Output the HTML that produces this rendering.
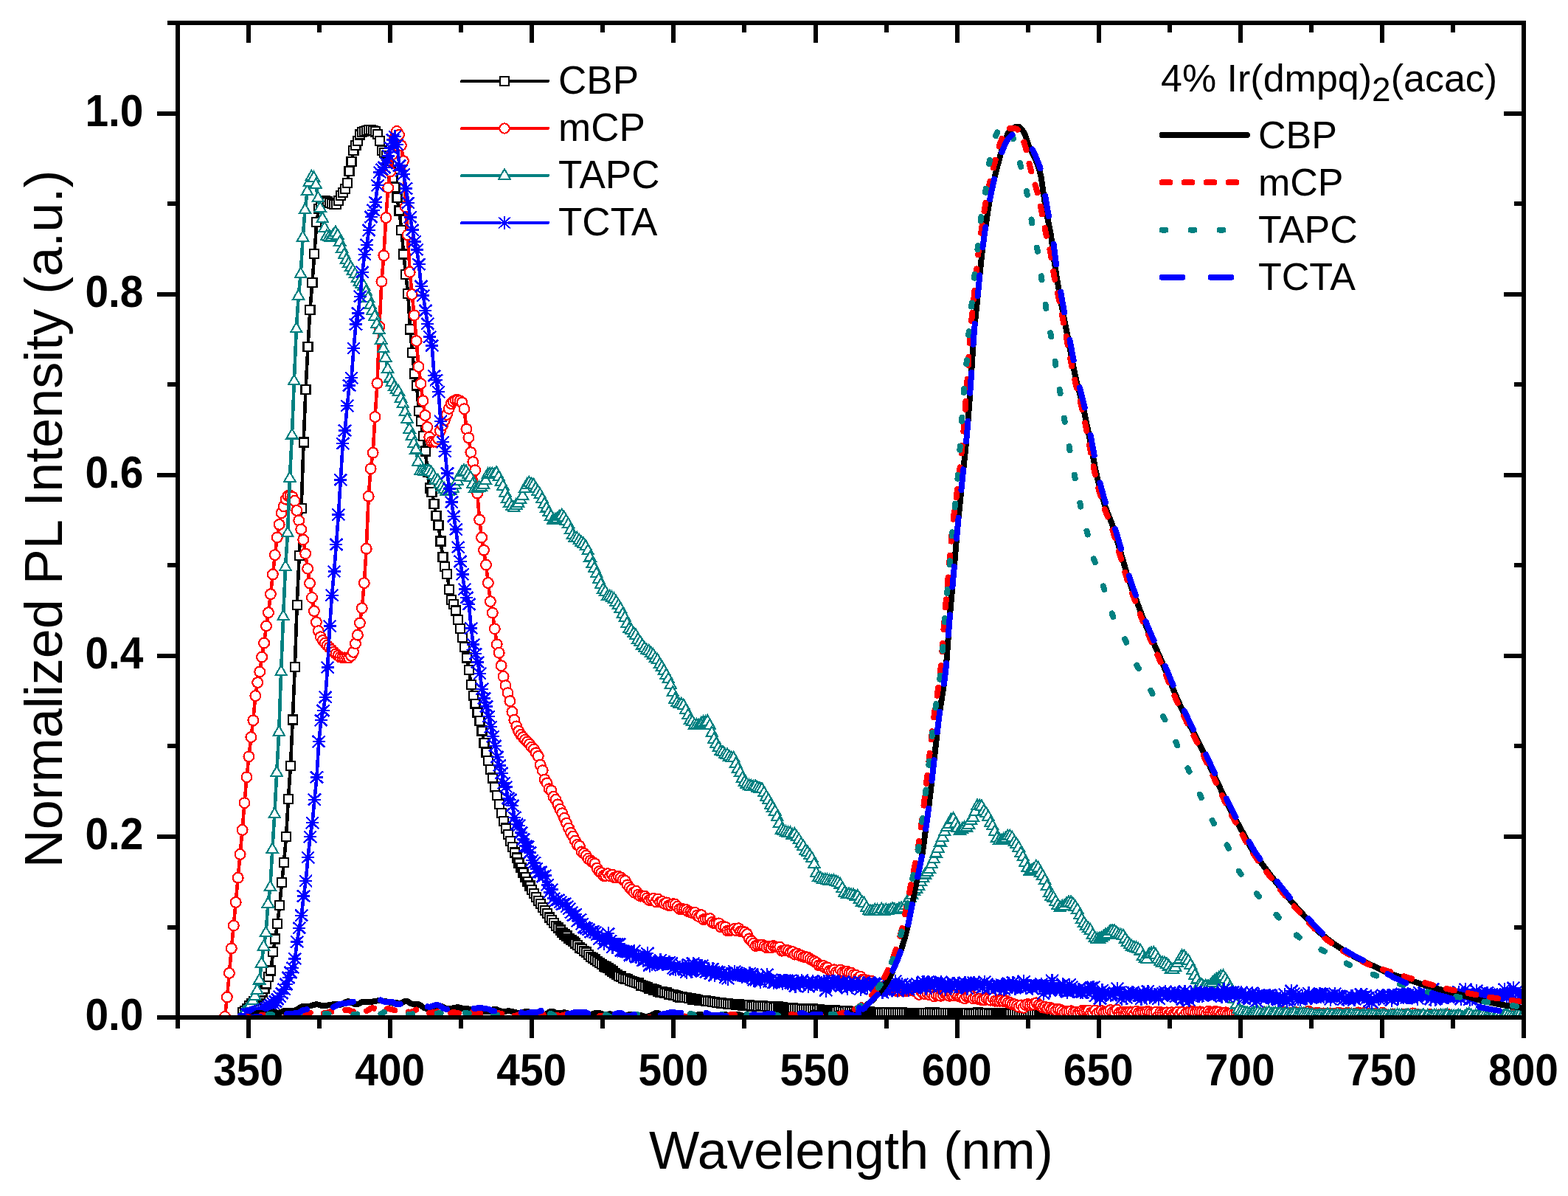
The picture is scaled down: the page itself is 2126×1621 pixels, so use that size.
<!DOCTYPE html><html><head><meta charset="utf-8"><style>html,body{margin:0;padding:0;background:#fff}svg{display:block}</style></head><body>
<svg width="2126" height="1621" viewBox="0 0 2126 1621" shape-rendering="crispEdges">
<rect width="2126" height="1621" fill="#fff"/>
<defs><clipPath id="c"><rect x="241" y="31" width="1825" height="1348"/></clipPath></defs>
<g clip-path="url(#c)">
<path d="M329 1372L331.9 1369.9L334.9 1366.8L337.8 1363L340.8 1359.8L343.7 1357L346.7 1354.4L349.6 1351.6L352.6 1348.4L355.5 1344.6L358.5 1340L361.4 1333.5L364.4 1323.9L367.3 1315.4L370.3 1289.8L373.2 1272.5L376.2 1251.8L379.1 1227.1L382.1 1196.2L385 1169.1L388 1134.1L390.9 1083.1L393.9 1038.2L396.8 975.6L399.8 904L402.7 820L405.7 753.2L408.6 689L411.6 599.6L414.5 527.8L417.5 469.9L420.4 419.8L423.4 383.1L426.3 344.3L429.3 301.3L432.2 282.9L435.2 274.6L438.1 271.7L441.1 272.3L444 273.5L447 274.7L449.9 275.9L452.9 277.1L455.8 277.4L458.8 271.6L461.7 265L464.7 260.9L467.6 255.9L470.6 248.2L473.5 232L476.5 219.2L479.4 204.3L482.4 197.1L485.3 190.7L488.3 182.5L491.2 179.3L494.2 177.6L497.1 176.7L500.1 176.2L503 176.2L506 176.9L508.9 178.4L511.9 182.2L514.8 190.9L517.8 203.8L520.7 206.6L523.7 211.2L526.6 219.7L529.6 230.1L532.5 241.1L535.5 253.7L538.4 268.2L541.4 285.5L544.3 311.9L547.3 344.5L550.2 372.4L553.2 398.1L556.1 446.4L559.1 478.1L562 506.5L565 522.6L567.9 556.9L570.9 570.9L573.8 591L576.8 611.5L579.7 640L582.7 661.5L585.6 666.8L588.6 683.1L591.5 698.9L594.5 712.3L597.4 733.4L600.4 755.1L603.3 768.2L606.3 778.1L609.2 798.9L612.2 813L615.1 818.9L618.1 827.4L621 839.9L624 851.7L626.9 863.8L629.9 876.7L632.8 891.5L635.8 908.2L638.7 928.3L641.7 943.2L644.6 954.3L647.6 965.6L650.5 976.9L653.5 990.4L656.4 1006.8L659.4 1019.6L662.3 1030.9L665.3 1042.7L668.2 1054.6L671.2 1066.4L674.1 1078.1L677.1 1090L680 1102L683 1112.7L685.9 1122.4L688.9 1131.3L691.8 1139.8L694.8 1147.8L697.7 1155.4L700.7 1162.6L703.6 1169.5L706.6 1176.1L709.5 1182.5L712.5 1188.7L715.4 1194.9L718.4 1200.5L721.3 1206.2L724.3 1211.2L727.2 1215.9L730.2 1220.8L733.1 1225.1L736.1 1229.9L739 1233.8L742 1238.2L744.9 1243.6L747.9 1247.1L750.8 1251L753.8 1254.7L756.7 1257.5L759.7 1260.6L762.6 1263.7L765.6 1266.4L768.5 1268.5L771.5 1271.9L774.4 1273.9L777.4 1276.1L780.3 1278.6L783.3 1281.2L786.2 1284.4L789.2 1285.8L792.1 1288.9L795.1 1290.5L798 1293.9L801 1296.7L803.9 1298.5L806.9 1300.5L809.8 1302.9L812.8 1305.1L815.7 1307L818.7 1309.4L821.6 1310.6L824.6 1312.2L827.5 1314.5L830.5 1316.6L833.4 1318.8L836.4 1320.7L839.3 1322.7L842.3 1323.5L845.2 1325.8L848.2 1326.4L851.1 1327.3L854.1 1329L857 1330.3L860 1331L862.9 1331.9L865.9 1332.6L868.8 1335.4L871.8 1336L874.7 1336.7L877.7 1338.2L880.6 1339.7L883.6 1340L886.5 1341.6L889.5 1342.2L892.4 1343.7L895.4 1344.4L898.3 1343.7L901.3 1345.5L904.2 1345.6L907.2 1347.4L910.1 1347.8L913.1 1348.6L916 1348.7L919 1350.6L921.9 1351.4L924.9 1350.8L927.8 1352L930.8 1352.3L933.7 1353.1L936.7 1353.1L939.6 1354.9L942.6 1354.3L945.5 1355L948.5 1355.8L951.4 1355.7L954.4 1356.3L957.3 1356.6L960.3 1357.2L963.2 1357.1L966.2 1357.8L969.1 1358.3L972.1 1358.7L975 1359.2L978 1359.5L980.9 1360.3L983.9 1360.2L986.8 1360.6L989.8 1360.7L992.7 1361.1L995.7 1361L998.6 1362L1001.6 1361.6L1004.5 1362L1007.5 1362.6L1010.4 1362.9L1013.4 1362.8L1016.3 1362.3L1019.3 1363.5L1022.2 1363.6L1025.2 1363.1L1028.1 1364.1L1031.1 1363.6L1034 1363.6L1037 1364.2L1039.9 1364.2L1042.9 1364.5L1045.8 1364L1048.8 1365.5L1051.7 1364.7L1054.7 1364.6L1057.6 1365.7L1060.6 1365.5L1063.5 1366L1066.5 1366L1069.4 1366.4L1072.4 1366.7L1075.3 1366.6L1078.3 1367.3L1081.2 1367L1084.2 1367L1087.1 1367.6L1090.1 1367.8L1093 1367.7L1096 1367.6L1098.9 1368.3L1101.9 1367.5L1104.8 1367.9L1107.8 1368.5L1110.7 1368.1L1113.7 1368.8L1116.6 1368.9L1119.6 1369.4L1122.5 1368.9L1125.5 1369.1L1128.4 1369.7L1131.4 1368.7L1134.3 1371.1L1137.3 1369.7L1140.2 1369.8L1143.2 1370.6L1146.1 1370.5L1149.1 1369.9L1152 1371.1L1155 1371.3L1157.9 1371L1160.9 1371.2L1163.8 1371.6L1166.8 1371.2L1169.7 1371.9L1172.7 1371.9L1175.6 1371.6L1178.6 1371.4L1181.5 1371.9L1184.5 1371.7L1187.4 1372.5L1190.4 1372.3L1193.3 1372.6L1196.3 1372.4L1199.2 1372.5L1202.2 1372.1L1205.1 1372.7L1208.1 1373.2L1211 1372.4L1214 1372.4L1216.9 1372.6L1219.9 1372.5L1222.8 1372.4L1225.8 1372.8L1228.7 1372.7L1231.7 1373.4L1234.6 1372.8L1237.6 1373L1240.5 1373.3L1243.5 1372.8L1246.4 1373.5L1249.4 1372.7L1252.3 1372.7L1255.3 1372.9L1258.2 1373L1261.2 1372.5L1264.1 1373.1L1267.1 1372.5L1270 1373.7L1273 1373.2L1275.9 1373L1278.9 1372.9L1281.8 1373.1L1284.8 1373.2L1287.7 1372.9L1290.7 1373L1293.6 1373.3L1296.6 1373.2L1299.5 1373.8L1302.5 1373.9L1305.4 1373.4L1308.4 1373.6L1311.3 1372.9L1314.3 1373.7L1317.2 1373.5L1320.2 1373.7L1323.1 1374.2L1326.1 1372.6L1329 1373.7L1332 1373.1L1334.9 1373.8L1337.9 1373.1L1340.8 1373.4L1343.8 1373.7L1346.7 1373.9L1349.7 1373.7L1352.6 1373.4L1355.6 1373.5L1358.5 1374.1L1361.5 1373.8L1364.4 1373.1L1367.4 1374.1L1370.3 1374L1373.3 1374.2L1376.2 1373.7L1379.2 1374.2L1382.1 1373.5L1385.1 1374.1L1388 1373.7L1391 1374.2L1393.9 1374.4L1396.9 1373.7L1399.8 1374L1402.8 1374L1405.7 1374.5L1408.7 1374.3L1411.6 1373.6L1414.6 1374.3L1417.5 1374.4L1420.5 1375L1423.4 1373.5L1426.4 1374L1429.3 1374.7L1432.3 1373.7L1435.2 1373.8L1438.2 1374.5L1441.1 1374.7L1444.1 1374.1L1447 1374.6L1450 1374.4L1452.9 1375L1455.9 1374.4L1458.8 1374.8L1461.8 1374.1L1464.7 1374.4L1467.7 1374.5L1470.6 1375L1473.6 1374.8L1476.5 1374.3L1479.5 1374.9L1482.4 1374.9L1485.4 1374.6L1488.3 1374.5L1491.3 1374.6L1494.2 1374L1497.2 1374.8L1500.1 1374.8L1503.1 1374.4L1506 1375.1L1509 1374.3L1511.9 1374.6L1514.9 1374.7L1517.8 1375.7L1520.8 1374.3L1523.7 1375.1L1526.7 1375.3L1529.6 1375.1L1532.6 1375.5L1535.5 1374.6L1538.5 1374.1L1541.4 1375.4L1544.4 1374.6L1547.3 1375L1550.3 1374.7L1553.2 1375.6L1556.2 1375.5L1559.1 1374.9L1562.1 1375.6L1565 1375.3L1568 1375.2L1570.9 1375.3L1573.9 1375.2L1576.8 1375.6L1579.8 1375.5L1582.7 1375.2L1585.7 1375.8L1588.6 1375.2L1591.6 1375.6L1594.5 1375.6L1597.5 1376.1L1600.4 1375.3L1603.4 1376.2L1606.3 1375.6L1609.3 1375.5L1612.2 1375.3L1615.2 1375.8L1618.1 1375.7L1621.1 1375.2L1624 1375.2L1627 1375.5L1629.9 1375.4L1632.9 1376.2L1635.8 1376.3L1638.8 1376.1L1641.7 1375.9L1644.7 1375.6L1647.6 1375.9L1650.6 1376.2L1653.5 1376.7L1656.5 1376.3L1659.4 1375.8L1662.4 1375.9L1665.3 1375.8L1668.3 1375.7L1671.2 1375.9L1674.2 1376.1L1677.1 1376.8L1680.1 1376.1L1683 1376.6L1686 1376.8L1688.9 1376.1L1691.9 1376.8L1694.8 1376.4L1697.8 1376L1700.7 1376.3L1703.7 1376.2L1706.6 1376.1L1709.6 1376.2L1712.5 1376.3L1715.5 1376.5L1718.4 1376L1721.4 1376.3L1724.3 1375.7L1727.3 1376.5L1730.2 1376.6L1733.2 1376.5L1736.1 1376.6L1739.1 1376.7L1742 1376.2L1745 1376.4L1747.9 1376.7L1750.9 1377L1753.8 1376.7L1756.8 1377.6L1759.7 1376.6L1762.7 1377L1765.6 1377.2L1768.6 1376.6L1771.5 1376.4L1774.5 1376.3L1777.4 1376.8L1780.4 1377.3L1783.3 1376.9L1786.3 1376.9L1789.2 1376.7L1792.2 1377.1L1795.1 1376.1L1798.1 1377.1L1801 1377L1804 1376.5L1806.9 1378L1809.9 1376.6L1812.8 1376.7L1815.8 1376.7L1818.7 1377.7L1821.7 1376.9L1824.6 1377.6L1827.6 1377.6L1830.5 1377.6L1833.5 1377L1836.4 1377.3L1839.4 1378.3L1842.3 1377.2L1845.3 1377.4L1848.2 1377.7L1851.2 1378.2L1854.1 1378L1857.1 1378.2L1860 1377.6L1863 1378.4L1865.9 1378.3L1868.9 1377.5L1871.8 1378.8L1874.8 1379.2L1877.7 1378L1880.7 1378.3L1883.6 1378.9L1886.6 1377.8L1889.5 1377.6L1892.5 1377.9L1895.4 1378.2L1898.4 1378.3L1901.3 1378.7L1904.3 1378.6L1907.2 1378L1910.2 1378.8L1913.1 1379.3L1916.1 1379.1L1919 1379L1922 1378.6L1924.9 1379L1927.9 1378.3L1930.8 1379L1933.8 1378.6L1936.7 1379.1L1939.7 1378.9L1942.6 1378.3L1945.6 1378.8L1948.5 1379.2L1951.5 1378.3L1954.4 1378.5L1957.4 1378.5L1960.3 1378.2L1963.3 1379.2L1966.2 1379.3L1969.2 1379.1L1972.1 1378.9L1975.1 1378.8L1978 1378.9L1981 1378.6L1983.9 1379.2L1986.9 1379.3L1989.8 1379.2L1992.8 1378.7L1995.7 1378.9L1998.7 1378.8L2001.6 1379.6L2004.6 1379L2007.5 1378.2L2010.5 1379.1L2013.4 1379.7L2016.4 1379.2L2019.3 1379.3L2022.3 1379L2025.2 1378.2L2028.2 1378.2L2031.1 1378.5L2034.1 1378.9L2037 1379.1L2040 1379.3L2042.9 1378.8L2045.9 1379.4L2048.8 1378.9L2051.8 1378.7L2054.7 1379.3L2057.7 1378.6L2060.6 1377.9L2063.6 1378.6L2066.5 1379L2069.5 1377.8" fill="none" stroke="#000" stroke-width="4.6" stroke-linejoin="round"/>
<g fill="#fff" stroke="#000" stroke-width="2.2"><rect x="323" y="1366" width="12" height="12"/><rect x="325.9" y="1363.9" width="12" height="12"/><rect x="328.9" y="1360.8" width="12" height="12"/><rect x="331.8" y="1357" width="12" height="12"/><rect x="334.8" y="1353.8" width="12" height="12"/><rect x="337.7" y="1351" width="12" height="12"/><rect x="340.7" y="1348.4" width="12" height="12"/><rect x="343.6" y="1345.6" width="12" height="12"/><rect x="346.6" y="1342.4" width="12" height="12"/><rect x="349.5" y="1338.6" width="12" height="12"/><rect x="352.5" y="1334" width="12" height="12"/><rect x="355.4" y="1327.5" width="12" height="12"/><rect x="358.4" y="1317.9" width="12" height="12"/><rect x="361.3" y="1309.4" width="12" height="12"/><rect x="364.3" y="1283.8" width="12" height="12"/><rect x="367.2" y="1266.5" width="12" height="12"/><rect x="370.2" y="1245.8" width="12" height="12"/><rect x="373.1" y="1221.1" width="12" height="12"/><rect x="376.1" y="1190.2" width="12" height="12"/><rect x="379" y="1163.1" width="12" height="12"/><rect x="382" y="1128.1" width="12" height="12"/><rect x="384.9" y="1077.1" width="12" height="12"/><rect x="387.9" y="1032.2" width="12" height="12"/><rect x="390.8" y="969.6" width="12" height="12"/><rect x="393.8" y="898" width="12" height="12"/><rect x="396.7" y="814" width="12" height="12"/><rect x="399.7" y="747.2" width="12" height="12"/><rect x="402.6" y="683" width="12" height="12"/><rect x="405.6" y="593.6" width="12" height="12"/><rect x="408.5" y="521.8" width="12" height="12"/><rect x="411.5" y="463.9" width="12" height="12"/><rect x="414.4" y="413.8" width="12" height="12"/><rect x="417.4" y="377.1" width="12" height="12"/><rect x="420.3" y="338.3" width="12" height="12"/><rect x="423.3" y="295.3" width="12" height="12"/><rect x="426.2" y="276.9" width="12" height="12"/><rect x="429.2" y="268.6" width="12" height="12"/><rect x="432.1" y="265.7" width="12" height="12"/><rect x="435.1" y="266.3" width="12" height="12"/><rect x="438" y="267.5" width="12" height="12"/><rect x="441" y="268.7" width="12" height="12"/><rect x="443.9" y="269.9" width="12" height="12"/><rect x="446.9" y="271.1" width="12" height="12"/><rect x="449.8" y="271.4" width="12" height="12"/><rect x="452.8" y="265.6" width="12" height="12"/><rect x="455.7" y="259" width="12" height="12"/><rect x="458.7" y="254.9" width="12" height="12"/><rect x="461.6" y="249.9" width="12" height="12"/><rect x="464.6" y="242.2" width="12" height="12"/><rect x="467.5" y="226" width="12" height="12"/><rect x="470.5" y="213.2" width="12" height="12"/><rect x="473.4" y="198.3" width="12" height="12"/><rect x="476.4" y="191.1" width="12" height="12"/><rect x="479.3" y="184.7" width="12" height="12"/><rect x="482.3" y="176.5" width="12" height="12"/><rect x="485.2" y="173.3" width="12" height="12"/><rect x="488.2" y="171.6" width="12" height="12"/><rect x="491.1" y="170.7" width="12" height="12"/><rect x="494.1" y="170.2" width="12" height="12"/><rect x="497" y="170.2" width="12" height="12"/><rect x="500" y="170.9" width="12" height="12"/><rect x="502.9" y="172.4" width="12" height="12"/><rect x="505.9" y="176.2" width="12" height="12"/><rect x="508.8" y="184.9" width="12" height="12"/><rect x="511.8" y="197.8" width="12" height="12"/><rect x="514.7" y="200.6" width="12" height="12"/><rect x="517.7" y="205.2" width="12" height="12"/><rect x="520.6" y="213.7" width="12" height="12"/><rect x="523.6" y="224.1" width="12" height="12"/><rect x="526.5" y="235.1" width="12" height="12"/><rect x="529.5" y="247.7" width="12" height="12"/><rect x="532.4" y="262.2" width="12" height="12"/><rect x="535.4" y="279.5" width="12" height="12"/><rect x="538.3" y="305.9" width="12" height="12"/><rect x="541.3" y="338.5" width="12" height="12"/><rect x="544.2" y="366.4" width="12" height="12"/><rect x="547.2" y="392.1" width="12" height="12"/><rect x="550.1" y="440.4" width="12" height="12"/><rect x="553.1" y="472.1" width="12" height="12"/><rect x="556" y="500.5" width="12" height="12"/><rect x="559" y="516.6" width="12" height="12"/><rect x="561.9" y="550.9" width="12" height="12"/><rect x="564.9" y="564.9" width="12" height="12"/><rect x="567.8" y="585" width="12" height="12"/><rect x="570.8" y="605.5" width="12" height="12"/><rect x="573.7" y="634" width="12" height="12"/><rect x="576.7" y="655.5" width="12" height="12"/><rect x="579.6" y="660.8" width="12" height="12"/><rect x="582.6" y="677.1" width="12" height="12"/><rect x="585.5" y="692.9" width="12" height="12"/><rect x="588.5" y="706.3" width="12" height="12"/><rect x="591.4" y="727.4" width="12" height="12"/><rect x="594.4" y="749.1" width="12" height="12"/><rect x="597.3" y="762.2" width="12" height="12"/><rect x="600.3" y="772.1" width="12" height="12"/><rect x="603.2" y="792.9" width="12" height="12"/><rect x="606.2" y="807" width="12" height="12"/><rect x="609.1" y="812.9" width="12" height="12"/><rect x="612.1" y="821.4" width="12" height="12"/><rect x="615" y="833.9" width="12" height="12"/><rect x="618" y="845.7" width="12" height="12"/><rect x="620.9" y="857.8" width="12" height="12"/><rect x="623.9" y="870.7" width="12" height="12"/><rect x="626.8" y="885.5" width="12" height="12"/><rect x="629.8" y="902.2" width="12" height="12"/><rect x="632.7" y="922.3" width="12" height="12"/><rect x="635.7" y="937.2" width="12" height="12"/><rect x="638.6" y="948.3" width="12" height="12"/><rect x="641.6" y="959.6" width="12" height="12"/><rect x="644.5" y="970.9" width="12" height="12"/><rect x="647.5" y="984.4" width="12" height="12"/><rect x="650.4" y="1000.8" width="12" height="12"/><rect x="653.4" y="1013.6" width="12" height="12"/><rect x="656.3" y="1024.9" width="12" height="12"/><rect x="659.3" y="1036.7" width="12" height="12"/><rect x="662.2" y="1048.6" width="12" height="12"/><rect x="665.2" y="1060.4" width="12" height="12"/><rect x="668.1" y="1072.1" width="12" height="12"/><rect x="671.1" y="1084" width="12" height="12"/><rect x="674" y="1096" width="12" height="12"/><rect x="677" y="1106.7" width="12" height="12"/><rect x="679.9" y="1116.4" width="12" height="12"/><rect x="682.9" y="1125.3" width="12" height="12"/><rect x="685.8" y="1133.8" width="12" height="12"/><rect x="688.8" y="1141.8" width="12" height="12"/><rect x="691.7" y="1149.4" width="12" height="12"/><rect x="694.7" y="1156.6" width="12" height="12"/><rect x="697.6" y="1163.5" width="12" height="12"/><rect x="700.6" y="1170.1" width="12" height="12"/><rect x="703.5" y="1176.5" width="12" height="12"/><rect x="706.5" y="1182.7" width="12" height="12"/><rect x="709.4" y="1188.9" width="12" height="12"/><rect x="712.4" y="1194.5" width="12" height="12"/><rect x="715.3" y="1200.2" width="12" height="12"/><rect x="718.3" y="1205.2" width="12" height="12"/><rect x="721.2" y="1209.9" width="12" height="12"/><rect x="724.2" y="1214.8" width="12" height="12"/><rect x="727.1" y="1219.1" width="12" height="12"/><rect x="730.1" y="1223.9" width="12" height="12"/><rect x="733" y="1227.8" width="12" height="12"/><rect x="736" y="1232.2" width="12" height="12"/><rect x="738.9" y="1237.6" width="12" height="12"/><rect x="741.9" y="1241.1" width="12" height="12"/><rect x="744.8" y="1245" width="12" height="12"/><rect x="747.8" y="1248.7" width="12" height="12"/><rect x="750.7" y="1251.5" width="12" height="12"/><rect x="753.7" y="1254.6" width="12" height="12"/><rect x="756.6" y="1257.7" width="12" height="12"/><rect x="759.6" y="1260.4" width="12" height="12"/><rect x="762.5" y="1262.5" width="12" height="12"/><rect x="765.5" y="1265.9" width="12" height="12"/><rect x="768.4" y="1267.9" width="12" height="12"/><rect x="771.4" y="1270.1" width="12" height="12"/><rect x="774.3" y="1272.6" width="12" height="12"/><rect x="777.3" y="1275.2" width="12" height="12"/><rect x="780.2" y="1278.4" width="12" height="12"/><rect x="783.2" y="1279.8" width="12" height="12"/><rect x="786.1" y="1282.9" width="12" height="12"/><rect x="789.1" y="1284.5" width="12" height="12"/><rect x="792" y="1287.9" width="12" height="12"/><rect x="795" y="1290.7" width="12" height="12"/><rect x="797.9" y="1292.5" width="12" height="12"/><rect x="800.9" y="1294.5" width="12" height="12"/><rect x="803.8" y="1296.9" width="12" height="12"/><rect x="806.8" y="1299.1" width="12" height="12"/><rect x="809.7" y="1301" width="12" height="12"/><rect x="812.7" y="1303.4" width="12" height="12"/><rect x="815.6" y="1304.6" width="12" height="12"/><rect x="818.6" y="1306.2" width="12" height="12"/><rect x="821.5" y="1308.5" width="12" height="12"/><rect x="824.5" y="1310.6" width="12" height="12"/><rect x="827.4" y="1312.8" width="12" height="12"/><rect x="830.4" y="1314.7" width="12" height="12"/><rect x="833.3" y="1316.7" width="12" height="12"/><rect x="836.3" y="1317.5" width="12" height="12"/><rect x="839.2" y="1319.8" width="12" height="12"/><rect x="842.2" y="1320.4" width="12" height="12"/><rect x="845.1" y="1321.3" width="12" height="12"/><rect x="848.1" y="1323" width="12" height="12"/><rect x="851" y="1324.3" width="12" height="12"/><rect x="854" y="1325" width="12" height="12"/><rect x="856.9" y="1325.9" width="12" height="12"/><rect x="859.9" y="1326.6" width="12" height="12"/><rect x="862.8" y="1329.4" width="12" height="12"/><rect x="865.8" y="1330" width="12" height="12"/><rect x="868.7" y="1330.7" width="12" height="12"/><rect x="871.7" y="1332.2" width="12" height="12"/><rect x="874.6" y="1333.7" width="12" height="12"/><rect x="877.6" y="1334" width="12" height="12"/><rect x="880.5" y="1335.6" width="12" height="12"/><rect x="883.5" y="1336.2" width="12" height="12"/><rect x="886.4" y="1337.7" width="12" height="12"/><rect x="889.4" y="1338.4" width="12" height="12"/><rect x="892.3" y="1337.7" width="12" height="12"/><rect x="895.3" y="1339.5" width="12" height="12"/><rect x="898.2" y="1339.6" width="12" height="12"/><rect x="901.2" y="1341.4" width="12" height="12"/><rect x="904.1" y="1341.8" width="12" height="12"/><rect x="907.1" y="1342.6" width="12" height="12"/><rect x="910" y="1342.7" width="12" height="12"/><rect x="913" y="1344.6" width="12" height="12"/><rect x="915.9" y="1345.4" width="12" height="12"/><rect x="918.9" y="1344.8" width="12" height="12"/><rect x="921.8" y="1346" width="12" height="12"/><rect x="924.8" y="1346.3" width="12" height="12"/><rect x="927.7" y="1347.1" width="12" height="12"/><rect x="930.7" y="1347.1" width="12" height="12"/><rect x="933.6" y="1348.9" width="12" height="12"/><rect x="936.6" y="1348.3" width="12" height="12"/><rect x="939.5" y="1349" width="12" height="12"/><rect x="942.5" y="1349.8" width="12" height="12"/><rect x="945.4" y="1349.7" width="12" height="12"/><rect x="948.4" y="1350.3" width="12" height="12"/><rect x="951.3" y="1350.6" width="12" height="12"/><rect x="954.3" y="1351.2" width="12" height="12"/><rect x="957.2" y="1351.1" width="12" height="12"/><rect x="960.2" y="1351.8" width="12" height="12"/><rect x="963.1" y="1352.3" width="12" height="12"/><rect x="966.1" y="1352.7" width="12" height="12"/><rect x="969" y="1353.2" width="12" height="12"/><rect x="972" y="1353.5" width="12" height="12"/><rect x="974.9" y="1354.3" width="12" height="12"/><rect x="977.9" y="1354.2" width="12" height="12"/><rect x="980.8" y="1354.6" width="12" height="12"/><rect x="983.8" y="1354.7" width="12" height="12"/><rect x="986.7" y="1355.1" width="12" height="12"/><rect x="989.7" y="1355" width="12" height="12"/><rect x="992.6" y="1356" width="12" height="12"/><rect x="995.6" y="1355.6" width="12" height="12"/><rect x="998.5" y="1356" width="12" height="12"/><rect x="1001.5" y="1356.6" width="12" height="12"/><rect x="1004.4" y="1356.9" width="12" height="12"/><rect x="1007.4" y="1356.8" width="12" height="12"/><rect x="1010.3" y="1356.3" width="12" height="12"/><rect x="1013.3" y="1357.5" width="12" height="12"/><rect x="1016.2" y="1357.6" width="12" height="12"/><rect x="1019.2" y="1357.1" width="12" height="12"/><rect x="1022.1" y="1358.1" width="12" height="12"/><rect x="1025.1" y="1357.6" width="12" height="12"/><rect x="1028" y="1357.6" width="12" height="12"/><rect x="1031" y="1358.2" width="12" height="12"/><rect x="1033.9" y="1358.2" width="12" height="12"/><rect x="1036.9" y="1358.5" width="12" height="12"/><rect x="1039.8" y="1358" width="12" height="12"/><rect x="1042.8" y="1359.5" width="12" height="12"/><rect x="1045.7" y="1358.7" width="12" height="12"/><rect x="1048.7" y="1358.6" width="12" height="12"/><rect x="1051.6" y="1359.7" width="12" height="12"/><rect x="1054.6" y="1359.5" width="12" height="12"/><rect x="1057.5" y="1360" width="12" height="12"/><rect x="1060.5" y="1360" width="12" height="12"/><rect x="1063.4" y="1360.4" width="12" height="12"/><rect x="1066.4" y="1360.7" width="12" height="12"/><rect x="1069.3" y="1360.6" width="12" height="12"/><rect x="1072.3" y="1361.3" width="12" height="12"/><rect x="1075.2" y="1361" width="12" height="12"/><rect x="1078.2" y="1361" width="12" height="12"/><rect x="1081.1" y="1361.6" width="12" height="12"/><rect x="1084.1" y="1361.8" width="12" height="12"/><rect x="1087" y="1361.7" width="12" height="12"/><rect x="1090" y="1361.6" width="12" height="12"/><rect x="1092.9" y="1362.3" width="12" height="12"/><rect x="1095.9" y="1361.5" width="12" height="12"/><rect x="1098.8" y="1361.9" width="12" height="12"/><rect x="1101.8" y="1362.5" width="12" height="12"/><rect x="1104.7" y="1362.1" width="12" height="12"/><rect x="1107.7" y="1362.8" width="12" height="12"/><rect x="1110.6" y="1362.9" width="12" height="12"/><rect x="1113.6" y="1363.4" width="12" height="12"/><rect x="1116.5" y="1362.9" width="12" height="12"/><rect x="1119.5" y="1363.1" width="12" height="12"/><rect x="1122.4" y="1363.7" width="12" height="12"/><rect x="1125.4" y="1362.7" width="12" height="12"/><rect x="1128.3" y="1365.1" width="12" height="12"/><rect x="1131.3" y="1363.7" width="12" height="12"/><rect x="1134.2" y="1363.8" width="12" height="12"/><rect x="1137.2" y="1364.6" width="12" height="12"/><rect x="1140.1" y="1364.5" width="12" height="12"/><rect x="1143.1" y="1363.9" width="12" height="12"/><rect x="1146" y="1365.1" width="12" height="12"/><rect x="1149" y="1365.3" width="12" height="12"/><rect x="1151.9" y="1365" width="12" height="12"/><rect x="1154.9" y="1365.2" width="12" height="12"/><rect x="1157.8" y="1365.6" width="12" height="12"/><rect x="1160.8" y="1365.2" width="12" height="12"/><rect x="1163.7" y="1365.9" width="12" height="12"/><rect x="1166.7" y="1365.9" width="12" height="12"/><rect x="1169.6" y="1365.6" width="12" height="12"/><rect x="1172.6" y="1365.4" width="12" height="12"/><rect x="1175.5" y="1365.9" width="12" height="12"/><rect x="1178.5" y="1365.7" width="12" height="12"/><rect x="1181.4" y="1366.5" width="12" height="12"/><rect x="1184.4" y="1366.3" width="12" height="12"/><rect x="1187.3" y="1366.6" width="12" height="12"/><rect x="1190.3" y="1366.4" width="12" height="12"/><rect x="1193.2" y="1366.5" width="12" height="12"/><rect x="1196.2" y="1366.1" width="12" height="12"/><rect x="1199.1" y="1366.7" width="12" height="12"/><rect x="1202.1" y="1367.2" width="12" height="12"/><rect x="1205" y="1366.4" width="12" height="12"/><rect x="1208" y="1366.4" width="12" height="12"/><rect x="1210.9" y="1366.6" width="12" height="12"/><rect x="1213.9" y="1366.5" width="12" height="12"/><rect x="1216.8" y="1366.4" width="12" height="12"/><rect x="1219.8" y="1366.8" width="12" height="12"/><rect x="1222.7" y="1366.7" width="12" height="12"/><rect x="1225.7" y="1367.4" width="12" height="12"/><rect x="1228.6" y="1366.8" width="12" height="12"/><rect x="1231.6" y="1367" width="12" height="12"/><rect x="1234.5" y="1367.3" width="12" height="12"/><rect x="1237.5" y="1366.8" width="12" height="12"/><rect x="1240.4" y="1367.5" width="12" height="12"/><rect x="1243.4" y="1366.7" width="12" height="12"/><rect x="1246.3" y="1366.7" width="12" height="12"/><rect x="1249.3" y="1366.9" width="12" height="12"/><rect x="1252.2" y="1367" width="12" height="12"/><rect x="1255.2" y="1366.5" width="12" height="12"/><rect x="1258.1" y="1367.1" width="12" height="12"/><rect x="1261.1" y="1366.5" width="12" height="12"/><rect x="1264" y="1367.7" width="12" height="12"/><rect x="1267" y="1367.2" width="12" height="12"/><rect x="1269.9" y="1367" width="12" height="12"/><rect x="1272.9" y="1366.9" width="12" height="12"/><rect x="1275.8" y="1367.1" width="12" height="12"/><rect x="1278.8" y="1367.2" width="12" height="12"/><rect x="1281.7" y="1366.9" width="12" height="12"/><rect x="1284.7" y="1367" width="12" height="12"/><rect x="1287.6" y="1367.3" width="12" height="12"/><rect x="1290.6" y="1367.2" width="12" height="12"/><rect x="1293.5" y="1367.8" width="12" height="12"/><rect x="1296.5" y="1367.9" width="12" height="12"/><rect x="1299.4" y="1367.4" width="12" height="12"/><rect x="1302.4" y="1367.6" width="12" height="12"/><rect x="1305.3" y="1366.9" width="12" height="12"/><rect x="1308.3" y="1367.7" width="12" height="12"/><rect x="1311.2" y="1367.5" width="12" height="12"/><rect x="1314.2" y="1367.7" width="12" height="12"/><rect x="1317.1" y="1368.2" width="12" height="12"/><rect x="1320.1" y="1366.6" width="12" height="12"/><rect x="1323" y="1367.7" width="12" height="12"/><rect x="1326" y="1367.1" width="12" height="12"/><rect x="1328.9" y="1367.8" width="12" height="12"/><rect x="1331.9" y="1367.1" width="12" height="12"/><rect x="1334.8" y="1367.4" width="12" height="12"/><rect x="1337.8" y="1367.7" width="12" height="12"/><rect x="1340.7" y="1367.9" width="12" height="12"/><rect x="1343.7" y="1367.7" width="12" height="12"/><rect x="1346.6" y="1367.4" width="12" height="12"/><rect x="1349.6" y="1367.5" width="12" height="12"/><rect x="1352.5" y="1368.1" width="12" height="12"/><rect x="1355.5" y="1367.8" width="12" height="12"/><rect x="1358.4" y="1367.1" width="12" height="12"/><rect x="1361.4" y="1368.1" width="12" height="12"/><rect x="1364.3" y="1368" width="12" height="12"/><rect x="1367.3" y="1368.2" width="12" height="12"/><rect x="1370.2" y="1367.7" width="12" height="12"/><rect x="1373.2" y="1368.2" width="12" height="12"/><rect x="1376.1" y="1367.5" width="12" height="12"/><rect x="1379.1" y="1368.1" width="12" height="12"/><rect x="1382" y="1367.7" width="12" height="12"/><rect x="1385" y="1368.2" width="12" height="12"/><rect x="1387.9" y="1368.4" width="12" height="12"/><rect x="1390.9" y="1367.7" width="12" height="12"/><rect x="1393.8" y="1368" width="12" height="12"/><rect x="1396.8" y="1368" width="12" height="12"/><rect x="1399.7" y="1368.5" width="12" height="12"/><rect x="1402.7" y="1368.3" width="12" height="12"/><rect x="1405.6" y="1367.6" width="12" height="12"/><rect x="1408.6" y="1368.3" width="12" height="12"/><rect x="1411.5" y="1368.4" width="12" height="12"/><rect x="1414.5" y="1369" width="12" height="12"/><rect x="1417.4" y="1367.5" width="12" height="12"/><rect x="1420.4" y="1368" width="12" height="12"/><rect x="1423.3" y="1368.7" width="12" height="12"/><rect x="1426.3" y="1367.7" width="12" height="12"/><rect x="1429.2" y="1367.8" width="12" height="12"/><rect x="1432.2" y="1368.5" width="12" height="12"/><rect x="1435.1" y="1368.7" width="12" height="12"/><rect x="1438.1" y="1368.1" width="12" height="12"/><rect x="1441" y="1368.6" width="12" height="12"/><rect x="1444" y="1368.4" width="12" height="12"/><rect x="1446.9" y="1369" width="12" height="12"/><rect x="1449.9" y="1368.4" width="12" height="12"/><rect x="1452.8" y="1368.8" width="12" height="12"/><rect x="1455.8" y="1368.1" width="12" height="12"/><rect x="1458.7" y="1368.4" width="12" height="12"/><rect x="1461.7" y="1368.5" width="12" height="12"/><rect x="1464.6" y="1369" width="12" height="12"/><rect x="1467.6" y="1368.8" width="12" height="12"/><rect x="1470.5" y="1368.3" width="12" height="12"/><rect x="1473.5" y="1368.9" width="12" height="12"/><rect x="1476.4" y="1368.9" width="12" height="12"/><rect x="1479.4" y="1368.6" width="12" height="12"/><rect x="1482.3" y="1368.5" width="12" height="12"/><rect x="1485.3" y="1368.6" width="12" height="12"/><rect x="1488.2" y="1368" width="12" height="12"/><rect x="1491.2" y="1368.8" width="12" height="12"/><rect x="1494.1" y="1368.8" width="12" height="12"/><rect x="1497.1" y="1368.4" width="12" height="12"/><rect x="1500" y="1369.1" width="12" height="12"/><rect x="1503" y="1368.3" width="12" height="12"/><rect x="1505.9" y="1368.6" width="12" height="12"/><rect x="1508.9" y="1368.7" width="12" height="12"/><rect x="1511.8" y="1369.7" width="12" height="12"/><rect x="1514.8" y="1368.3" width="12" height="12"/><rect x="1517.7" y="1369.1" width="12" height="12"/><rect x="1520.7" y="1369.3" width="12" height="12"/><rect x="1523.6" y="1369.1" width="12" height="12"/><rect x="1526.6" y="1369.5" width="12" height="12"/><rect x="1529.5" y="1368.6" width="12" height="12"/><rect x="1532.5" y="1368.1" width="12" height="12"/><rect x="1535.4" y="1369.4" width="12" height="12"/><rect x="1538.4" y="1368.6" width="12" height="12"/><rect x="1541.3" y="1369" width="12" height="12"/><rect x="1544.3" y="1368.7" width="12" height="12"/><rect x="1547.2" y="1369.6" width="12" height="12"/><rect x="1550.2" y="1369.5" width="12" height="12"/><rect x="1553.1" y="1368.9" width="12" height="12"/><rect x="1556.1" y="1369.6" width="12" height="12"/><rect x="1559" y="1369.3" width="12" height="12"/><rect x="1562" y="1369.2" width="12" height="12"/><rect x="1564.9" y="1369.3" width="12" height="12"/><rect x="1567.9" y="1369.2" width="12" height="12"/><rect x="1570.8" y="1369.6" width="12" height="12"/><rect x="1573.8" y="1369.5" width="12" height="12"/><rect x="1576.7" y="1369.2" width="12" height="12"/><rect x="1579.7" y="1369.8" width="12" height="12"/><rect x="1582.6" y="1369.2" width="12" height="12"/><rect x="1585.6" y="1369.6" width="12" height="12"/><rect x="1588.5" y="1369.6" width="12" height="12"/><rect x="1591.5" y="1370.1" width="12" height="12"/><rect x="1594.4" y="1369.3" width="12" height="12"/><rect x="1597.4" y="1370.2" width="12" height="12"/><rect x="1600.3" y="1369.6" width="12" height="12"/><rect x="1603.3" y="1369.5" width="12" height="12"/><rect x="1606.2" y="1369.3" width="12" height="12"/><rect x="1609.2" y="1369.8" width="12" height="12"/><rect x="1612.1" y="1369.7" width="12" height="12"/><rect x="1615.1" y="1369.2" width="12" height="12"/><rect x="1618" y="1369.2" width="12" height="12"/><rect x="1621" y="1369.5" width="12" height="12"/><rect x="1623.9" y="1369.4" width="12" height="12"/><rect x="1626.9" y="1370.2" width="12" height="12"/><rect x="1629.8" y="1370.3" width="12" height="12"/><rect x="1632.8" y="1370.1" width="12" height="12"/><rect x="1635.7" y="1369.9" width="12" height="12"/><rect x="1638.7" y="1369.6" width="12" height="12"/><rect x="1641.6" y="1369.9" width="12" height="12"/><rect x="1644.6" y="1370.2" width="12" height="12"/><rect x="1647.5" y="1370.7" width="12" height="12"/><rect x="1650.5" y="1370.3" width="12" height="12"/><rect x="1653.4" y="1369.8" width="12" height="12"/><rect x="1656.4" y="1369.9" width="12" height="12"/><rect x="1659.3" y="1369.8" width="12" height="12"/><rect x="1662.3" y="1369.7" width="12" height="12"/><rect x="1665.2" y="1369.9" width="12" height="12"/><rect x="1668.2" y="1370.1" width="12" height="12"/><rect x="1671.1" y="1370.8" width="12" height="12"/><rect x="1674.1" y="1370.1" width="12" height="12"/><rect x="1677" y="1370.6" width="12" height="12"/><rect x="1680" y="1370.8" width="12" height="12"/><rect x="1682.9" y="1370.1" width="12" height="12"/><rect x="1685.9" y="1370.8" width="12" height="12"/><rect x="1688.8" y="1370.4" width="12" height="12"/><rect x="1691.8" y="1370" width="12" height="12"/><rect x="1694.7" y="1370.3" width="12" height="12"/><rect x="1697.7" y="1370.2" width="12" height="12"/><rect x="1700.6" y="1370.1" width="12" height="12"/><rect x="1703.6" y="1370.2" width="12" height="12"/><rect x="1706.5" y="1370.3" width="12" height="12"/><rect x="1709.5" y="1370.5" width="12" height="12"/><rect x="1712.4" y="1370" width="12" height="12"/><rect x="1715.4" y="1370.3" width="12" height="12"/><rect x="1718.3" y="1369.7" width="12" height="12"/><rect x="1721.3" y="1370.5" width="12" height="12"/><rect x="1724.2" y="1370.6" width="12" height="12"/><rect x="1727.2" y="1370.5" width="12" height="12"/><rect x="1730.1" y="1370.6" width="12" height="12"/><rect x="1733.1" y="1370.7" width="12" height="12"/><rect x="1736" y="1370.2" width="12" height="12"/><rect x="1739" y="1370.4" width="12" height="12"/><rect x="1741.9" y="1370.7" width="12" height="12"/><rect x="1744.9" y="1371" width="12" height="12"/><rect x="1747.8" y="1370.7" width="12" height="12"/><rect x="1750.8" y="1371.6" width="12" height="12"/><rect x="1753.7" y="1370.6" width="12" height="12"/><rect x="1756.7" y="1371" width="12" height="12"/><rect x="1759.6" y="1371.2" width="12" height="12"/><rect x="1762.6" y="1370.6" width="12" height="12"/><rect x="1765.5" y="1370.4" width="12" height="12"/><rect x="1768.5" y="1370.3" width="12" height="12"/><rect x="1771.4" y="1370.8" width="12" height="12"/><rect x="1774.4" y="1371.3" width="12" height="12"/><rect x="1777.3" y="1370.9" width="12" height="12"/><rect x="1780.3" y="1370.9" width="12" height="12"/><rect x="1783.2" y="1370.7" width="12" height="12"/><rect x="1786.2" y="1371.1" width="12" height="12"/><rect x="1789.1" y="1370.1" width="12" height="12"/><rect x="1792.1" y="1371.1" width="12" height="12"/><rect x="1795" y="1371" width="12" height="12"/><rect x="1798" y="1370.5" width="12" height="12"/><rect x="1800.9" y="1372" width="12" height="12"/><rect x="1803.9" y="1370.6" width="12" height="12"/><rect x="1806.8" y="1370.7" width="12" height="12"/><rect x="1809.8" y="1370.7" width="12" height="12"/><rect x="1812.7" y="1371.7" width="12" height="12"/><rect x="1815.7" y="1370.9" width="12" height="12"/><rect x="1818.6" y="1371.6" width="12" height="12"/><rect x="1821.6" y="1371.6" width="12" height="12"/><rect x="1824.5" y="1371.6" width="12" height="12"/><rect x="1827.5" y="1371" width="12" height="12"/><rect x="1830.4" y="1371.3" width="12" height="12"/><rect x="1833.4" y="1372.3" width="12" height="12"/><rect x="1836.3" y="1371.2" width="12" height="12"/><rect x="1839.3" y="1371.4" width="12" height="12"/><rect x="1842.2" y="1371.7" width="12" height="12"/><rect x="1845.2" y="1372.2" width="12" height="12"/><rect x="1848.1" y="1372" width="12" height="12"/><rect x="1851.1" y="1372.2" width="12" height="12"/><rect x="1854" y="1371.6" width="12" height="12"/><rect x="1857" y="1372.4" width="12" height="12"/><rect x="1859.9" y="1372.3" width="12" height="12"/><rect x="1862.9" y="1371.5" width="12" height="12"/><rect x="1865.8" y="1372.8" width="12" height="12"/><rect x="1868.8" y="1373.2" width="12" height="12"/><rect x="1871.7" y="1372" width="12" height="12"/><rect x="1874.7" y="1372.3" width="12" height="12"/><rect x="1877.6" y="1372.9" width="12" height="12"/><rect x="1880.6" y="1371.8" width="12" height="12"/><rect x="1883.5" y="1371.6" width="12" height="12"/><rect x="1886.5" y="1371.9" width="12" height="12"/><rect x="1889.4" y="1372.2" width="12" height="12"/><rect x="1892.4" y="1372.3" width="12" height="12"/><rect x="1895.3" y="1372.7" width="12" height="12"/><rect x="1898.3" y="1372.6" width="12" height="12"/><rect x="1901.2" y="1372" width="12" height="12"/><rect x="1904.2" y="1372.8" width="12" height="12"/><rect x="1907.1" y="1373.3" width="12" height="12"/><rect x="1910.1" y="1373.1" width="12" height="12"/><rect x="1913" y="1373" width="12" height="12"/><rect x="1916" y="1372.6" width="12" height="12"/><rect x="1918.9" y="1373" width="12" height="12"/><rect x="1921.9" y="1372.3" width="12" height="12"/><rect x="1924.8" y="1373" width="12" height="12"/><rect x="1927.8" y="1372.6" width="12" height="12"/><rect x="1930.7" y="1373.1" width="12" height="12"/><rect x="1933.7" y="1372.9" width="12" height="12"/><rect x="1936.6" y="1372.3" width="12" height="12"/><rect x="1939.6" y="1372.8" width="12" height="12"/><rect x="1942.5" y="1373.2" width="12" height="12"/><rect x="1945.5" y="1372.3" width="12" height="12"/><rect x="1948.4" y="1372.5" width="12" height="12"/><rect x="1951.4" y="1372.5" width="12" height="12"/><rect x="1954.3" y="1372.2" width="12" height="12"/><rect x="1957.3" y="1373.2" width="12" height="12"/><rect x="1960.2" y="1373.3" width="12" height="12"/><rect x="1963.2" y="1373.1" width="12" height="12"/><rect x="1966.1" y="1372.9" width="12" height="12"/><rect x="1969.1" y="1372.8" width="12" height="12"/><rect x="1972" y="1372.9" width="12" height="12"/><rect x="1975" y="1372.6" width="12" height="12"/><rect x="1977.9" y="1373.2" width="12" height="12"/><rect x="1980.9" y="1373.3" width="12" height="12"/><rect x="1983.8" y="1373.2" width="12" height="12"/><rect x="1986.8" y="1372.7" width="12" height="12"/><rect x="1989.7" y="1372.9" width="12" height="12"/><rect x="1992.7" y="1372.8" width="12" height="12"/><rect x="1995.6" y="1373.6" width="12" height="12"/><rect x="1998.6" y="1373" width="12" height="12"/><rect x="2001.5" y="1372.2" width="12" height="12"/><rect x="2004.5" y="1373.1" width="12" height="12"/><rect x="2007.4" y="1373.7" width="12" height="12"/><rect x="2010.4" y="1373.2" width="12" height="12"/><rect x="2013.3" y="1373.3" width="12" height="12"/><rect x="2016.3" y="1373" width="12" height="12"/><rect x="2019.2" y="1372.2" width="12" height="12"/><rect x="2022.2" y="1372.2" width="12" height="12"/><rect x="2025.1" y="1372.5" width="12" height="12"/><rect x="2028.1" y="1372.9" width="12" height="12"/><rect x="2031" y="1373.1" width="12" height="12"/><rect x="2034" y="1373.3" width="12" height="12"/><rect x="2036.9" y="1372.8" width="12" height="12"/><rect x="2039.9" y="1373.4" width="12" height="12"/><rect x="2042.8" y="1372.9" width="12" height="12"/><rect x="2045.8" y="1372.7" width="12" height="12"/><rect x="2048.7" y="1373.3" width="12" height="12"/><rect x="2051.7" y="1372.6" width="12" height="12"/><rect x="2054.6" y="1371.9" width="12" height="12"/><rect x="2057.6" y="1372.6" width="12" height="12"/><rect x="2060.5" y="1373" width="12" height="12"/><rect x="2063.5" y="1371.8" width="12" height="12"/></g>
<path d="M305 1378L307.9 1351.5L310.9 1318.9L313.8 1285.3L316.8 1254.5L319.7 1222.9L322.7 1189.7L325.6 1157.9L328.6 1124.9L331.5 1088.2L334.5 1053.3L337.4 1025.4L340.4 999.1L343.3 976.3L346.3 943.1L349.2 925L352.2 910.4L355.1 890.5L358.1 871.5L361 848.3L364 830.1L366.9 805.2L369.9 778.5L372.8 752.1L375.8 728.3L378.7 710.9L381.7 695.2L384.6 686.3L387.6 676.7L390.5 672L393.5 671.9L396.4 673.3L399.4 678.9L402.3 691.9L405.3 705.5L408.2 717.4L411.2 731.6L414.1 750.3L417.1 770.8L420 790.4L423 810L425.9 828.2L428.9 843.2L431.8 855.1L434.8 863.2L437.7 868L440.7 871.6L443.6 874.7L446.6 877.5L449.5 880.5L452.5 883.6L455.4 886.3L458.4 888.6L461.3 890.6L464.3 891.4L467.2 891.4L470.2 891.4L473.1 891.4L476.1 888.9L479 883.9L482 872.1L484.9 860.7L487.9 844.3L490.8 824.2L493.8 790.1L496.7 743.7L499.7 672.7L502.6 635.3L505.6 613.7L508.5 565L511.5 519.5L514.4 442.8L517.4 381.6L520.3 346.4L523.3 295.1L526.2 254.4L529.2 232.7L532.1 209.3L535.1 187.1L538 178L541 183L543.9 197.1L546.9 218.2L549.8 280.6L552.8 318.3L555.7 368.8L558.7 399L561.6 427.3L564.6 462.1L567.5 497L570.5 520.1L573.4 543.2L576.4 563L579.3 578.9L582.3 592.5L585.2 598.7L588.2 598.7L591.1 598.7L594.1 595L597 584L600 576.7L602.9 569.5L605.9 562L608.8 553.9L611.8 547L614.7 544.1L617.7 542.2L620.6 542L623.6 543.2L626.5 545.4L629.5 554.3L632.4 581.5L635.4 593.4L638.3 613.1L641.3 626.1L644.2 637.3L647.2 668.7L650.1 704.3L653.1 728.5L656 745.8L659 765.6L661.9 790L664.9 815.1L667.8 830.7L670.8 852.2L673.7 873.4L676.7 884.8L679.6 902.2L682.6 916.9L685.5 929.2L688.5 939.2L691.4 950.2L694.4 964.8L697.3 975.7L700.3 984.4L703.2 990.9L706.2 995.9L709.1 999.2L712.1 1002.6L715 1005.3L718 1008.7L720.9 1012.5L723.9 1015.4L726.8 1020.3L729.8 1024.9L732.7 1036.7L735.7 1044.2L738.6 1056.5L741.6 1061.4L744.5 1069.3L747.5 1071.6L750.4 1079.8L753.4 1083.9L756.3 1090.3L759.3 1096.8L762.2 1102.2L765.2 1108.9L768.1 1115.7L771.1 1122.5L774 1128.8L777 1133.6L779.9 1139.5L782.9 1145L785.8 1146.8L788.8 1154.4L791.7 1156.6L794.7 1159.6L797.6 1163.9L800.6 1166.3L803.5 1168.6L806.5 1170.5L809.4 1176.6L812.4 1181.1L815.3 1183L818.3 1186.9L821.2 1186.9L824.2 1184.1L827.1 1187.2L830.1 1185.7L833 1189.3L836 1189.5L838.9 1188L841.9 1189.5L844.8 1192.4L847.8 1193.9L850.7 1199.4L853.7 1203L856.6 1205.8L859.6 1209.3L862.5 1207.8L865.5 1212.5L868.4 1214.6L871.4 1214.4L874.3 1214.7L877.3 1217.3L880.2 1220L883.2 1218.7L886.1 1217.8L889.1 1222.1L892 1218.6L895 1222.6L897.9 1222L900.9 1224.8L903.8 1223.4L906.8 1227.2L909.7 1226.8L912.7 1225.1L915.6 1225.8L918.6 1228.9L921.5 1232L924.5 1231.5L927.4 1232.5L930.4 1233.1L933.3 1235.5L936.3 1236.2L939.2 1237.2L942.2 1236.8L945.1 1240.8L948.1 1242.4L951 1240.2L954 1246.2L956.9 1245.5L959.9 1245.4L962.8 1245.1L965.8 1250L968.7 1251.5L971.7 1251.6L974.6 1251.4L977.6 1256.5L980.5 1255.3L983.5 1256.4L986.4 1261.4L989.4 1261.2L992.3 1260.3L995.3 1259.1L998.2 1261.2L1001.2 1258.2L1004.1 1262.3L1007.1 1262.4L1010 1263.6L1013 1266.1L1015.9 1272.3L1018.9 1275.3L1021.8 1278.6L1024.8 1282L1027.7 1281.1L1030.7 1281L1033.6 1280.5L1036.6 1282.5L1039.5 1284.1L1042.5 1283L1045.4 1284.2L1048.4 1282.1L1051.3 1283.4L1054.3 1283.6L1057.2 1283.7L1060.2 1288.7L1063.1 1288.4L1066.1 1287.5L1069 1288.6L1072 1290.7L1074.9 1290.1L1077.9 1293.6L1080.8 1292.4L1083.8 1294.8L1086.7 1295L1089.7 1296.9L1092.6 1297L1095.6 1297.9L1098.5 1299.9L1101.5 1301.5L1104.4 1303.2L1107.4 1305L1110.3 1308.3L1113.3 1308.8L1116.2 1309L1119.2 1311.7L1122.1 1311.4L1125.1 1315.6L1128 1315.6L1131 1314.3L1133.9 1317.9L1136.9 1318.6L1139.8 1314.6L1142.8 1317.5L1145.7 1318.3L1148.7 1316.8L1151.6 1318.3L1154.6 1318.9L1157.5 1321.3L1160.5 1321.7L1163.4 1325.7L1166.4 1323.5L1169.3 1327.6L1172.3 1328L1175.2 1329.8L1178.2 1329.3L1181.1 1329.6L1184.1 1332.4L1187 1335.6L1190 1337.7L1192.9 1337.4L1195.9 1338.1L1198.8 1337.1L1201.8 1340.9L1204.7 1341.3L1207.7 1339.5L1210.6 1340.6L1213.6 1339.9L1216.5 1343.5L1219.5 1342.6L1222.4 1342.2L1225.4 1343.2L1228.3 1343.5L1231.3 1342.7L1234.2 1341.8L1237.2 1342.1L1240.1 1341.8L1243.1 1345.1L1246 1347.9L1249 1343.4L1251.9 1346.5L1254.9 1347.5L1257.8 1346.4L1260.8 1348.5L1263.7 1347.3L1266.7 1350.5L1269.6 1348.2L1272.6 1349.1L1275.5 1349.8L1278.5 1348.3L1281.4 1346.5L1284.4 1348.1L1287.3 1349.8L1290.3 1348.8L1293.2 1349.4L1296.2 1348L1299.1 1349.9L1302.1 1351L1305 1350.5L1308 1353.3L1310.9 1350.8L1313.9 1350.1L1316.8 1349.6L1319.8 1353.5L1322.7 1352.2L1325.7 1353.9L1328.6 1353.5L1331.6 1355.3L1334.5 1355.1L1337.5 1353.3L1340.4 1354.4L1343.4 1355.7L1346.3 1352.9L1349.3 1356.7L1352.2 1356.7L1355.2 1356.8L1358.1 1355.8L1361.1 1357.3L1364 1356.4L1367 1358.9L1369.9 1359.1L1372.9 1361L1375.8 1361.2L1378.8 1363L1381.7 1364.9L1384.7 1362.4L1387.6 1365.9L1390.6 1362.1L1393.5 1361L1396.5 1362.2L1399.4 1361.2L1402.4 1361.6L1405.3 1359.3L1408.3 1362L1411.2 1363.2L1414.2 1365.6L1417.1 1364.9L1420.1 1366.7L1423 1365.5L1426 1367.2L1428.9 1367.4L1431.9 1369.5L1434.8 1367.9L1437.8 1368.6L1440.7 1370.8L1443.7 1372.7L1446.6 1371.1L1449.6 1371.1L1452.5 1370.3L1455.5 1372.3L1458.4 1371.6L1461.4 1373.2L1464.3 1371.4L1467.3 1369.8L1470.2 1370.3L1473.2 1369.8L1476.1 1369.5L1479.1 1372.8L1482 1372.3L1485 1369.6L1487.9 1373.6L1490.9 1371.6L1493.8 1370.1L1496.8 1371.9L1499.7 1371.4L1502.7 1370.6L1505.6 1369.1L1508.6 1371.8L1511.5 1372.3L1514.5 1368.7L1517.4 1372.9L1520.4 1373.1L1523.3 1371.8L1526.3 1372.6L1529.2 1372.1L1532.2 1371.4L1535.1 1372.1L1538.1 1374.3L1541 1370.7L1544 1372.9L1546.9 1372.9L1549.9 1371.7L1552.8 1372.1L1555.8 1370.9L1558.7 1371.6L1561.7 1372.7L1564.6 1373.1L1567.6 1371.6L1570.5 1376.7L1573.5 1372L1576.4 1372.9L1579.4 1372.5L1582.3 1372.3L1585.3 1374.5L1588.2 1372.2L1591.2 1374.5L1594.1 1374.3L1597.1 1371.5L1600 1374.2L1603 1372L1605.9 1376.4L1608.9 1372.4L1611.8 1371.6L1614.8 1370.4L1617.7 1371.2L1620.7 1372.1L1623.6 1371.6L1626.6 1371.3L1629.5 1372L1632.5 1372.7L1635.4 1374.8L1638.4 1370.7L1641.3 1372.2L1644.3 1371.7L1647.2 1371L1650.2 1371.4L1653.1 1371.8L1656.1 1374L1659 1372.8L1662 1372.4L1664.9 1373.9L1667.9 1373.5L1670.8 1372.8L1673.8 1373.6L1676.7 1372.1L1679.7 1374L1682.6 1373.8L1685.6 1372.7L1688.5 1371.6L1691.5 1375.2L1694.4 1373.4L1697.4 1377.2L1700.3 1372.5L1703.3 1374.4L1706.2 1372.8L1709.2 1373.7L1712.1 1374.5L1715.1 1372.4L1718 1373.3L1721 1373.6L1723.9 1373.6L1726.9 1374.3L1729.8 1374.8L1732.8 1374.6L1735.7 1373.9L1738.7 1373.1L1741.6 1372.1L1744.6 1372.6L1747.5 1372.9L1750.5 1374.5L1753.4 1373.2L1756.4 1372.1L1759.3 1374.5L1762.3 1372.7L1765.2 1372.7L1768.2 1373.5L1771.1 1374.4L1774.1 1370.7L1777 1372.4L1780 1374.1L1782.9 1373.4L1785.9 1372.8L1788.8 1373.2L1791.8 1375.7L1794.7 1373.4L1797.7 1374.9L1800.6 1375L1803.6 1373.4L1806.5 1374.6L1809.5 1373.5L1812.4 1373.3L1815.4 1372.7L1818.3 1375.3L1821.3 1373.7L1824.2 1373.5L1827.2 1372.8L1830.1 1376.7L1833.1 1375.3L1836 1374.2L1839 1373.5L1841.9 1372.4L1844.9 1374.9L1847.8 1374.9L1850.8 1372.7L1853.7 1376.1L1856.7 1375.6L1859.6 1373.4L1862.6 1374L1865.5 1374.2L1868.5 1375L1871.4 1374.7L1874.4 1372.8L1877.3 1376.9L1880.3 1375.4L1883.2 1376.7L1886.2 1376.8L1889.1 1374.9L1892.1 1375.7L1895 1376.3L1898 1376.5L1900.9 1375.3L1903.9 1374.8L1906.8 1375.8L1909.8 1374.8L1912.7 1375.2L1915.7 1373.4L1918.6 1376.3L1921.6 1374.9L1924.5 1375.6L1927.5 1376.4L1930.4 1377L1933.4 1379.1L1936.3 1377L1939.3 1375L1942.2 1377L1945.2 1376.1L1948.1 1377.5L1951.1 1376.1L1954 1376.1L1957 1376.4L1959.9 1376.3L1962.9 1374.8L1965.8 1376.3L1968.8 1377.2L1971.7 1378.8L1974.7 1376.9L1977.6 1376.9L1980.6 1378.1L1983.5 1378.1L1986.5 1379.5L1989.4 1378.3L1992.4 1377.5L1995.3 1379.3L1998.3 1379.6L2001.2 1377L2004.2 1377.9L2007.1 1375.5L2010.1 1377.2L2013 1376.6L2016 1377.5L2018.9 1377.2L2021.9 1377.6L2024.8 1377.7L2027.8 1378.5L2030.7 1378.2L2033.7 1377.2L2036.6 1376.2L2039.6 1379.5L2042.5 1379.8L2045.5 1377.4L2048.4 1378.7L2051.4 1376L2054.3 1375.9L2057.3 1377.6L2060.2 1379.9L2063.2 1376.6L2066.1 1376.9L2069.1 1380.1" fill="none" stroke="#f00" stroke-width="4.6" stroke-linejoin="round"/>
<g fill="#fff" stroke="#f00" stroke-width="2.2"><circle cx="305" cy="1378" r="6.9"/><circle cx="307.9" cy="1351.5" r="6.9"/><circle cx="310.9" cy="1318.9" r="6.9"/><circle cx="313.8" cy="1285.3" r="6.9"/><circle cx="316.8" cy="1254.5" r="6.9"/><circle cx="319.7" cy="1222.9" r="6.9"/><circle cx="322.7" cy="1189.7" r="6.9"/><circle cx="325.6" cy="1157.9" r="6.9"/><circle cx="328.6" cy="1124.9" r="6.9"/><circle cx="331.5" cy="1088.2" r="6.9"/><circle cx="334.5" cy="1053.3" r="6.9"/><circle cx="337.4" cy="1025.4" r="6.9"/><circle cx="340.4" cy="999.1" r="6.9"/><circle cx="343.3" cy="976.3" r="6.9"/><circle cx="346.3" cy="943.1" r="6.9"/><circle cx="349.2" cy="925" r="6.9"/><circle cx="352.2" cy="910.4" r="6.9"/><circle cx="355.1" cy="890.5" r="6.9"/><circle cx="358.1" cy="871.5" r="6.9"/><circle cx="361" cy="848.3" r="6.9"/><circle cx="364" cy="830.1" r="6.9"/><circle cx="366.9" cy="805.2" r="6.9"/><circle cx="369.9" cy="778.5" r="6.9"/><circle cx="372.8" cy="752.1" r="6.9"/><circle cx="375.8" cy="728.3" r="6.9"/><circle cx="378.7" cy="710.9" r="6.9"/><circle cx="381.7" cy="695.2" r="6.9"/><circle cx="384.6" cy="686.3" r="6.9"/><circle cx="387.6" cy="676.7" r="6.9"/><circle cx="390.5" cy="672" r="6.9"/><circle cx="393.5" cy="671.9" r="6.9"/><circle cx="396.4" cy="673.3" r="6.9"/><circle cx="399.4" cy="678.9" r="6.9"/><circle cx="402.3" cy="691.9" r="6.9"/><circle cx="405.3" cy="705.5" r="6.9"/><circle cx="408.2" cy="717.4" r="6.9"/><circle cx="411.2" cy="731.6" r="6.9"/><circle cx="414.1" cy="750.3" r="6.9"/><circle cx="417.1" cy="770.8" r="6.9"/><circle cx="420" cy="790.4" r="6.9"/><circle cx="423" cy="810" r="6.9"/><circle cx="425.9" cy="828.2" r="6.9"/><circle cx="428.9" cy="843.2" r="6.9"/><circle cx="431.8" cy="855.1" r="6.9"/><circle cx="434.8" cy="863.2" r="6.9"/><circle cx="437.7" cy="868" r="6.9"/><circle cx="440.7" cy="871.6" r="6.9"/><circle cx="443.6" cy="874.7" r="6.9"/><circle cx="446.6" cy="877.5" r="6.9"/><circle cx="449.5" cy="880.5" r="6.9"/><circle cx="452.5" cy="883.6" r="6.9"/><circle cx="455.4" cy="886.3" r="6.9"/><circle cx="458.4" cy="888.6" r="6.9"/><circle cx="461.3" cy="890.6" r="6.9"/><circle cx="464.3" cy="891.4" r="6.9"/><circle cx="467.2" cy="891.4" r="6.9"/><circle cx="470.2" cy="891.4" r="6.9"/><circle cx="473.1" cy="891.4" r="6.9"/><circle cx="476.1" cy="888.9" r="6.9"/><circle cx="479" cy="883.9" r="6.9"/><circle cx="482" cy="872.1" r="6.9"/><circle cx="484.9" cy="860.7" r="6.9"/><circle cx="487.9" cy="844.3" r="6.9"/><circle cx="490.8" cy="824.2" r="6.9"/><circle cx="493.8" cy="790.1" r="6.9"/><circle cx="496.7" cy="743.7" r="6.9"/><circle cx="499.7" cy="672.7" r="6.9"/><circle cx="502.6" cy="635.3" r="6.9"/><circle cx="505.6" cy="613.7" r="6.9"/><circle cx="508.5" cy="565" r="6.9"/><circle cx="511.5" cy="519.5" r="6.9"/><circle cx="514.4" cy="442.8" r="6.9"/><circle cx="517.4" cy="381.6" r="6.9"/><circle cx="520.3" cy="346.4" r="6.9"/><circle cx="523.3" cy="295.1" r="6.9"/><circle cx="526.2" cy="254.4" r="6.9"/><circle cx="529.2" cy="232.7" r="6.9"/><circle cx="532.1" cy="209.3" r="6.9"/><circle cx="535.1" cy="187.1" r="6.9"/><circle cx="538" cy="178" r="6.9"/><circle cx="541" cy="183" r="6.9"/><circle cx="543.9" cy="197.1" r="6.9"/><circle cx="546.9" cy="218.2" r="6.9"/><circle cx="549.8" cy="280.6" r="6.9"/><circle cx="552.8" cy="318.3" r="6.9"/><circle cx="555.7" cy="368.8" r="6.9"/><circle cx="558.7" cy="399" r="6.9"/><circle cx="561.6" cy="427.3" r="6.9"/><circle cx="564.6" cy="462.1" r="6.9"/><circle cx="567.5" cy="497" r="6.9"/><circle cx="570.5" cy="520.1" r="6.9"/><circle cx="573.4" cy="543.2" r="6.9"/><circle cx="576.4" cy="563" r="6.9"/><circle cx="579.3" cy="578.9" r="6.9"/><circle cx="582.3" cy="592.5" r="6.9"/><circle cx="585.2" cy="598.7" r="6.9"/><circle cx="588.2" cy="598.7" r="6.9"/><circle cx="591.1" cy="598.7" r="6.9"/><circle cx="594.1" cy="595" r="6.9"/><circle cx="597" cy="584" r="6.9"/><circle cx="600" cy="576.7" r="6.9"/><circle cx="602.9" cy="569.5" r="6.9"/><circle cx="605.9" cy="562" r="6.9"/><circle cx="608.8" cy="553.9" r="6.9"/><circle cx="611.8" cy="547" r="6.9"/><circle cx="614.7" cy="544.1" r="6.9"/><circle cx="617.7" cy="542.2" r="6.9"/><circle cx="620.6" cy="542" r="6.9"/><circle cx="623.6" cy="543.2" r="6.9"/><circle cx="626.5" cy="545.4" r="6.9"/><circle cx="629.5" cy="554.3" r="6.9"/><circle cx="632.4" cy="581.5" r="6.9"/><circle cx="635.4" cy="593.4" r="6.9"/><circle cx="638.3" cy="613.1" r="6.9"/><circle cx="641.3" cy="626.1" r="6.9"/><circle cx="644.2" cy="637.3" r="6.9"/><circle cx="647.2" cy="668.7" r="6.9"/><circle cx="650.1" cy="704.3" r="6.9"/><circle cx="653.1" cy="728.5" r="6.9"/><circle cx="656" cy="745.8" r="6.9"/><circle cx="659" cy="765.6" r="6.9"/><circle cx="661.9" cy="790" r="6.9"/><circle cx="664.9" cy="815.1" r="6.9"/><circle cx="667.8" cy="830.7" r="6.9"/><circle cx="670.8" cy="852.2" r="6.9"/><circle cx="673.7" cy="873.4" r="6.9"/><circle cx="676.7" cy="884.8" r="6.9"/><circle cx="679.6" cy="902.2" r="6.9"/><circle cx="682.6" cy="916.9" r="6.9"/><circle cx="685.5" cy="929.2" r="6.9"/><circle cx="688.5" cy="939.2" r="6.9"/><circle cx="691.4" cy="950.2" r="6.9"/><circle cx="694.4" cy="964.8" r="6.9"/><circle cx="697.3" cy="975.7" r="6.9"/><circle cx="700.3" cy="984.4" r="6.9"/><circle cx="703.2" cy="990.9" r="6.9"/><circle cx="706.2" cy="995.9" r="6.9"/><circle cx="709.1" cy="999.2" r="6.9"/><circle cx="712.1" cy="1002.6" r="6.9"/><circle cx="715" cy="1005.3" r="6.9"/><circle cx="718" cy="1008.7" r="6.9"/><circle cx="720.9" cy="1012.5" r="6.9"/><circle cx="723.9" cy="1015.4" r="6.9"/><circle cx="726.8" cy="1020.3" r="6.9"/><circle cx="729.8" cy="1024.9" r="6.9"/><circle cx="732.7" cy="1036.7" r="6.9"/><circle cx="735.7" cy="1044.2" r="6.9"/><circle cx="738.6" cy="1056.5" r="6.9"/><circle cx="741.6" cy="1061.4" r="6.9"/><circle cx="744.5" cy="1069.3" r="6.9"/><circle cx="747.5" cy="1071.6" r="6.9"/><circle cx="750.4" cy="1079.8" r="6.9"/><circle cx="753.4" cy="1083.9" r="6.9"/><circle cx="756.3" cy="1090.3" r="6.9"/><circle cx="759.3" cy="1096.8" r="6.9"/><circle cx="762.2" cy="1102.2" r="6.9"/><circle cx="765.2" cy="1108.9" r="6.9"/><circle cx="768.1" cy="1115.7" r="6.9"/><circle cx="771.1" cy="1122.5" r="6.9"/><circle cx="774" cy="1128.8" r="6.9"/><circle cx="777" cy="1133.6" r="6.9"/><circle cx="779.9" cy="1139.5" r="6.9"/><circle cx="782.9" cy="1145" r="6.9"/><circle cx="785.8" cy="1146.8" r="6.9"/><circle cx="788.8" cy="1154.4" r="6.9"/><circle cx="791.7" cy="1156.6" r="6.9"/><circle cx="794.7" cy="1159.6" r="6.9"/><circle cx="797.6" cy="1163.9" r="6.9"/><circle cx="800.6" cy="1166.3" r="6.9"/><circle cx="803.5" cy="1168.6" r="6.9"/><circle cx="806.5" cy="1170.5" r="6.9"/><circle cx="809.4" cy="1176.6" r="6.9"/><circle cx="812.4" cy="1181.1" r="6.9"/><circle cx="815.3" cy="1183" r="6.9"/><circle cx="818.3" cy="1186.9" r="6.9"/><circle cx="821.2" cy="1186.9" r="6.9"/><circle cx="824.2" cy="1184.1" r="6.9"/><circle cx="827.1" cy="1187.2" r="6.9"/><circle cx="830.1" cy="1185.7" r="6.9"/><circle cx="833" cy="1189.3" r="6.9"/><circle cx="836" cy="1189.5" r="6.9"/><circle cx="838.9" cy="1188" r="6.9"/><circle cx="841.9" cy="1189.5" r="6.9"/><circle cx="844.8" cy="1192.4" r="6.9"/><circle cx="847.8" cy="1193.9" r="6.9"/><circle cx="850.7" cy="1199.4" r="6.9"/><circle cx="853.7" cy="1203" r="6.9"/><circle cx="856.6" cy="1205.8" r="6.9"/><circle cx="859.6" cy="1209.3" r="6.9"/><circle cx="862.5" cy="1207.8" r="6.9"/><circle cx="865.5" cy="1212.5" r="6.9"/><circle cx="868.4" cy="1214.6" r="6.9"/><circle cx="871.4" cy="1214.4" r="6.9"/><circle cx="874.3" cy="1214.7" r="6.9"/><circle cx="877.3" cy="1217.3" r="6.9"/><circle cx="880.2" cy="1220" r="6.9"/><circle cx="883.2" cy="1218.7" r="6.9"/><circle cx="886.1" cy="1217.8" r="6.9"/><circle cx="889.1" cy="1222.1" r="6.9"/><circle cx="892" cy="1218.6" r="6.9"/><circle cx="895" cy="1222.6" r="6.9"/><circle cx="897.9" cy="1222" r="6.9"/><circle cx="900.9" cy="1224.8" r="6.9"/><circle cx="903.8" cy="1223.4" r="6.9"/><circle cx="906.8" cy="1227.2" r="6.9"/><circle cx="909.7" cy="1226.8" r="6.9"/><circle cx="912.7" cy="1225.1" r="6.9"/><circle cx="915.6" cy="1225.8" r="6.9"/><circle cx="918.6" cy="1228.9" r="6.9"/><circle cx="921.5" cy="1232" r="6.9"/><circle cx="924.5" cy="1231.5" r="6.9"/><circle cx="927.4" cy="1232.5" r="6.9"/><circle cx="930.4" cy="1233.1" r="6.9"/><circle cx="933.3" cy="1235.5" r="6.9"/><circle cx="936.3" cy="1236.2" r="6.9"/><circle cx="939.2" cy="1237.2" r="6.9"/><circle cx="942.2" cy="1236.8" r="6.9"/><circle cx="945.1" cy="1240.8" r="6.9"/><circle cx="948.1" cy="1242.4" r="6.9"/><circle cx="951" cy="1240.2" r="6.9"/><circle cx="954" cy="1246.2" r="6.9"/><circle cx="956.9" cy="1245.5" r="6.9"/><circle cx="959.9" cy="1245.4" r="6.9"/><circle cx="962.8" cy="1245.1" r="6.9"/><circle cx="965.8" cy="1250" r="6.9"/><circle cx="968.7" cy="1251.5" r="6.9"/><circle cx="971.7" cy="1251.6" r="6.9"/><circle cx="974.6" cy="1251.4" r="6.9"/><circle cx="977.6" cy="1256.5" r="6.9"/><circle cx="980.5" cy="1255.3" r="6.9"/><circle cx="983.5" cy="1256.4" r="6.9"/><circle cx="986.4" cy="1261.4" r="6.9"/><circle cx="989.4" cy="1261.2" r="6.9"/><circle cx="992.3" cy="1260.3" r="6.9"/><circle cx="995.3" cy="1259.1" r="6.9"/><circle cx="998.2" cy="1261.2" r="6.9"/><circle cx="1001.2" cy="1258.2" r="6.9"/><circle cx="1004.1" cy="1262.3" r="6.9"/><circle cx="1007.1" cy="1262.4" r="6.9"/><circle cx="1010" cy="1263.6" r="6.9"/><circle cx="1013" cy="1266.1" r="6.9"/><circle cx="1015.9" cy="1272.3" r="6.9"/><circle cx="1018.9" cy="1275.3" r="6.9"/><circle cx="1021.8" cy="1278.6" r="6.9"/><circle cx="1024.8" cy="1282" r="6.9"/><circle cx="1027.7" cy="1281.1" r="6.9"/><circle cx="1030.7" cy="1281" r="6.9"/><circle cx="1033.6" cy="1280.5" r="6.9"/><circle cx="1036.6" cy="1282.5" r="6.9"/><circle cx="1039.5" cy="1284.1" r="6.9"/><circle cx="1042.5" cy="1283" r="6.9"/><circle cx="1045.4" cy="1284.2" r="6.9"/><circle cx="1048.4" cy="1282.1" r="6.9"/><circle cx="1051.3" cy="1283.4" r="6.9"/><circle cx="1054.3" cy="1283.6" r="6.9"/><circle cx="1057.2" cy="1283.7" r="6.9"/><circle cx="1060.2" cy="1288.7" r="6.9"/><circle cx="1063.1" cy="1288.4" r="6.9"/><circle cx="1066.1" cy="1287.5" r="6.9"/><circle cx="1069" cy="1288.6" r="6.9"/><circle cx="1072" cy="1290.7" r="6.9"/><circle cx="1074.9" cy="1290.1" r="6.9"/><circle cx="1077.9" cy="1293.6" r="6.9"/><circle cx="1080.8" cy="1292.4" r="6.9"/><circle cx="1083.8" cy="1294.8" r="6.9"/><circle cx="1086.7" cy="1295" r="6.9"/><circle cx="1089.7" cy="1296.9" r="6.9"/><circle cx="1092.6" cy="1297" r="6.9"/><circle cx="1095.6" cy="1297.9" r="6.9"/><circle cx="1098.5" cy="1299.9" r="6.9"/><circle cx="1101.5" cy="1301.5" r="6.9"/><circle cx="1104.4" cy="1303.2" r="6.9"/><circle cx="1107.4" cy="1305" r="6.9"/><circle cx="1110.3" cy="1308.3" r="6.9"/><circle cx="1113.3" cy="1308.8" r="6.9"/><circle cx="1116.2" cy="1309" r="6.9"/><circle cx="1119.2" cy="1311.7" r="6.9"/><circle cx="1122.1" cy="1311.4" r="6.9"/><circle cx="1125.1" cy="1315.6" r="6.9"/><circle cx="1128" cy="1315.6" r="6.9"/><circle cx="1131" cy="1314.3" r="6.9"/><circle cx="1133.9" cy="1317.9" r="6.9"/><circle cx="1136.9" cy="1318.6" r="6.9"/><circle cx="1139.8" cy="1314.6" r="6.9"/><circle cx="1142.8" cy="1317.5" r="6.9"/><circle cx="1145.7" cy="1318.3" r="6.9"/><circle cx="1148.7" cy="1316.8" r="6.9"/><circle cx="1151.6" cy="1318.3" r="6.9"/><circle cx="1154.6" cy="1318.9" r="6.9"/><circle cx="1157.5" cy="1321.3" r="6.9"/><circle cx="1160.5" cy="1321.7" r="6.9"/><circle cx="1163.4" cy="1325.7" r="6.9"/><circle cx="1166.4" cy="1323.5" r="6.9"/><circle cx="1169.3" cy="1327.6" r="6.9"/><circle cx="1172.3" cy="1328" r="6.9"/><circle cx="1175.2" cy="1329.8" r="6.9"/><circle cx="1178.2" cy="1329.3" r="6.9"/><circle cx="1181.1" cy="1329.6" r="6.9"/><circle cx="1184.1" cy="1332.4" r="6.9"/><circle cx="1187" cy="1335.6" r="6.9"/><circle cx="1190" cy="1337.7" r="6.9"/><circle cx="1192.9" cy="1337.4" r="6.9"/><circle cx="1195.9" cy="1338.1" r="6.9"/><circle cx="1198.8" cy="1337.1" r="6.9"/><circle cx="1201.8" cy="1340.9" r="6.9"/><circle cx="1204.7" cy="1341.3" r="6.9"/><circle cx="1207.7" cy="1339.5" r="6.9"/><circle cx="1210.6" cy="1340.6" r="6.9"/><circle cx="1213.6" cy="1339.9" r="6.9"/><circle cx="1216.5" cy="1343.5" r="6.9"/><circle cx="1219.5" cy="1342.6" r="6.9"/><circle cx="1222.4" cy="1342.2" r="6.9"/><circle cx="1225.4" cy="1343.2" r="6.9"/><circle cx="1228.3" cy="1343.5" r="6.9"/><circle cx="1231.3" cy="1342.7" r="6.9"/><circle cx="1234.2" cy="1341.8" r="6.9"/><circle cx="1237.2" cy="1342.1" r="6.9"/><circle cx="1240.1" cy="1341.8" r="6.9"/><circle cx="1243.1" cy="1345.1" r="6.9"/><circle cx="1246" cy="1347.9" r="6.9"/><circle cx="1249" cy="1343.4" r="6.9"/><circle cx="1251.9" cy="1346.5" r="6.9"/><circle cx="1254.9" cy="1347.5" r="6.9"/><circle cx="1257.8" cy="1346.4" r="6.9"/><circle cx="1260.8" cy="1348.5" r="6.9"/><circle cx="1263.7" cy="1347.3" r="6.9"/><circle cx="1266.7" cy="1350.5" r="6.9"/><circle cx="1269.6" cy="1348.2" r="6.9"/><circle cx="1272.6" cy="1349.1" r="6.9"/><circle cx="1275.5" cy="1349.8" r="6.9"/><circle cx="1278.5" cy="1348.3" r="6.9"/><circle cx="1281.4" cy="1346.5" r="6.9"/><circle cx="1284.4" cy="1348.1" r="6.9"/><circle cx="1287.3" cy="1349.8" r="6.9"/><circle cx="1290.3" cy="1348.8" r="6.9"/><circle cx="1293.2" cy="1349.4" r="6.9"/><circle cx="1296.2" cy="1348" r="6.9"/><circle cx="1299.1" cy="1349.9" r="6.9"/><circle cx="1302.1" cy="1351" r="6.9"/><circle cx="1305" cy="1350.5" r="6.9"/><circle cx="1308" cy="1353.3" r="6.9"/><circle cx="1310.9" cy="1350.8" r="6.9"/><circle cx="1313.9" cy="1350.1" r="6.9"/><circle cx="1316.8" cy="1349.6" r="6.9"/><circle cx="1319.8" cy="1353.5" r="6.9"/><circle cx="1322.7" cy="1352.2" r="6.9"/><circle cx="1325.7" cy="1353.9" r="6.9"/><circle cx="1328.6" cy="1353.5" r="6.9"/><circle cx="1331.6" cy="1355.3" r="6.9"/><circle cx="1334.5" cy="1355.1" r="6.9"/><circle cx="1337.5" cy="1353.3" r="6.9"/><circle cx="1340.4" cy="1354.4" r="6.9"/><circle cx="1343.4" cy="1355.7" r="6.9"/><circle cx="1346.3" cy="1352.9" r="6.9"/><circle cx="1349.3" cy="1356.7" r="6.9"/><circle cx="1352.2" cy="1356.7" r="6.9"/><circle cx="1355.2" cy="1356.8" r="6.9"/><circle cx="1358.1" cy="1355.8" r="6.9"/><circle cx="1361.1" cy="1357.3" r="6.9"/><circle cx="1364" cy="1356.4" r="6.9"/><circle cx="1367" cy="1358.9" r="6.9"/><circle cx="1369.9" cy="1359.1" r="6.9"/><circle cx="1372.9" cy="1361" r="6.9"/><circle cx="1375.8" cy="1361.2" r="6.9"/><circle cx="1378.8" cy="1363" r="6.9"/><circle cx="1381.7" cy="1364.9" r="6.9"/><circle cx="1384.7" cy="1362.4" r="6.9"/><circle cx="1387.6" cy="1365.9" r="6.9"/><circle cx="1390.6" cy="1362.1" r="6.9"/><circle cx="1393.5" cy="1361" r="6.9"/><circle cx="1396.5" cy="1362.2" r="6.9"/><circle cx="1399.4" cy="1361.2" r="6.9"/><circle cx="1402.4" cy="1361.6" r="6.9"/><circle cx="1405.3" cy="1359.3" r="6.9"/><circle cx="1408.3" cy="1362" r="6.9"/><circle cx="1411.2" cy="1363.2" r="6.9"/><circle cx="1414.2" cy="1365.6" r="6.9"/><circle cx="1417.1" cy="1364.9" r="6.9"/><circle cx="1420.1" cy="1366.7" r="6.9"/><circle cx="1423" cy="1365.5" r="6.9"/><circle cx="1426" cy="1367.2" r="6.9"/><circle cx="1428.9" cy="1367.4" r="6.9"/><circle cx="1431.9" cy="1369.5" r="6.9"/><circle cx="1434.8" cy="1367.9" r="6.9"/><circle cx="1437.8" cy="1368.6" r="6.9"/><circle cx="1440.7" cy="1370.8" r="6.9"/><circle cx="1443.7" cy="1372.7" r="6.9"/><circle cx="1446.6" cy="1371.1" r="6.9"/><circle cx="1449.6" cy="1371.1" r="6.9"/><circle cx="1452.5" cy="1370.3" r="6.9"/><circle cx="1455.5" cy="1372.3" r="6.9"/><circle cx="1458.4" cy="1371.6" r="6.9"/><circle cx="1461.4" cy="1373.2" r="6.9"/><circle cx="1464.3" cy="1371.4" r="6.9"/><circle cx="1467.3" cy="1369.8" r="6.9"/><circle cx="1470.2" cy="1370.3" r="6.9"/><circle cx="1473.2" cy="1369.8" r="6.9"/><circle cx="1476.1" cy="1369.5" r="6.9"/><circle cx="1479.1" cy="1372.8" r="6.9"/><circle cx="1482" cy="1372.3" r="6.9"/><circle cx="1485" cy="1369.6" r="6.9"/><circle cx="1487.9" cy="1373.6" r="6.9"/><circle cx="1490.9" cy="1371.6" r="6.9"/><circle cx="1493.8" cy="1370.1" r="6.9"/><circle cx="1496.8" cy="1371.9" r="6.9"/><circle cx="1499.7" cy="1371.4" r="6.9"/><circle cx="1502.7" cy="1370.6" r="6.9"/><circle cx="1505.6" cy="1369.1" r="6.9"/><circle cx="1508.6" cy="1371.8" r="6.9"/><circle cx="1511.5" cy="1372.3" r="6.9"/><circle cx="1514.5" cy="1368.7" r="6.9"/><circle cx="1517.4" cy="1372.9" r="6.9"/><circle cx="1520.4" cy="1373.1" r="6.9"/><circle cx="1523.3" cy="1371.8" r="6.9"/><circle cx="1526.3" cy="1372.6" r="6.9"/><circle cx="1529.2" cy="1372.1" r="6.9"/><circle cx="1532.2" cy="1371.4" r="6.9"/><circle cx="1535.1" cy="1372.1" r="6.9"/><circle cx="1538.1" cy="1374.3" r="6.9"/><circle cx="1541" cy="1370.7" r="6.9"/><circle cx="1544" cy="1372.9" r="6.9"/><circle cx="1546.9" cy="1372.9" r="6.9"/><circle cx="1549.9" cy="1371.7" r="6.9"/><circle cx="1552.8" cy="1372.1" r="6.9"/><circle cx="1555.8" cy="1370.9" r="6.9"/><circle cx="1558.7" cy="1371.6" r="6.9"/><circle cx="1561.7" cy="1372.7" r="6.9"/><circle cx="1564.6" cy="1373.1" r="6.9"/><circle cx="1567.6" cy="1371.6" r="6.9"/><circle cx="1570.5" cy="1376.7" r="6.9"/><circle cx="1573.5" cy="1372" r="6.9"/><circle cx="1576.4" cy="1372.9" r="6.9"/><circle cx="1579.4" cy="1372.5" r="6.9"/><circle cx="1582.3" cy="1372.3" r="6.9"/><circle cx="1585.3" cy="1374.5" r="6.9"/><circle cx="1588.2" cy="1372.2" r="6.9"/><circle cx="1591.2" cy="1374.5" r="6.9"/><circle cx="1594.1" cy="1374.3" r="6.9"/><circle cx="1597.1" cy="1371.5" r="6.9"/><circle cx="1600" cy="1374.2" r="6.9"/><circle cx="1603" cy="1372" r="6.9"/><circle cx="1605.9" cy="1376.4" r="6.9"/><circle cx="1608.9" cy="1372.4" r="6.9"/><circle cx="1611.8" cy="1371.6" r="6.9"/><circle cx="1614.8" cy="1370.4" r="6.9"/><circle cx="1617.7" cy="1371.2" r="6.9"/><circle cx="1620.7" cy="1372.1" r="6.9"/><circle cx="1623.6" cy="1371.6" r="6.9"/><circle cx="1626.6" cy="1371.3" r="6.9"/><circle cx="1629.5" cy="1372" r="6.9"/><circle cx="1632.5" cy="1372.7" r="6.9"/><circle cx="1635.4" cy="1374.8" r="6.9"/><circle cx="1638.4" cy="1370.7" r="6.9"/><circle cx="1641.3" cy="1372.2" r="6.9"/><circle cx="1644.3" cy="1371.7" r="6.9"/><circle cx="1647.2" cy="1371" r="6.9"/><circle cx="1650.2" cy="1371.4" r="6.9"/><circle cx="1653.1" cy="1371.8" r="6.9"/><circle cx="1656.1" cy="1374" r="6.9"/><circle cx="1659" cy="1372.8" r="6.9"/><circle cx="1662" cy="1372.4" r="6.9"/><circle cx="1664.9" cy="1373.9" r="6.9"/><circle cx="1667.9" cy="1373.5" r="6.9"/><circle cx="1670.8" cy="1372.8" r="6.9"/><circle cx="1673.8" cy="1373.6" r="6.9"/><circle cx="1676.7" cy="1372.1" r="6.9"/><circle cx="1679.7" cy="1374" r="6.9"/><circle cx="1682.6" cy="1373.8" r="6.9"/><circle cx="1685.6" cy="1372.7" r="6.9"/><circle cx="1688.5" cy="1371.6" r="6.9"/><circle cx="1691.5" cy="1375.2" r="6.9"/><circle cx="1694.4" cy="1373.4" r="6.9"/><circle cx="1697.4" cy="1377.2" r="6.9"/><circle cx="1700.3" cy="1372.5" r="6.9"/><circle cx="1703.3" cy="1374.4" r="6.9"/><circle cx="1706.2" cy="1372.8" r="6.9"/><circle cx="1709.2" cy="1373.7" r="6.9"/><circle cx="1712.1" cy="1374.5" r="6.9"/><circle cx="1715.1" cy="1372.4" r="6.9"/><circle cx="1718" cy="1373.3" r="6.9"/><circle cx="1721" cy="1373.6" r="6.9"/><circle cx="1723.9" cy="1373.6" r="6.9"/><circle cx="1726.9" cy="1374.3" r="6.9"/><circle cx="1729.8" cy="1374.8" r="6.9"/><circle cx="1732.8" cy="1374.6" r="6.9"/><circle cx="1735.7" cy="1373.9" r="6.9"/><circle cx="1738.7" cy="1373.1" r="6.9"/><circle cx="1741.6" cy="1372.1" r="6.9"/><circle cx="1744.6" cy="1372.6" r="6.9"/><circle cx="1747.5" cy="1372.9" r="6.9"/><circle cx="1750.5" cy="1374.5" r="6.9"/><circle cx="1753.4" cy="1373.2" r="6.9"/><circle cx="1756.4" cy="1372.1" r="6.9"/><circle cx="1759.3" cy="1374.5" r="6.9"/><circle cx="1762.3" cy="1372.7" r="6.9"/><circle cx="1765.2" cy="1372.7" r="6.9"/><circle cx="1768.2" cy="1373.5" r="6.9"/><circle cx="1771.1" cy="1374.4" r="6.9"/><circle cx="1774.1" cy="1370.7" r="6.9"/><circle cx="1777" cy="1372.4" r="6.9"/><circle cx="1780" cy="1374.1" r="6.9"/><circle cx="1782.9" cy="1373.4" r="6.9"/><circle cx="1785.9" cy="1372.8" r="6.9"/><circle cx="1788.8" cy="1373.2" r="6.9"/><circle cx="1791.8" cy="1375.7" r="6.9"/><circle cx="1794.7" cy="1373.4" r="6.9"/><circle cx="1797.7" cy="1374.9" r="6.9"/><circle cx="1800.6" cy="1375" r="6.9"/><circle cx="1803.6" cy="1373.4" r="6.9"/><circle cx="1806.5" cy="1374.6" r="6.9"/><circle cx="1809.5" cy="1373.5" r="6.9"/><circle cx="1812.4" cy="1373.3" r="6.9"/><circle cx="1815.4" cy="1372.7" r="6.9"/><circle cx="1818.3" cy="1375.3" r="6.9"/><circle cx="1821.3" cy="1373.7" r="6.9"/><circle cx="1824.2" cy="1373.5" r="6.9"/><circle cx="1827.2" cy="1372.8" r="6.9"/><circle cx="1830.1" cy="1376.7" r="6.9"/><circle cx="1833.1" cy="1375.3" r="6.9"/><circle cx="1836" cy="1374.2" r="6.9"/><circle cx="1839" cy="1373.5" r="6.9"/><circle cx="1841.9" cy="1372.4" r="6.9"/><circle cx="1844.9" cy="1374.9" r="6.9"/><circle cx="1847.8" cy="1374.9" r="6.9"/><circle cx="1850.8" cy="1372.7" r="6.9"/><circle cx="1853.7" cy="1376.1" r="6.9"/><circle cx="1856.7" cy="1375.6" r="6.9"/><circle cx="1859.6" cy="1373.4" r="6.9"/><circle cx="1862.6" cy="1374" r="6.9"/><circle cx="1865.5" cy="1374.2" r="6.9"/><circle cx="1868.5" cy="1375" r="6.9"/><circle cx="1871.4" cy="1374.7" r="6.9"/><circle cx="1874.4" cy="1372.8" r="6.9"/><circle cx="1877.3" cy="1376.9" r="6.9"/><circle cx="1880.3" cy="1375.4" r="6.9"/><circle cx="1883.2" cy="1376.7" r="6.9"/><circle cx="1886.2" cy="1376.8" r="6.9"/><circle cx="1889.1" cy="1374.9" r="6.9"/><circle cx="1892.1" cy="1375.7" r="6.9"/><circle cx="1895" cy="1376.3" r="6.9"/><circle cx="1898" cy="1376.5" r="6.9"/><circle cx="1900.9" cy="1375.3" r="6.9"/><circle cx="1903.9" cy="1374.8" r="6.9"/><circle cx="1906.8" cy="1375.8" r="6.9"/><circle cx="1909.8" cy="1374.8" r="6.9"/><circle cx="1912.7" cy="1375.2" r="6.9"/><circle cx="1915.7" cy="1373.4" r="6.9"/><circle cx="1918.6" cy="1376.3" r="6.9"/><circle cx="1921.6" cy="1374.9" r="6.9"/><circle cx="1924.5" cy="1375.6" r="6.9"/><circle cx="1927.5" cy="1376.4" r="6.9"/><circle cx="1930.4" cy="1377" r="6.9"/><circle cx="1933.4" cy="1379.1" r="6.9"/><circle cx="1936.3" cy="1377" r="6.9"/><circle cx="1939.3" cy="1375" r="6.9"/><circle cx="1942.2" cy="1377" r="6.9"/><circle cx="1945.2" cy="1376.1" r="6.9"/><circle cx="1948.1" cy="1377.5" r="6.9"/><circle cx="1951.1" cy="1376.1" r="6.9"/><circle cx="1954" cy="1376.1" r="6.9"/><circle cx="1957" cy="1376.4" r="6.9"/><circle cx="1959.9" cy="1376.3" r="6.9"/><circle cx="1962.9" cy="1374.8" r="6.9"/><circle cx="1965.8" cy="1376.3" r="6.9"/><circle cx="1968.8" cy="1377.2" r="6.9"/><circle cx="1971.7" cy="1378.8" r="6.9"/><circle cx="1974.7" cy="1376.9" r="6.9"/><circle cx="1977.6" cy="1376.9" r="6.9"/><circle cx="1980.6" cy="1378.1" r="6.9"/><circle cx="1983.5" cy="1378.1" r="6.9"/><circle cx="1986.5" cy="1379.5" r="6.9"/><circle cx="1989.4" cy="1378.3" r="6.9"/><circle cx="1992.4" cy="1377.5" r="6.9"/><circle cx="1995.3" cy="1379.3" r="6.9"/><circle cx="1998.3" cy="1379.6" r="6.9"/><circle cx="2001.2" cy="1377" r="6.9"/><circle cx="2004.2" cy="1377.9" r="6.9"/><circle cx="2007.1" cy="1375.5" r="6.9"/><circle cx="2010.1" cy="1377.2" r="6.9"/><circle cx="2013" cy="1376.6" r="6.9"/><circle cx="2016" cy="1377.5" r="6.9"/><circle cx="2018.9" cy="1377.2" r="6.9"/><circle cx="2021.9" cy="1377.6" r="6.9"/><circle cx="2024.8" cy="1377.7" r="6.9"/><circle cx="2027.8" cy="1378.5" r="6.9"/><circle cx="2030.7" cy="1378.2" r="6.9"/><circle cx="2033.7" cy="1377.2" r="6.9"/><circle cx="2036.6" cy="1376.2" r="6.9"/><circle cx="2039.6" cy="1379.5" r="6.9"/><circle cx="2042.5" cy="1379.8" r="6.9"/><circle cx="2045.5" cy="1377.4" r="6.9"/><circle cx="2048.4" cy="1378.7" r="6.9"/><circle cx="2051.4" cy="1376" r="6.9"/><circle cx="2054.3" cy="1375.9" r="6.9"/><circle cx="2057.3" cy="1377.6" r="6.9"/><circle cx="2060.2" cy="1379.9" r="6.9"/><circle cx="2063.2" cy="1376.6" r="6.9"/><circle cx="2066.1" cy="1376.9" r="6.9"/><circle cx="2069.1" cy="1380.1" r="6.9"/></g>
<path d="M331 1372L333.9 1369.3L336.9 1365.9L339.8 1361.8L342.8 1356.7L345.7 1350.4L348.7 1342.7L351.6 1329L354.6 1306.2L357.5 1283.1L360.5 1264.6L363.4 1225.2L366.4 1202.8L369.3 1151.3L372.3 1103.9L375.2 1047.4L378.2 992.5L381.1 910.8L384.1 835.8L387 768.6L390 723L392.9 648.3L395.9 590L398.8 516.8L401.8 446L404.7 401.6L407.7 371.8L410.6 322.2L413.6 284.8L416.5 259.9L419.5 247.3L422.4 239.8L425.4 241.4L428.3 251L431.3 268.9L434.2 282.3L437.2 296.5L440.1 309.6L443.1 320.2L446 321.7L449 322L451.9 319L454.9 315.3L457.8 319.5L460.8 328.3L463.7 337.7L466.7 345.8L469.6 352.5L472.6 357.9L475.5 362.9L478.5 367.2L481.4 372L484.4 377.8L487.3 382.4L490.3 385.2L493.2 388.1L496.2 395.7L499.1 404.1L502.1 413.9L505 421.3L508 429.4L510.9 439.7L513.9 447.5L516.8 461.3L519.8 473L522.7 485.3L525.7 500.6L528.6 513L531.6 518.3L534.5 524.9L537.5 528.7L540.4 531.4L543.4 540.2L546.3 547.9L549.3 558.8L552.2 568.5L555.2 582.3L558.1 591.7L561.1 601.6L564 610.1L567 626.3L569.9 638.8L572.9 638.8L575.8 639.1L578.8 638.5L581.7 638.3L584.7 641L587.6 644.8L590.6 650.1L593.5 651.7L596.5 656.4L599.4 660L602.4 663.4L605.3 666.4L608.3 666.6L611.2 665.6L614.2 662.6L617.1 657.8L620.1 652.3L623 646.2L626 640.5L628.9 638.5L631.9 639.4L634.8 643.8L637.8 647.4L640.7 657L643.7 662.6L646.6 662.8L649.6 661.1L652.5 660.9L655.5 657.2L658.4 651.6L661.4 643.3L664.3 642.8L667.3 642.6L670.2 643.5L673.2 641.3L676.1 646.8L679.1 653.9L682 659.5L685 668.3L687.9 676.1L690.9 682.2L693.8 687L696.8 689L699.7 685.2L702.7 682.4L705.6 677.8L708.6 672.4L711.5 662.7L714.5 657.1L717.4 654.7L720.4 656.4L723.3 657.5L726.3 662.5L729.2 666.4L732.2 670.7L735.1 676.7L738.1 683.6L741 689.1L744 694.8L746.9 700.2L749.9 705.4L752.8 704.6L755.8 703.1L758.7 700.5L761.7 698.9L764.6 701.6L767.6 706.3L770.5 710.9L773.5 718.8L776.4 725.8L779.4 729.2L782.3 729.9L785.3 732.7L788.2 735.5L791.2 737.3L794.1 740.9L797.1 746.8L800 756.1L803 764.9L805.9 770.8L808.9 777.7L811.8 785.6L814.8 792.6L817.7 799.6L820.7 802.4L823.6 808.8L826.6 809L829.5 810.2L832.5 812.3L835.4 816.1L838.4 820.8L841.3 825.3L844.3 832.6L847.2 837.6L850.2 845.5L853.1 852.7L856.1 854.6L859 858.8L862 861.3L864.9 867.1L867.9 870.6L870.8 875.1L873.8 878.9L876.7 881.8L879.7 882.9L882.6 885.9L885.6 888.1L888.5 892.6L891.5 894.9L894.4 900.9L897.4 904.6L900.3 909.5L903.3 915.2L906.2 920.9L909.2 928.7L912.1 938.9L915.1 948.3L918 952.7L921 954.9L923.9 954.8L926.9 956.7L929.8 962.8L932.8 969.9L935.7 976.6L938.7 978.5L941.6 983.2L944.6 983.4L947.5 983.5L950.5 981.2L953.4 979.2L956.4 979L959.3 978.2L962.3 984L965.2 993.5L968.2 1002.1L971.1 1008.3L974.1 1013.8L977 1018.9L980 1019.8L982.9 1022.9L985.9 1023.1L988.8 1026L991.8 1027.7L994.7 1027.9L997.7 1035.3L1000.6 1042.1L1003.6 1047.6L1006.5 1055.2L1009.5 1060.4L1012.4 1063.1L1015.4 1065.4L1018.3 1066.1L1021.3 1066.7L1024.2 1066L1027.2 1068L1030.1 1069L1033.1 1070L1036 1074.8L1039 1080.3L1041.9 1084.6L1044.9 1091.3L1047.8 1095.4L1050.8 1100.1L1053.7 1107.8L1056.7 1116.4L1059.6 1125L1062.6 1126.5L1065.5 1128.1L1068.5 1129.2L1071.4 1129.4L1074.4 1132L1077.3 1131.1L1080.3 1134.9L1083.2 1138.7L1086.2 1144L1089.1 1147.3L1092.1 1153.5L1095 1155.6L1098 1159.7L1100.9 1163.6L1103.9 1171.6L1106.8 1183.5L1109.8 1189.4L1112.7 1191L1115.7 1192.5L1118.6 1193L1121.6 1193.1L1124.5 1194.3L1127.5 1194.5L1130.4 1194.3L1133.4 1195.4L1136.3 1196.6L1139.3 1199L1142.2 1204.3L1145.2 1210.1L1148.1 1212.9L1151.1 1212.2L1154 1213L1157 1213.7L1159.9 1215.7L1162.9 1214.8L1165.8 1219.2L1168.8 1223L1171.7 1224.9L1174.7 1230.9L1177.6 1235L1180.6 1235.5L1183.5 1235.8L1186.5 1233.9L1189.4 1234L1192.4 1235.4L1195.3 1233L1198.3 1235.2L1201.2 1233.6L1204.2 1234.5L1207.1 1233.7L1210.1 1231.9L1213 1233.2L1216 1233.8L1218.9 1232.3L1221.9 1231.5L1224.8 1231.9L1227.8 1228L1230.7 1221.3L1233.7 1217.1L1236.6 1213.9L1239.6 1208.5L1242.5 1205.2L1245.5 1201.3L1248.4 1195.7L1251.4 1190.4L1254.3 1186.1L1257.3 1182.7L1260.2 1178.4L1263.2 1171.7L1266.1 1165L1269.1 1157.1L1272 1150.3L1275 1142L1277.9 1135.1L1280.9 1128L1283.8 1121.8L1286.8 1117.3L1289.7 1111.2L1292.7 1110.2L1295.6 1116.7L1298.6 1122.2L1301.5 1126.4L1304.5 1124.4L1307.4 1122.2L1310.4 1122.1L1313.3 1118.2L1316.3 1112.2L1319.2 1108.4L1322.2 1100.6L1325.1 1092.5L1328.1 1092.7L1331 1093.4L1334 1099.4L1336.9 1102.7L1339.9 1107.5L1342.8 1115.8L1345.8 1119.9L1348.7 1127.8L1351.7 1136.3L1354.6 1139.9L1357.6 1139.6L1360.5 1138.1L1363.5 1136.8L1366.4 1133.7L1369.4 1133.7L1372.3 1135.7L1375.3 1141.6L1378.2 1144.4L1381.2 1149.2L1384.1 1156.7L1387.1 1162L1390 1169.5L1393 1176.8L1395.9 1182L1398.9 1179.9L1401.8 1178.3L1404.8 1174.7L1407.7 1177L1410.7 1183.4L1413.6 1187.5L1416.6 1193.8L1419.5 1201.7L1422.5 1210.9L1425.4 1215.2L1428.4 1217L1431.3 1222.2L1434.3 1227.3L1437.2 1230.7L1440.2 1228.6L1443.1 1228.3L1446.1 1224.9L1449 1223.3L1452 1223.6L1454.9 1225.7L1457.9 1229.1L1460.8 1233.4L1463.8 1240.9L1466.7 1246.5L1469.7 1251.7L1472.6 1255.5L1475.6 1258.8L1478.5 1261.2L1481.5 1267.4L1484.4 1271.8L1487.4 1273.2L1490.3 1273.2L1493.3 1271.3L1496.2 1270L1499.2 1267.4L1502.1 1266.2L1505.1 1262.7L1508 1261.7L1511 1262.2L1513.9 1264.5L1516.9 1267L1519.8 1267.7L1522.8 1268.5L1525.7 1273L1528.7 1277.2L1531.6 1280.8L1534.6 1283.1L1537.5 1284.6L1540.5 1285.1L1543.4 1286.7L1546.4 1289L1549.3 1296.8L1552.3 1299.7L1555.2 1300.2L1558.2 1293.5L1561.1 1292.3L1564.1 1291.8L1567 1294.4L1570 1300.3L1572.9 1303.8L1575.9 1305.3L1578.8 1305.6L1581.8 1307.2L1584.7 1310.1L1587.7 1314L1590.6 1314.4L1593.6 1311.3L1596.5 1305.9L1599.5 1301.1L1602.4 1296.2L1605.4 1296.4L1608.3 1300.2L1611.3 1302.6L1614.2 1308.3L1617.2 1315.5L1620.1 1322.2L1623.1 1328L1626 1335.1L1629 1334.8L1631.9 1337.8L1634.9 1336.8L1637.8 1337.1L1640.8 1336.8L1643.7 1332.8L1646.7 1329.8L1649.6 1327.7L1652.6 1326L1655.5 1323.9L1658.5 1323.5L1661.4 1327.5L1664.4 1332.2L1667.3 1338.8L1670.3 1346.1L1673.2 1354.7L1676.2 1362L1679.1 1368.9L1682.1 1370.9L1685 1371.9L1688 1373.5L1690.9 1373.1L1693.9 1374.4L1696.8 1374.4L1699.8 1372.8L1702.7 1372.7L1705.7 1372.4L1708.6 1374.3L1711.6 1375.6L1714.5 1373.9L1717.5 1374.1L1720.4 1372.4L1723.4 1374.5L1726.3 1374.4L1729.3 1373.6L1732.2 1375.2L1735.2 1373.3L1738.1 1374.5L1741.1 1374.8L1744 1373.7L1747 1375.5L1749.9 1375.7L1752.9 1373.7L1755.8 1373.8L1758.8 1375.5L1761.7 1375L1764.7 1374.1L1767.6 1375L1770.6 1375.2L1773.5 1375.2L1776.5 1376.1L1779.4 1375.8L1782.4 1377L1785.3 1376.8L1788.3 1376.3L1791.2 1376.7L1794.2 1377L1797.1 1376.5L1800.1 1375L1803 1376.7L1806 1376.1L1808.9 1377.4L1811.9 1376.2L1814.8 1376.6L1817.8 1376.5L1820.7 1377.6L1823.7 1376.5L1826.6 1376.1L1829.6 1376.6L1832.5 1376.1L1835.5 1376.6L1838.4 1376.5L1841.4 1376.7L1844.3 1378.1L1847.3 1376.3L1850.2 1376.6L1853.2 1376.5L1856.1 1377.2L1859.1 1375.7L1862 1376.2L1865 1376.7L1867.9 1377.2L1870.9 1376.8L1873.8 1376.4L1876.8 1376.1L1879.7 1377.3L1882.7 1378L1885.6 1377.2L1888.6 1377.1L1891.5 1377.3L1894.5 1376.2L1897.4 1376.7L1900.4 1376.8L1903.3 1377.3L1906.3 1377L1909.2 1376.1L1912.2 1378L1915.1 1378.5L1918.1 1376.9L1921 1377.5L1924 1377.4L1926.9 1377.8L1929.9 1376L1932.8 1378.5L1935.8 1376.9L1938.7 1378.3L1941.7 1377.3L1944.6 1377L1947.6 1377.2L1950.5 1378.1L1953.5 1376.7L1956.4 1377.1L1959.4 1377L1962.3 1376L1965.3 1378.5L1968.2 1377.9L1971.2 1377.4L1974.1 1378.4L1977.1 1376.7L1980 1377.4L1983 1378.9L1985.9 1378.3L1988.9 1375.7L1991.8 1374.8L1994.8 1376.7L1997.7 1378.3L2000.7 1377.1L2003.6 1377.3L2006.6 1378L2009.5 1376.8L2012.5 1377.7L2015.4 1378.1L2018.4 1377.9L2021.3 1377.8L2024.3 1377L2027.2 1377.9L2030.2 1377.2L2033.1 1378.5L2036.1 1379.6L2039 1376.9L2042 1375.8L2044.9 1377.2L2047.9 1377.8L2050.8 1378.3L2053.8 1378.4L2056.7 1376.9L2059.7 1376.9L2062.6 1378.5L2065.6 1376.6L2068.5 1378.4" fill="none" stroke="#008080" stroke-width="4.6" stroke-linejoin="round"/>
<g fill="#fff" stroke="#008080" stroke-width="2.1" stroke-miterlimit="10"><path d="M331 1363l7.75 13.42h-15.5z"/><path d="M333.9 1360.3l7.75 13.42h-15.5z"/><path d="M336.9 1357l7.75 13.42h-15.5z"/><path d="M339.8 1352.9l7.75 13.42h-15.5z"/><path d="M342.8 1347.7l7.75 13.42h-15.5z"/><path d="M345.7 1341.4l7.75 13.42h-15.5z"/><path d="M348.7 1333.7l7.75 13.42h-15.5z"/><path d="M351.6 1320.1l7.75 13.42h-15.5z"/><path d="M354.6 1297.3l7.75 13.42h-15.5z"/><path d="M357.5 1274.2l7.75 13.42h-15.5z"/><path d="M360.5 1255.7l7.75 13.42h-15.5z"/><path d="M363.4 1216.2l7.75 13.42h-15.5z"/><path d="M366.4 1193.8l7.75 13.42h-15.5z"/><path d="M369.3 1142.4l7.75 13.42h-15.5z"/><path d="M372.3 1095l7.75 13.42h-15.5z"/><path d="M375.2 1038.5l7.75 13.42h-15.5z"/><path d="M378.2 983.6l7.75 13.42h-15.5z"/><path d="M381.1 901.8l7.75 13.42h-15.5z"/><path d="M384.1 826.9l7.75 13.42h-15.5z"/><path d="M387 759.7l7.75 13.42h-15.5z"/><path d="M390 714l7.75 13.42h-15.5z"/><path d="M392.9 639.4l7.75 13.42h-15.5z"/><path d="M395.9 581.1l7.75 13.42h-15.5z"/><path d="M398.8 507.9l7.75 13.42h-15.5z"/><path d="M401.8 437l7.75 13.42h-15.5z"/><path d="M404.7 392.6l7.75 13.42h-15.5z"/><path d="M407.7 362.8l7.75 13.42h-15.5z"/><path d="M410.6 313.2l7.75 13.42h-15.5z"/><path d="M413.6 275.9l7.75 13.42h-15.5z"/><path d="M416.5 250.9l7.75 13.42h-15.5z"/><path d="M419.5 238.4l7.75 13.42h-15.5z"/><path d="M422.4 230.8l7.75 13.42h-15.5z"/><path d="M425.4 232.4l7.75 13.42h-15.5z"/><path d="M428.3 242l7.75 13.42h-15.5z"/><path d="M431.3 260l7.75 13.42h-15.5z"/><path d="M434.2 273.4l7.75 13.42h-15.5z"/><path d="M437.2 287.6l7.75 13.42h-15.5z"/><path d="M440.1 300.6l7.75 13.42h-15.5z"/><path d="M443.1 311.2l7.75 13.42h-15.5z"/><path d="M446 312.7l7.75 13.42h-15.5z"/><path d="M449 313.1l7.75 13.42h-15.5z"/><path d="M451.9 310l7.75 13.42h-15.5z"/><path d="M454.9 306.4l7.75 13.42h-15.5z"/><path d="M457.8 310.5l7.75 13.42h-15.5z"/><path d="M460.8 319.4l7.75 13.42h-15.5z"/><path d="M463.7 328.7l7.75 13.42h-15.5z"/><path d="M466.7 336.8l7.75 13.42h-15.5z"/><path d="M469.6 343.6l7.75 13.42h-15.5z"/><path d="M472.6 348.9l7.75 13.42h-15.5z"/><path d="M475.5 353.9l7.75 13.42h-15.5z"/><path d="M478.5 358.2l7.75 13.42h-15.5z"/><path d="M481.4 363l7.75 13.42h-15.5z"/><path d="M484.4 368.9l7.75 13.42h-15.5z"/><path d="M487.3 373.5l7.75 13.42h-15.5z"/><path d="M490.3 376.2l7.75 13.42h-15.5z"/><path d="M493.2 379.1l7.75 13.42h-15.5z"/><path d="M496.2 386.8l7.75 13.42h-15.5z"/><path d="M499.1 395.2l7.75 13.42h-15.5z"/><path d="M502.1 404.9l7.75 13.42h-15.5z"/><path d="M505 412.4l7.75 13.42h-15.5z"/><path d="M508 420.5l7.75 13.42h-15.5z"/><path d="M510.9 430.8l7.75 13.42h-15.5z"/><path d="M513.9 438.5l7.75 13.42h-15.5z"/><path d="M516.8 452.4l7.75 13.42h-15.5z"/><path d="M519.8 464l7.75 13.42h-15.5z"/><path d="M522.7 476.3l7.75 13.42h-15.5z"/><path d="M525.7 491.7l7.75 13.42h-15.5z"/><path d="M528.6 504.1l7.75 13.42h-15.5z"/><path d="M531.6 509.3l7.75 13.42h-15.5z"/><path d="M534.5 515.9l7.75 13.42h-15.5z"/><path d="M537.5 519.7l7.75 13.42h-15.5z"/><path d="M540.4 522.4l7.75 13.42h-15.5z"/><path d="M543.4 531.3l7.75 13.42h-15.5z"/><path d="M546.3 539l7.75 13.42h-15.5z"/><path d="M549.3 549.9l7.75 13.42h-15.5z"/><path d="M552.2 559.5l7.75 13.42h-15.5z"/><path d="M555.2 573.3l7.75 13.42h-15.5z"/><path d="M558.1 582.8l7.75 13.42h-15.5z"/><path d="M561.1 592.6l7.75 13.42h-15.5z"/><path d="M564 601.1l7.75 13.42h-15.5z"/><path d="M567 617.3l7.75 13.42h-15.5z"/><path d="M569.9 629.8l7.75 13.42h-15.5z"/><path d="M572.9 629.9l7.75 13.42h-15.5z"/><path d="M575.8 630.2l7.75 13.42h-15.5z"/><path d="M578.8 629.5l7.75 13.42h-15.5z"/><path d="M581.7 629.3l7.75 13.42h-15.5z"/><path d="M584.7 632l7.75 13.42h-15.5z"/><path d="M587.6 635.9l7.75 13.42h-15.5z"/><path d="M590.6 641.2l7.75 13.42h-15.5z"/><path d="M593.5 642.8l7.75 13.42h-15.5z"/><path d="M596.5 647.5l7.75 13.42h-15.5z"/><path d="M599.4 651.1l7.75 13.42h-15.5z"/><path d="M602.4 654.4l7.75 13.42h-15.5z"/><path d="M605.3 657.4l7.75 13.42h-15.5z"/><path d="M608.3 657.7l7.75 13.42h-15.5z"/><path d="M611.2 656.6l7.75 13.42h-15.5z"/><path d="M614.2 653.7l7.75 13.42h-15.5z"/><path d="M617.1 648.8l7.75 13.42h-15.5z"/><path d="M620.1 643.4l7.75 13.42h-15.5z"/><path d="M623 637.3l7.75 13.42h-15.5z"/><path d="M626 631.6l7.75 13.42h-15.5z"/><path d="M628.9 629.5l7.75 13.42h-15.5z"/><path d="M631.9 630.4l7.75 13.42h-15.5z"/><path d="M634.8 634.8l7.75 13.42h-15.5z"/><path d="M637.8 638.4l7.75 13.42h-15.5z"/><path d="M640.7 648l7.75 13.42h-15.5z"/><path d="M643.7 653.7l7.75 13.42h-15.5z"/><path d="M646.6 653.8l7.75 13.42h-15.5z"/><path d="M649.6 652.1l7.75 13.42h-15.5z"/><path d="M652.5 652l7.75 13.42h-15.5z"/><path d="M655.5 648.3l7.75 13.42h-15.5z"/><path d="M658.4 642.7l7.75 13.42h-15.5z"/><path d="M661.4 634.4l7.75 13.42h-15.5z"/><path d="M664.3 633.9l7.75 13.42h-15.5z"/><path d="M667.3 633.7l7.75 13.42h-15.5z"/><path d="M670.2 634.6l7.75 13.42h-15.5z"/><path d="M673.2 632.3l7.75 13.42h-15.5z"/><path d="M676.1 637.8l7.75 13.42h-15.5z"/><path d="M679.1 645l7.75 13.42h-15.5z"/><path d="M682 650.5l7.75 13.42h-15.5z"/><path d="M685 659.4l7.75 13.42h-15.5z"/><path d="M687.9 667.2l7.75 13.42h-15.5z"/><path d="M690.9 673.3l7.75 13.42h-15.5z"/><path d="M693.8 678l7.75 13.42h-15.5z"/><path d="M696.8 680l7.75 13.42h-15.5z"/><path d="M699.7 676.2l7.75 13.42h-15.5z"/><path d="M702.7 673.5l7.75 13.42h-15.5z"/><path d="M705.6 668.8l7.75 13.42h-15.5z"/><path d="M708.6 663.5l7.75 13.42h-15.5z"/><path d="M711.5 653.8l7.75 13.42h-15.5z"/><path d="M714.5 648.2l7.75 13.42h-15.5z"/><path d="M717.4 645.8l7.75 13.42h-15.5z"/><path d="M720.4 647.5l7.75 13.42h-15.5z"/><path d="M723.3 648.5l7.75 13.42h-15.5z"/><path d="M726.3 653.5l7.75 13.42h-15.5z"/><path d="M729.2 657.5l7.75 13.42h-15.5z"/><path d="M732.2 661.8l7.75 13.42h-15.5z"/><path d="M735.1 667.7l7.75 13.42h-15.5z"/><path d="M738.1 674.6l7.75 13.42h-15.5z"/><path d="M741 680.1l7.75 13.42h-15.5z"/><path d="M744 685.9l7.75 13.42h-15.5z"/><path d="M746.9 691.2l7.75 13.42h-15.5z"/><path d="M749.9 696.4l7.75 13.42h-15.5z"/><path d="M752.8 695.6l7.75 13.42h-15.5z"/><path d="M755.8 694.2l7.75 13.42h-15.5z"/><path d="M758.7 691.5l7.75 13.42h-15.5z"/><path d="M761.7 690l7.75 13.42h-15.5z"/><path d="M764.6 692.7l7.75 13.42h-15.5z"/><path d="M767.6 697.4l7.75 13.42h-15.5z"/><path d="M770.5 702l7.75 13.42h-15.5z"/><path d="M773.5 709.9l7.75 13.42h-15.5z"/><path d="M776.4 716.9l7.75 13.42h-15.5z"/><path d="M779.4 720.2l7.75 13.42h-15.5z"/><path d="M782.3 721l7.75 13.42h-15.5z"/><path d="M785.3 723.7l7.75 13.42h-15.5z"/><path d="M788.2 726.5l7.75 13.42h-15.5z"/><path d="M791.2 728.4l7.75 13.42h-15.5z"/><path d="M794.1 732l7.75 13.42h-15.5z"/><path d="M797.1 737.9l7.75 13.42h-15.5z"/><path d="M800 747.1l7.75 13.42h-15.5z"/><path d="M803 755.9l7.75 13.42h-15.5z"/><path d="M805.9 761.8l7.75 13.42h-15.5z"/><path d="M808.9 768.8l7.75 13.42h-15.5z"/><path d="M811.8 776.7l7.75 13.42h-15.5z"/><path d="M814.8 783.6l7.75 13.42h-15.5z"/><path d="M817.7 790.6l7.75 13.42h-15.5z"/><path d="M820.7 793.5l7.75 13.42h-15.5z"/><path d="M823.6 799.8l7.75 13.42h-15.5z"/><path d="M826.6 800l7.75 13.42h-15.5z"/><path d="M829.5 801.3l7.75 13.42h-15.5z"/><path d="M832.5 803.3l7.75 13.42h-15.5z"/><path d="M835.4 807.2l7.75 13.42h-15.5z"/><path d="M838.4 811.9l7.75 13.42h-15.5z"/><path d="M841.3 816.4l7.75 13.42h-15.5z"/><path d="M844.3 823.6l7.75 13.42h-15.5z"/><path d="M847.2 828.6l7.75 13.42h-15.5z"/><path d="M850.2 836.5l7.75 13.42h-15.5z"/><path d="M853.1 843.7l7.75 13.42h-15.5z"/><path d="M856.1 845.6l7.75 13.42h-15.5z"/><path d="M859 849.9l7.75 13.42h-15.5z"/><path d="M862 852.4l7.75 13.42h-15.5z"/><path d="M864.9 858.2l7.75 13.42h-15.5z"/><path d="M867.9 861.7l7.75 13.42h-15.5z"/><path d="M870.8 866.1l7.75 13.42h-15.5z"/><path d="M873.8 869.9l7.75 13.42h-15.5z"/><path d="M876.7 872.9l7.75 13.42h-15.5z"/><path d="M879.7 874l7.75 13.42h-15.5z"/><path d="M882.6 876.9l7.75 13.42h-15.5z"/><path d="M885.6 879.1l7.75 13.42h-15.5z"/><path d="M888.5 883.6l7.75 13.42h-15.5z"/><path d="M891.5 885.9l7.75 13.42h-15.5z"/><path d="M894.4 892l7.75 13.42h-15.5z"/><path d="M897.4 895.6l7.75 13.42h-15.5z"/><path d="M900.3 900.5l7.75 13.42h-15.5z"/><path d="M903.3 906.3l7.75 13.42h-15.5z"/><path d="M906.2 912l7.75 13.42h-15.5z"/><path d="M909.2 919.8l7.75 13.42h-15.5z"/><path d="M912.1 930l7.75 13.42h-15.5z"/><path d="M915.1 939.3l7.75 13.42h-15.5z"/><path d="M918 943.8l7.75 13.42h-15.5z"/><path d="M921 945.9l7.75 13.42h-15.5z"/><path d="M923.9 945.9l7.75 13.42h-15.5z"/><path d="M926.9 947.7l7.75 13.42h-15.5z"/><path d="M929.8 953.8l7.75 13.42h-15.5z"/><path d="M932.8 961l7.75 13.42h-15.5z"/><path d="M935.7 967.7l7.75 13.42h-15.5z"/><path d="M938.7 969.6l7.75 13.42h-15.5z"/><path d="M941.6 974.2l7.75 13.42h-15.5z"/><path d="M944.6 974.4l7.75 13.42h-15.5z"/><path d="M947.5 974.6l7.75 13.42h-15.5z"/><path d="M950.5 972.3l7.75 13.42h-15.5z"/><path d="M953.4 970.2l7.75 13.42h-15.5z"/><path d="M956.4 970.1l7.75 13.42h-15.5z"/><path d="M959.3 969.2l7.75 13.42h-15.5z"/><path d="M962.3 975l7.75 13.42h-15.5z"/><path d="M965.2 984.6l7.75 13.42h-15.5z"/><path d="M968.2 993.2l7.75 13.42h-15.5z"/><path d="M971.1 999.4l7.75 13.42h-15.5z"/><path d="M974.1 1004.8l7.75 13.42h-15.5z"/><path d="M977 1009.9l7.75 13.42h-15.5z"/><path d="M980 1010.9l7.75 13.42h-15.5z"/><path d="M982.9 1013.9l7.75 13.42h-15.5z"/><path d="M985.9 1014.2l7.75 13.42h-15.5z"/><path d="M988.8 1017.1l7.75 13.42h-15.5z"/><path d="M991.8 1018.8l7.75 13.42h-15.5z"/><path d="M994.7 1019l7.75 13.42h-15.5z"/><path d="M997.7 1026.4l7.75 13.42h-15.5z"/><path d="M1000.6 1033.2l7.75 13.42h-15.5z"/><path d="M1003.6 1038.7l7.75 13.42h-15.5z"/><path d="M1006.5 1046.2l7.75 13.42h-15.5z"/><path d="M1009.5 1051.4l7.75 13.42h-15.5z"/><path d="M1012.4 1054.1l7.75 13.42h-15.5z"/><path d="M1015.4 1056.4l7.75 13.42h-15.5z"/><path d="M1018.3 1057.2l7.75 13.42h-15.5z"/><path d="M1021.3 1057.8l7.75 13.42h-15.5z"/><path d="M1024.2 1057.1l7.75 13.42h-15.5z"/><path d="M1027.2 1059.1l7.75 13.42h-15.5z"/><path d="M1030.1 1060.1l7.75 13.42h-15.5z"/><path d="M1033.1 1061l7.75 13.42h-15.5z"/><path d="M1036 1065.8l7.75 13.42h-15.5z"/><path d="M1039 1071.3l7.75 13.42h-15.5z"/><path d="M1041.9 1075.6l7.75 13.42h-15.5z"/><path d="M1044.9 1082.4l7.75 13.42h-15.5z"/><path d="M1047.8 1086.4l7.75 13.42h-15.5z"/><path d="M1050.8 1091.2l7.75 13.42h-15.5z"/><path d="M1053.7 1098.8l7.75 13.42h-15.5z"/><path d="M1056.7 1107.4l7.75 13.42h-15.5z"/><path d="M1059.6 1116.1l7.75 13.42h-15.5z"/><path d="M1062.6 1117.6l7.75 13.42h-15.5z"/><path d="M1065.5 1119.1l7.75 13.42h-15.5z"/><path d="M1068.5 1120.2l7.75 13.42h-15.5z"/><path d="M1071.4 1120.4l7.75 13.42h-15.5z"/><path d="M1074.4 1123.1l7.75 13.42h-15.5z"/><path d="M1077.3 1122.1l7.75 13.42h-15.5z"/><path d="M1080.3 1125.9l7.75 13.42h-15.5z"/><path d="M1083.2 1129.7l7.75 13.42h-15.5z"/><path d="M1086.2 1135l7.75 13.42h-15.5z"/><path d="M1089.1 1138.3l7.75 13.42h-15.5z"/><path d="M1092.1 1144.6l7.75 13.42h-15.5z"/><path d="M1095 1146.7l7.75 13.42h-15.5z"/><path d="M1098 1150.7l7.75 13.42h-15.5z"/><path d="M1100.9 1154.7l7.75 13.42h-15.5z"/><path d="M1103.9 1162.6l7.75 13.42h-15.5z"/><path d="M1106.8 1174.6l7.75 13.42h-15.5z"/><path d="M1109.8 1180.5l7.75 13.42h-15.5z"/><path d="M1112.7 1182l7.75 13.42h-15.5z"/><path d="M1115.7 1183.6l7.75 13.42h-15.5z"/><path d="M1118.6 1184l7.75 13.42h-15.5z"/><path d="M1121.6 1184.2l7.75 13.42h-15.5z"/><path d="M1124.5 1185.4l7.75 13.42h-15.5z"/><path d="M1127.5 1185.6l7.75 13.42h-15.5z"/><path d="M1130.4 1185.3l7.75 13.42h-15.5z"/><path d="M1133.4 1186.5l7.75 13.42h-15.5z"/><path d="M1136.3 1187.7l7.75 13.42h-15.5z"/><path d="M1139.3 1190.1l7.75 13.42h-15.5z"/><path d="M1142.2 1195.4l7.75 13.42h-15.5z"/><path d="M1145.2 1201.2l7.75 13.42h-15.5z"/><path d="M1148.1 1203.9l7.75 13.42h-15.5z"/><path d="M1151.1 1203.2l7.75 13.42h-15.5z"/><path d="M1154 1204l7.75 13.42h-15.5z"/><path d="M1157 1204.7l7.75 13.42h-15.5z"/><path d="M1159.9 1206.8l7.75 13.42h-15.5z"/><path d="M1162.9 1205.9l7.75 13.42h-15.5z"/><path d="M1165.8 1210.2l7.75 13.42h-15.5z"/><path d="M1168.8 1214.1l7.75 13.42h-15.5z"/><path d="M1171.7 1216l7.75 13.42h-15.5z"/><path d="M1174.7 1221.9l7.75 13.42h-15.5z"/><path d="M1177.6 1226l7.75 13.42h-15.5z"/><path d="M1180.6 1226.6l7.75 13.42h-15.5z"/><path d="M1183.5 1226.9l7.75 13.42h-15.5z"/><path d="M1186.5 1224.9l7.75 13.42h-15.5z"/><path d="M1189.4 1225.1l7.75 13.42h-15.5z"/><path d="M1192.4 1226.5l7.75 13.42h-15.5z"/><path d="M1195.3 1224l7.75 13.42h-15.5z"/><path d="M1198.3 1226.2l7.75 13.42h-15.5z"/><path d="M1201.2 1224.7l7.75 13.42h-15.5z"/><path d="M1204.2 1225.5l7.75 13.42h-15.5z"/><path d="M1207.1 1224.8l7.75 13.42h-15.5z"/><path d="M1210.1 1223l7.75 13.42h-15.5z"/><path d="M1213 1224.3l7.75 13.42h-15.5z"/><path d="M1216 1224.8l7.75 13.42h-15.5z"/><path d="M1218.9 1223.4l7.75 13.42h-15.5z"/><path d="M1221.9 1222.5l7.75 13.42h-15.5z"/><path d="M1224.8 1222.9l7.75 13.42h-15.5z"/><path d="M1227.8 1219l7.75 13.42h-15.5z"/><path d="M1230.7 1212.3l7.75 13.42h-15.5z"/><path d="M1233.7 1208.2l7.75 13.42h-15.5z"/><path d="M1236.6 1204.9l7.75 13.42h-15.5z"/><path d="M1239.6 1199.5l7.75 13.42h-15.5z"/><path d="M1242.5 1196.2l7.75 13.42h-15.5z"/><path d="M1245.5 1192.3l7.75 13.42h-15.5z"/><path d="M1248.4 1186.7l7.75 13.42h-15.5z"/><path d="M1251.4 1181.4l7.75 13.42h-15.5z"/><path d="M1254.3 1177.1l7.75 13.42h-15.5z"/><path d="M1257.3 1173.8l7.75 13.42h-15.5z"/><path d="M1260.2 1169.4l7.75 13.42h-15.5z"/><path d="M1263.2 1162.7l7.75 13.42h-15.5z"/><path d="M1266.1 1156l7.75 13.42h-15.5z"/><path d="M1269.1 1148.1l7.75 13.42h-15.5z"/><path d="M1272 1141.3l7.75 13.42h-15.5z"/><path d="M1275 1133.1l7.75 13.42h-15.5z"/><path d="M1277.9 1126.2l7.75 13.42h-15.5z"/><path d="M1280.9 1119l7.75 13.42h-15.5z"/><path d="M1283.8 1112.8l7.75 13.42h-15.5z"/><path d="M1286.8 1108.3l7.75 13.42h-15.5z"/><path d="M1289.7 1102.3l7.75 13.42h-15.5z"/><path d="M1292.7 1101.2l7.75 13.42h-15.5z"/><path d="M1295.6 1107.7l7.75 13.42h-15.5z"/><path d="M1298.6 1113.2l7.75 13.42h-15.5z"/><path d="M1301.5 1117.5l7.75 13.42h-15.5z"/><path d="M1304.5 1115.4l7.75 13.42h-15.5z"/><path d="M1307.4 1113.3l7.75 13.42h-15.5z"/><path d="M1310.4 1113.1l7.75 13.42h-15.5z"/><path d="M1313.3 1109.3l7.75 13.42h-15.5z"/><path d="M1316.3 1103.2l7.75 13.42h-15.5z"/><path d="M1319.2 1099.4l7.75 13.42h-15.5z"/><path d="M1322.2 1091.6l7.75 13.42h-15.5z"/><path d="M1325.1 1083.5l7.75 13.42h-15.5z"/><path d="M1328.1 1083.8l7.75 13.42h-15.5z"/><path d="M1331 1084.5l7.75 13.42h-15.5z"/><path d="M1334 1090.5l7.75 13.42h-15.5z"/><path d="M1336.9 1093.7l7.75 13.42h-15.5z"/><path d="M1339.9 1098.5l7.75 13.42h-15.5z"/><path d="M1342.8 1106.8l7.75 13.42h-15.5z"/><path d="M1345.8 1111l7.75 13.42h-15.5z"/><path d="M1348.7 1118.8l7.75 13.42h-15.5z"/><path d="M1351.7 1127.4l7.75 13.42h-15.5z"/><path d="M1354.6 1130.9l7.75 13.42h-15.5z"/><path d="M1357.6 1130.7l7.75 13.42h-15.5z"/><path d="M1360.5 1129.2l7.75 13.42h-15.5z"/><path d="M1363.5 1127.8l7.75 13.42h-15.5z"/><path d="M1366.4 1124.8l7.75 13.42h-15.5z"/><path d="M1369.4 1124.7l7.75 13.42h-15.5z"/><path d="M1372.3 1126.8l7.75 13.42h-15.5z"/><path d="M1375.3 1132.6l7.75 13.42h-15.5z"/><path d="M1378.2 1135.4l7.75 13.42h-15.5z"/><path d="M1381.2 1140.2l7.75 13.42h-15.5z"/><path d="M1384.1 1147.7l7.75 13.42h-15.5z"/><path d="M1387.1 1153l7.75 13.42h-15.5z"/><path d="M1390 1160.5l7.75 13.42h-15.5z"/><path d="M1393 1167.9l7.75 13.42h-15.5z"/><path d="M1395.9 1173l7.75 13.42h-15.5z"/><path d="M1398.9 1171l7.75 13.42h-15.5z"/><path d="M1401.8 1169.3l7.75 13.42h-15.5z"/><path d="M1404.8 1165.7l7.75 13.42h-15.5z"/><path d="M1407.7 1168l7.75 13.42h-15.5z"/><path d="M1410.7 1174.4l7.75 13.42h-15.5z"/><path d="M1413.6 1178.6l7.75 13.42h-15.5z"/><path d="M1416.6 1184.8l7.75 13.42h-15.5z"/><path d="M1419.5 1192.7l7.75 13.42h-15.5z"/><path d="M1422.5 1201.9l7.75 13.42h-15.5z"/><path d="M1425.4 1206.2l7.75 13.42h-15.5z"/><path d="M1428.4 1208.1l7.75 13.42h-15.5z"/><path d="M1431.3 1213.3l7.75 13.42h-15.5z"/><path d="M1434.3 1218.3l7.75 13.42h-15.5z"/><path d="M1437.2 1221.7l7.75 13.42h-15.5z"/><path d="M1440.2 1219.7l7.75 13.42h-15.5z"/><path d="M1443.1 1219.4l7.75 13.42h-15.5z"/><path d="M1446.1 1216l7.75 13.42h-15.5z"/><path d="M1449 1214.4l7.75 13.42h-15.5z"/><path d="M1452 1214.7l7.75 13.42h-15.5z"/><path d="M1454.9 1216.7l7.75 13.42h-15.5z"/><path d="M1457.9 1220.2l7.75 13.42h-15.5z"/><path d="M1460.8 1224.4l7.75 13.42h-15.5z"/><path d="M1463.8 1232l7.75 13.42h-15.5z"/><path d="M1466.7 1237.5l7.75 13.42h-15.5z"/><path d="M1469.7 1242.7l7.75 13.42h-15.5z"/><path d="M1472.6 1246.6l7.75 13.42h-15.5z"/><path d="M1475.6 1249.9l7.75 13.42h-15.5z"/><path d="M1478.5 1252.3l7.75 13.42h-15.5z"/><path d="M1481.5 1258.5l7.75 13.42h-15.5z"/><path d="M1484.4 1262.8l7.75 13.42h-15.5z"/><path d="M1487.4 1264.2l7.75 13.42h-15.5z"/><path d="M1490.3 1264.2l7.75 13.42h-15.5z"/><path d="M1493.3 1262.3l7.75 13.42h-15.5z"/><path d="M1496.2 1261l7.75 13.42h-15.5z"/><path d="M1499.2 1258.4l7.75 13.42h-15.5z"/><path d="M1502.1 1257.2l7.75 13.42h-15.5z"/><path d="M1505.1 1253.8l7.75 13.42h-15.5z"/><path d="M1508 1252.8l7.75 13.42h-15.5z"/><path d="M1511 1253.3l7.75 13.42h-15.5z"/><path d="M1513.9 1255.6l7.75 13.42h-15.5z"/><path d="M1516.9 1258.1l7.75 13.42h-15.5z"/><path d="M1519.8 1258.7l7.75 13.42h-15.5z"/><path d="M1522.8 1259.5l7.75 13.42h-15.5z"/><path d="M1525.7 1264.1l7.75 13.42h-15.5z"/><path d="M1528.7 1268.2l7.75 13.42h-15.5z"/><path d="M1531.6 1271.9l7.75 13.42h-15.5z"/><path d="M1534.6 1274.1l7.75 13.42h-15.5z"/><path d="M1537.5 1275.6l7.75 13.42h-15.5z"/><path d="M1540.5 1276.1l7.75 13.42h-15.5z"/><path d="M1543.4 1277.7l7.75 13.42h-15.5z"/><path d="M1546.4 1280.1l7.75 13.42h-15.5z"/><path d="M1549.3 1287.9l7.75 13.42h-15.5z"/><path d="M1552.3 1290.8l7.75 13.42h-15.5z"/><path d="M1555.2 1291.2l7.75 13.42h-15.5z"/><path d="M1558.2 1284.5l7.75 13.42h-15.5z"/><path d="M1561.1 1283.4l7.75 13.42h-15.5z"/><path d="M1564.1 1282.9l7.75 13.42h-15.5z"/><path d="M1567 1285.5l7.75 13.42h-15.5z"/><path d="M1570 1291.4l7.75 13.42h-15.5z"/><path d="M1572.9 1294.9l7.75 13.42h-15.5z"/><path d="M1575.9 1296.3l7.75 13.42h-15.5z"/><path d="M1578.8 1296.6l7.75 13.42h-15.5z"/><path d="M1581.8 1298.2l7.75 13.42h-15.5z"/><path d="M1584.7 1301.1l7.75 13.42h-15.5z"/><path d="M1587.7 1305.1l7.75 13.42h-15.5z"/><path d="M1590.6 1305.5l7.75 13.42h-15.5z"/><path d="M1593.6 1302.3l7.75 13.42h-15.5z"/><path d="M1596.5 1297l7.75 13.42h-15.5z"/><path d="M1599.5 1292.1l7.75 13.42h-15.5z"/><path d="M1602.4 1287.2l7.75 13.42h-15.5z"/><path d="M1605.4 1287.5l7.75 13.42h-15.5z"/><path d="M1608.3 1291.2l7.75 13.42h-15.5z"/><path d="M1611.3 1293.6l7.75 13.42h-15.5z"/><path d="M1614.2 1299.3l7.75 13.42h-15.5z"/><path d="M1617.2 1306.5l7.75 13.42h-15.5z"/><path d="M1620.1 1313.2l7.75 13.42h-15.5z"/><path d="M1623.1 1319.1l7.75 13.42h-15.5z"/><path d="M1626 1326.2l7.75 13.42h-15.5z"/><path d="M1629 1325.9l7.75 13.42h-15.5z"/><path d="M1631.9 1328.8l7.75 13.42h-15.5z"/><path d="M1634.9 1327.8l7.75 13.42h-15.5z"/><path d="M1637.8 1328.2l7.75 13.42h-15.5z"/><path d="M1640.8 1327.8l7.75 13.42h-15.5z"/><path d="M1643.7 1323.8l7.75 13.42h-15.5z"/><path d="M1646.7 1320.8l7.75 13.42h-15.5z"/><path d="M1649.6 1318.7l7.75 13.42h-15.5z"/><path d="M1652.6 1317.1l7.75 13.42h-15.5z"/><path d="M1655.5 1314.9l7.75 13.42h-15.5z"/><path d="M1658.5 1314.5l7.75 13.42h-15.5z"/><path d="M1661.4 1318.6l7.75 13.42h-15.5z"/><path d="M1664.4 1323.2l7.75 13.42h-15.5z"/><path d="M1667.3 1329.8l7.75 13.42h-15.5z"/><path d="M1670.3 1337.1l7.75 13.42h-15.5z"/><path d="M1673.2 1345.8l7.75 13.42h-15.5z"/><path d="M1676.2 1353.1l7.75 13.42h-15.5z"/><path d="M1679.1 1359.9l7.75 13.42h-15.5z"/><path d="M1682.1 1362l7.75 13.42h-15.5z"/><path d="M1685 1362.9l7.75 13.42h-15.5z"/><path d="M1688 1364.5l7.75 13.42h-15.5z"/><path d="M1690.9 1364.1l7.75 13.42h-15.5z"/><path d="M1693.9 1365.4l7.75 13.42h-15.5z"/><path d="M1696.8 1365.4l7.75 13.42h-15.5z"/><path d="M1699.8 1363.9l7.75 13.42h-15.5z"/><path d="M1702.7 1363.7l7.75 13.42h-15.5z"/><path d="M1705.7 1363.5l7.75 13.42h-15.5z"/><path d="M1708.6 1365.4l7.75 13.42h-15.5z"/><path d="M1711.6 1366.6l7.75 13.42h-15.5z"/><path d="M1714.5 1364.9l7.75 13.42h-15.5z"/><path d="M1717.5 1365.2l7.75 13.42h-15.5z"/><path d="M1720.4 1363.4l7.75 13.42h-15.5z"/><path d="M1723.4 1365.5l7.75 13.42h-15.5z"/><path d="M1726.3 1365.4l7.75 13.42h-15.5z"/><path d="M1729.3 1364.7l7.75 13.42h-15.5z"/><path d="M1732.2 1366.2l7.75 13.42h-15.5z"/><path d="M1735.2 1364.4l7.75 13.42h-15.5z"/><path d="M1738.1 1365.5l7.75 13.42h-15.5z"/><path d="M1741.1 1365.8l7.75 13.42h-15.5z"/><path d="M1744 1364.8l7.75 13.42h-15.5z"/><path d="M1747 1366.5l7.75 13.42h-15.5z"/><path d="M1749.9 1366.7l7.75 13.42h-15.5z"/><path d="M1752.9 1364.8l7.75 13.42h-15.5z"/><path d="M1755.8 1364.8l7.75 13.42h-15.5z"/><path d="M1758.8 1366.5l7.75 13.42h-15.5z"/><path d="M1761.7 1366.1l7.75 13.42h-15.5z"/><path d="M1764.7 1365.2l7.75 13.42h-15.5z"/><path d="M1767.6 1366l7.75 13.42h-15.5z"/><path d="M1770.6 1366.2l7.75 13.42h-15.5z"/><path d="M1773.5 1366.3l7.75 13.42h-15.5z"/><path d="M1776.5 1367.2l7.75 13.42h-15.5z"/><path d="M1779.4 1366.9l7.75 13.42h-15.5z"/><path d="M1782.4 1368.1l7.75 13.42h-15.5z"/><path d="M1785.3 1367.8l7.75 13.42h-15.5z"/><path d="M1788.3 1367.4l7.75 13.42h-15.5z"/><path d="M1791.2 1367.7l7.75 13.42h-15.5z"/><path d="M1794.2 1368l7.75 13.42h-15.5z"/><path d="M1797.1 1367.6l7.75 13.42h-15.5z"/><path d="M1800.1 1366.1l7.75 13.42h-15.5z"/><path d="M1803 1367.8l7.75 13.42h-15.5z"/><path d="M1806 1367.2l7.75 13.42h-15.5z"/><path d="M1808.9 1368.5l7.75 13.42h-15.5z"/><path d="M1811.9 1367.3l7.75 13.42h-15.5z"/><path d="M1814.8 1367.7l7.75 13.42h-15.5z"/><path d="M1817.8 1367.6l7.75 13.42h-15.5z"/><path d="M1820.7 1368.7l7.75 13.42h-15.5z"/><path d="M1823.7 1367.5l7.75 13.42h-15.5z"/><path d="M1826.6 1367.2l7.75 13.42h-15.5z"/><path d="M1829.6 1367.7l7.75 13.42h-15.5z"/><path d="M1832.5 1367.1l7.75 13.42h-15.5z"/><path d="M1835.5 1367.6l7.75 13.42h-15.5z"/><path d="M1838.4 1367.5l7.75 13.42h-15.5z"/><path d="M1841.4 1367.8l7.75 13.42h-15.5z"/><path d="M1844.3 1369.1l7.75 13.42h-15.5z"/><path d="M1847.3 1367.3l7.75 13.42h-15.5z"/><path d="M1850.2 1367.7l7.75 13.42h-15.5z"/><path d="M1853.2 1367.5l7.75 13.42h-15.5z"/><path d="M1856.1 1368.3l7.75 13.42h-15.5z"/><path d="M1859.1 1366.8l7.75 13.42h-15.5z"/><path d="M1862 1367.2l7.75 13.42h-15.5z"/><path d="M1865 1367.8l7.75 13.42h-15.5z"/><path d="M1867.9 1368.3l7.75 13.42h-15.5z"/><path d="M1870.9 1367.8l7.75 13.42h-15.5z"/><path d="M1873.8 1367.5l7.75 13.42h-15.5z"/><path d="M1876.8 1367.2l7.75 13.42h-15.5z"/><path d="M1879.7 1368.3l7.75 13.42h-15.5z"/><path d="M1882.7 1369.1l7.75 13.42h-15.5z"/><path d="M1885.6 1368.2l7.75 13.42h-15.5z"/><path d="M1888.6 1368.1l7.75 13.42h-15.5z"/><path d="M1891.5 1368.3l7.75 13.42h-15.5z"/><path d="M1894.5 1367.3l7.75 13.42h-15.5z"/><path d="M1897.4 1367.8l7.75 13.42h-15.5z"/><path d="M1900.4 1367.8l7.75 13.42h-15.5z"/><path d="M1903.3 1368.3l7.75 13.42h-15.5z"/><path d="M1906.3 1368.1l7.75 13.42h-15.5z"/><path d="M1909.2 1367.1l7.75 13.42h-15.5z"/><path d="M1912.2 1369l7.75 13.42h-15.5z"/><path d="M1915.1 1369.5l7.75 13.42h-15.5z"/><path d="M1918.1 1368l7.75 13.42h-15.5z"/><path d="M1921 1368.5l7.75 13.42h-15.5z"/><path d="M1924 1368.4l7.75 13.42h-15.5z"/><path d="M1926.9 1368.9l7.75 13.42h-15.5z"/><path d="M1929.9 1367.1l7.75 13.42h-15.5z"/><path d="M1932.8 1369.6l7.75 13.42h-15.5z"/><path d="M1935.8 1367.9l7.75 13.42h-15.5z"/><path d="M1938.7 1369.3l7.75 13.42h-15.5z"/><path d="M1941.7 1368.4l7.75 13.42h-15.5z"/><path d="M1944.6 1368l7.75 13.42h-15.5z"/><path d="M1947.6 1368.3l7.75 13.42h-15.5z"/><path d="M1950.5 1369.1l7.75 13.42h-15.5z"/><path d="M1953.5 1367.7l7.75 13.42h-15.5z"/><path d="M1956.4 1368.1l7.75 13.42h-15.5z"/><path d="M1959.4 1368l7.75 13.42h-15.5z"/><path d="M1962.3 1367.1l7.75 13.42h-15.5z"/><path d="M1965.3 1369.5l7.75 13.42h-15.5z"/><path d="M1968.2 1368.9l7.75 13.42h-15.5z"/><path d="M1971.2 1368.5l7.75 13.42h-15.5z"/><path d="M1974.1 1369.4l7.75 13.42h-15.5z"/><path d="M1977.1 1367.7l7.75 13.42h-15.5z"/><path d="M1980 1368.5l7.75 13.42h-15.5z"/><path d="M1983 1369.9l7.75 13.42h-15.5z"/><path d="M1985.9 1369.3l7.75 13.42h-15.5z"/><path d="M1988.9 1366.8l7.75 13.42h-15.5z"/><path d="M1991.8 1365.9l7.75 13.42h-15.5z"/><path d="M1994.8 1367.7l7.75 13.42h-15.5z"/><path d="M1997.7 1369.4l7.75 13.42h-15.5z"/><path d="M2000.7 1368.2l7.75 13.42h-15.5z"/><path d="M2003.6 1368.4l7.75 13.42h-15.5z"/><path d="M2006.6 1369l7.75 13.42h-15.5z"/><path d="M2009.5 1367.8l7.75 13.42h-15.5z"/><path d="M2012.5 1368.7l7.75 13.42h-15.5z"/><path d="M2015.4 1369.2l7.75 13.42h-15.5z"/><path d="M2018.4 1368.9l7.75 13.42h-15.5z"/><path d="M2021.3 1368.9l7.75 13.42h-15.5z"/><path d="M2024.3 1368.1l7.75 13.42h-15.5z"/><path d="M2027.2 1369l7.75 13.42h-15.5z"/><path d="M2030.2 1368.2l7.75 13.42h-15.5z"/><path d="M2033.1 1369.6l7.75 13.42h-15.5z"/><path d="M2036.1 1370.6l7.75 13.42h-15.5z"/><path d="M2039 1368l7.75 13.42h-15.5z"/><path d="M2042 1366.8l7.75 13.42h-15.5z"/><path d="M2044.9 1368.2l7.75 13.42h-15.5z"/><path d="M2047.9 1368.9l7.75 13.42h-15.5z"/><path d="M2050.8 1369.4l7.75 13.42h-15.5z"/><path d="M2053.8 1369.4l7.75 13.42h-15.5z"/><path d="M2056.7 1367.9l7.75 13.42h-15.5z"/><path d="M2059.7 1367.9l7.75 13.42h-15.5z"/><path d="M2062.6 1369.6l7.75 13.42h-15.5z"/><path d="M2065.6 1367.7l7.75 13.42h-15.5z"/><path d="M2068.5 1369.4l7.75 13.42h-15.5z"/></g>
<path d="M335 1375L337.9 1374.5L340.9 1374L343.8 1373.3L346.8 1372.5L349.7 1371.7L352.7 1370.7L355.6 1369.5L358.6 1368.1L361.5 1366.5L364.5 1364.7L367.4 1362.6L370.4 1360.3L373.3 1357.6L376.3 1354.5L379.2 1350.9L382.2 1346.5L385.1 1341.1L388.1 1334.2L391 1325.3L394 1318.1L396.9 1311.9L399.9 1299.5L402.8 1276.7L405.8 1257.9L408.7 1240.9L411.7 1214.7L414.6 1194.2L417.6 1162.3L420.5 1134.4L423.5 1115.4L426.4 1083.9L429.4 1053.6L432.3 1005.3L435.3 976.4L438.2 963.3L441.2 945.1L444.1 904.8L447.1 848.8L450 806.9L453 774.7L455.9 738.2L458.9 697.7L461.8 650.5L464.8 601.3L467.7 583.7L470.7 550.2L473.6 522.6L476.6 512.3L479.5 472.2L482.5 439.9L485.4 424.5L488.4 402L491.3 369L494.3 345.2L497.2 332.2L500.2 312.4L503.1 294.3L506.1 285.1L509 274.4L512 251.5L514.9 233.8L517.9 229.9L520.8 227.1L523.8 221.2L526.7 211.5L529.7 200.7L532.6 189.7L535.6 185.2L538.5 196.2L541.5 224.8L544.4 231.2L547.4 236.4L550.3 255.7L553.3 275.1L556.2 294.5L559.2 311.9L562.1 327.6L565.1 338.5L568 358.4L571 388.3L573.9 400.8L576.9 421.2L579.8 439L582.8 456.7L585.7 468.5L588.7 509.4L591.6 515.4L594.6 531.3L597.5 571.1L600.5 599.3L603.4 612L606.4 641.7L609.3 662.6L612.3 680.8L615.2 700L618.2 717.8L621.1 741.9L624.1 761.1L627 778.5L630 798.8L632.9 810.2L635.9 819.2L638.8 851.7L641.8 873.7L644.7 886.4L647.7 897.7L650.6 913.1L653.6 933.9L656.5 946.8L659.5 957.7L662.4 971.1L665.4 985.3L668.3 998.2L671.3 1011L674.2 1026.1L677.2 1037.8L680.1 1048L683.1 1061.6L686 1066.7L689 1082.2L691.9 1084.2L694.9 1092.3L697.8 1108.2L700.8 1117.4L703.7 1119L706.7 1128.6L709.6 1137.6L712.6 1146.8L715.5 1147.7L718.5 1155.6L721.4 1166.3L724.4 1169.6L727.3 1177.5L730.3 1182.7L733.2 1182.1L736.2 1188.1L739.1 1186.8L742.1 1199.5L745 1209.5L748 1205.6L750.9 1217.7L753.9 1220.6L756.8 1220.2L759.8 1223L762.7 1225.7L765.7 1224.7L768.6 1228.9L771.6 1232.1L774.5 1237L777.5 1240.9L780.4 1239.3L783.4 1248.4L786.3 1246.7L789.3 1252.3L792.2 1257.1L795.2 1258.2L798.1 1260L801.1 1263.3L804 1262.4L807 1263.8L809.9 1267.1L812.9 1272.7L815.8 1270.7L818.8 1279.1L821.7 1274.8L824.7 1265.4L827.6 1275.4L830.6 1284L833.5 1279.8L836.5 1279.8L839.4 1279.8L842.4 1288.7L845.3 1289.1L848.3 1289.4L851.2 1290L854.2 1295L857.1 1294.3L860.1 1288.8L863 1297.2L866 1296.8L868.9 1297.6L871.9 1302.2L874.8 1301.2L877.8 1292.3L880.7 1308.5L883.7 1307.4L886.6 1304L889.6 1303.7L892.5 1306.1L895.5 1301.4L898.4 1307.2L901.4 1305.8L904.3 1305.8L907.3 1304.4L910.2 1305.8L913.2 1312.6L916.1 1314.2L919.1 1312.2L922 1311L925 1308.6L927.9 1314.4L930.9 1317.8L933.8 1307.2L936.8 1316.9L939.7 1305.8L942.7 1312.3L945.6 1315L948.6 1309.3L951.5 1309L954.5 1315.1L957.4 1317.7L960.4 1313.4L963.3 1319.9L966.3 1313.1L969.2 1322.1L972.2 1317L975.1 1317.8L978.1 1319.6L981 1319.1L984 1324.8L986.9 1326.6L989.9 1321.5L992.8 1319.6L995.8 1316.7L998.7 1318.6L1001.7 1321.7L1004.6 1321.8L1007.6 1322.4L1010.5 1323L1013.5 1325.2L1016.4 1319.3L1019.4 1320.9L1022.3 1328.6L1025.3 1328.1L1028.2 1323.9L1031.2 1330.5L1034.1 1324.2L1037.1 1326L1040 1321L1043 1330.5L1045.9 1327.9L1048.9 1331.8L1051.8 1330.8L1054.8 1329L1057.7 1329.4L1060.7 1333.2L1063.6 1328.8L1066.6 1329L1069.5 1329.9L1072.5 1332.6L1075.4 1333.2L1078.4 1336.8L1081.3 1330.2L1084.3 1334.9L1087.2 1328.6L1090.2 1333.1L1093.1 1331.6L1096.1 1337.3L1099 1333.7L1102 1330.3L1104.9 1334L1107.9 1333.5L1110.8 1331.4L1113.8 1331.7L1116.7 1329.7L1119.7 1342.5L1122.6 1333.8L1125.6 1336.8L1128.5 1329.7L1131.5 1330.2L1134.4 1333.5L1137.4 1333.6L1140.3 1337L1143.3 1330.9L1146.2 1336.3L1149.2 1339.7L1152.1 1331.5L1155.1 1337.8L1158 1331.5L1161 1336L1163.9 1336.2L1166.9 1340.9L1169.8 1332.8L1172.8 1335.8L1175.7 1338.9L1178.7 1331.5L1181.6 1335.6L1184.6 1332.9L1187.5 1333.6L1190.5 1338.5L1193.4 1338.8L1196.4 1345.4L1199.3 1341.5L1202.3 1341.4L1205.2 1336.6L1208.2 1336.3L1211.1 1337.9L1214.1 1329.8L1217 1343.2L1220 1335.3L1222.9 1333.9L1225.9 1335.9L1228.8 1340.4L1231.8 1341.5L1234.7 1335.9L1237.7 1338.6L1240.6 1336.8L1243.6 1333.4L1246.5 1337.2L1249.5 1336.6L1252.4 1331.1L1255.4 1340L1258.3 1330.7L1261.3 1336.7L1264.2 1332.2L1267.2 1332.9L1270.1 1333.1L1273.1 1337.8L1276 1331.1L1279 1334.6L1281.9 1340.5L1284.9 1332.8L1287.8 1335.1L1290.8 1337.4L1293.7 1333.2L1296.7 1336.8L1299.6 1332.9L1302.6 1337.5L1305.5 1335.4L1308.5 1332L1311.4 1339.9L1314.4 1334.8L1317.3 1334.2L1320.3 1332L1323.2 1333.6L1326.2 1334.8L1329.1 1335.7L1332.1 1338.9L1335 1330.7L1338 1334L1340.9 1339.2L1343.9 1335.8L1346.8 1336.5L1349.8 1340.6L1352.7 1336.3L1355.7 1336.7L1358.6 1335L1361.6 1341.2L1364.5 1338.8L1367.5 1332.9L1370.4 1337.3L1373.4 1331.7L1376.3 1339.5L1379.3 1338.2L1382.2 1335.6L1385.2 1335L1388.1 1330.4L1391.1 1339.4L1394 1336.6L1397 1336.2L1399.9 1340L1402.9 1335.5L1405.8 1336L1408.8 1335.9L1411.7 1333.9L1414.7 1347L1417.6 1338.4L1420.6 1338.1L1423.5 1342.6L1426.5 1329.1L1429.4 1340L1432.4 1340.4L1435.3 1337.4L1438.3 1342.5L1441.2 1334.4L1444.2 1341.6L1447.1 1344.9L1450.1 1334.6L1453 1337.6L1456 1342.3L1458.9 1343.1L1461.9 1341.4L1464.8 1345.2L1467.8 1345.2L1470.7 1340.2L1473.7 1344.8L1476.6 1341.2L1479.6 1338.8L1482.5 1338L1485.5 1350L1488.4 1346.3L1491.4 1353.7L1494.3 1342.2L1497.3 1346.1L1500.2 1348.6L1503.2 1347L1506.1 1349.2L1509.1 1348.1L1512 1345.5L1515 1339.8L1517.9 1344.5L1520.9 1353.6L1523.8 1350.4L1526.8 1352.6L1529.7 1345.9L1532.7 1347.3L1535.6 1345L1538.6 1349.4L1541.5 1348.3L1544.5 1349.7L1547.4 1354.1L1550.4 1345.3L1553.3 1350.7L1556.3 1343.5L1559.2 1352L1562.2 1346.8L1565.1 1348.1L1568.1 1348.8L1571 1353.9L1574 1348.3L1576.9 1346.7L1579.9 1344.4L1582.8 1349.4L1585.8 1345.5L1588.7 1346.8L1591.7 1348.4L1594.6 1350.8L1597.6 1346.1L1600.5 1350.9L1603.5 1354.6L1606.4 1343.6L1609.4 1353.3L1612.3 1356.1L1615.3 1346.8L1618.2 1350.9L1621.2 1344.2L1624.1 1350L1627.1 1347.8L1630 1350L1633 1345.9L1635.9 1346.2L1638.9 1347.5L1641.8 1346.7L1644.8 1347L1647.7 1348.5L1650.7 1345.4L1653.6 1348.7L1656.6 1350.9L1659.5 1341.4L1662.5 1350L1665.4 1346.8L1668.4 1345.6L1671.3 1344.8L1674.3 1346.5L1677.2 1346.9L1680.2 1350.6L1683.1 1345.2L1686.1 1353.1L1689 1346.8L1692 1351.9L1694.9 1353.3L1697.9 1345.5L1700.8 1353.4L1703.8 1357.2L1706.7 1348.4L1709.7 1351.9L1712.6 1349.6L1715.6 1350.3L1718.5 1349.5L1721.5 1348.5L1724.4 1352.7L1727.4 1353.3L1730.3 1350.3L1733.3 1355.5L1736.2 1354.1L1739.2 1352.8L1742.1 1348L1745.1 1357L1748 1355L1751 1343.2L1753.9 1346.8L1756.9 1349L1759.8 1353.8L1762.8 1354.9L1765.7 1349.7L1768.7 1351.5L1771.6 1353.1L1774.6 1346.4L1777.5 1352.8L1780.5 1349.7L1783.4 1351.4L1786.4 1350.6L1789.3 1346.8L1792.3 1347.5L1795.2 1351L1798.2 1351.3L1801.1 1350L1804.1 1354.5L1807 1349.7L1810 1346.8L1812.9 1349.8L1815.9 1350.3L1818.8 1350.5L1821.8 1354.9L1824.7 1352.7L1827.7 1354.6L1830.6 1353.1L1833.6 1350.4L1836.5 1354.5L1839.5 1350.1L1842.4 1351.9L1845.4 1347.6L1848.3 1351.4L1851.3 1349.9L1854.2 1352.3L1857.2 1357.2L1860.1 1359.1L1863.1 1354.5L1866 1350.9L1869 1353.8L1871.9 1351.8L1874.9 1348.9L1877.8 1350.7L1880.8 1350.1L1883.7 1348.9L1886.7 1355.6L1889.6 1349L1892.6 1349.2L1895.5 1353.2L1898.5 1348.5L1901.4 1346.9L1904.4 1347.9L1907.3 1352.4L1910.3 1352L1913.2 1351.7L1916.2 1349.1L1919.1 1347.5L1922.1 1353.7L1925 1345.6L1928 1349.8L1930.9 1346L1933.9 1349.1L1936.8 1349.9L1939.8 1354.5L1942.7 1340.6L1945.7 1354.9L1948.6 1347.2L1951.6 1351.2L1954.5 1352.9L1957.5 1347.5L1960.4 1349.8L1963.4 1351.7L1966.3 1349.5L1969.3 1347.4L1972.2 1350.4L1975.2 1350.1L1978.1 1344.5L1981.1 1354.1L1984 1350.1L1987 1341L1989.9 1346.3L1992.9 1354.8L1995.8 1354.2L1998.8 1349.6L2001.7 1342.8L2004.7 1347.6L2007.6 1351.9L2010.6 1349.6L2013.5 1347L2016.5 1345.5L2019.4 1350.7L2022.4 1347.1L2025.3 1348.8L2028.3 1349.3L2031.2 1353.1L2034.2 1348L2037.1 1348.1L2040.1 1341.1L2043 1350.8L2046 1350L2048.9 1346.8L2051.9 1339L2054.8 1344.7L2057.8 1346.8L2060.7 1353.6L2063.7 1348.4L2066.6 1349L2069.6 1348.9" fill="none" stroke="#00f" stroke-width="4.6" stroke-linejoin="round"/>
<g fill="none" stroke="#00f" stroke-width="2.4"><path d="M335 1366v18m-8.5-17.1l17 15.8m0-15.8l-17 15.8m0-7.9h17"/><path d="M337.9 1365.5v18m-8.5-17.1l17 15.8m0-15.8l-17 15.8m0-7.9h17"/><path d="M340.9 1365v18m-8.5-17.1l17 15.8m0-15.8l-17 15.8m0-7.9h17"/><path d="M343.8 1364.3v18m-8.5-17.1l17 15.8m0-15.8l-17 15.8m0-7.9h17"/><path d="M346.8 1363.5v18m-8.5-17.1l17 15.8m0-15.8l-17 15.8m0-7.9h17"/><path d="M349.7 1362.7v18m-8.5-17.1l17 15.8m0-15.8l-17 15.8m0-7.9h17"/><path d="M352.7 1361.7v18m-8.5-17.1l17 15.8m0-15.8l-17 15.8m0-7.9h17"/><path d="M355.6 1360.5v18m-8.5-17.1l17 15.8m0-15.8l-17 15.8m0-7.9h17"/><path d="M358.6 1359.1v18m-8.5-17.1l17 15.8m0-15.8l-17 15.8m0-7.9h17"/><path d="M361.5 1357.5v18m-8.5-17.1l17 15.8m0-15.8l-17 15.8m0-7.9h17"/><path d="M364.5 1355.7v18m-8.5-17.1l17 15.8m0-15.8l-17 15.8m0-7.9h17"/><path d="M367.4 1353.6v18m-8.5-17.1l17 15.8m0-15.8l-17 15.8m0-7.9h17"/><path d="M370.4 1351.3v18m-8.5-17.1l17 15.8m0-15.8l-17 15.8m0-7.9h17"/><path d="M373.3 1348.6v18m-8.5-17.1l17 15.8m0-15.8l-17 15.8m0-7.9h17"/><path d="M376.3 1345.5v18m-8.5-17.1l17 15.8m0-15.8l-17 15.8m0-7.9h17"/><path d="M379.2 1341.9v18m-8.5-17.1l17 15.8m0-15.8l-17 15.8m0-7.9h17"/><path d="M382.2 1337.5v18m-8.5-17.1l17 15.8m0-15.8l-17 15.8m0-7.9h17"/><path d="M385.1 1332.1v18m-8.5-17.1l17 15.8m0-15.8l-17 15.8m0-7.9h17"/><path d="M388.1 1325.2v18m-8.5-17.1l17 15.8m0-15.8l-17 15.8m0-7.9h17"/><path d="M391 1316.3v18m-8.5-17.1l17 15.8m0-15.8l-17 15.8m0-7.9h17"/><path d="M394 1309.1v18m-8.5-17.1l17 15.8m0-15.8l-17 15.8m0-7.9h17"/><path d="M396.9 1302.9v18m-8.5-17.1l17 15.8m0-15.8l-17 15.8m0-7.9h17"/><path d="M399.9 1290.5v18m-8.5-17.1l17 15.8m0-15.8l-17 15.8m0-7.9h17"/><path d="M402.8 1267.7v18m-8.5-17.1l17 15.8m0-15.8l-17 15.8m0-7.9h17"/><path d="M405.8 1248.9v18m-8.5-17.1l17 15.8m0-15.8l-17 15.8m0-7.9h17"/><path d="M408.7 1231.9v18m-8.5-17.1l17 15.8m0-15.8l-17 15.8m0-7.9h17"/><path d="M411.7 1205.7v18m-8.5-17.1l17 15.8m0-15.8l-17 15.8m0-7.9h17"/><path d="M414.6 1185.2v18m-8.5-17.1l17 15.8m0-15.8l-17 15.8m0-7.9h17"/><path d="M417.6 1153.3v18m-8.5-17.1l17 15.8m0-15.8l-17 15.8m0-7.9h17"/><path d="M420.5 1125.4v18m-8.5-17.1l17 15.8m0-15.8l-17 15.8m0-7.9h17"/><path d="M423.5 1106.4v18m-8.5-17.1l17 15.8m0-15.8l-17 15.8m0-7.9h17"/><path d="M426.4 1074.9v18m-8.5-17.1l17 15.8m0-15.8l-17 15.8m0-7.9h17"/><path d="M429.4 1044.6v18m-8.5-17.1l17 15.8m0-15.8l-17 15.8m0-7.9h17"/><path d="M432.3 996.3v18m-8.5-17.1l17 15.8m0-15.8l-17 15.8m0-7.9h17"/><path d="M435.3 967.4v18m-8.5-17.1l17 15.8m0-15.8l-17 15.8m0-7.9h17"/><path d="M438.2 954.3v18m-8.5-17.1l17 15.8m0-15.8l-17 15.8m0-7.9h17"/><path d="M441.2 936.1v18m-8.5-17.1l17 15.8m0-15.8l-17 15.8m0-7.9h17"/><path d="M444.1 895.8v18m-8.5-17.1l17 15.8m0-15.8l-17 15.8m0-7.9h17"/><path d="M447.1 839.8v18m-8.5-17.1l17 15.8m0-15.8l-17 15.8m0-7.9h17"/><path d="M450 797.9v18m-8.5-17.1l17 15.8m0-15.8l-17 15.8m0-7.9h17"/><path d="M453 765.7v18m-8.5-17.1l17 15.8m0-15.8l-17 15.8m0-7.9h17"/><path d="M455.9 729.2v18m-8.5-17.1l17 15.8m0-15.8l-17 15.8m0-7.9h17"/><path d="M458.9 688.7v18m-8.5-17.1l17 15.8m0-15.8l-17 15.8m0-7.9h17"/><path d="M461.8 641.5v18m-8.5-17.1l17 15.8m0-15.8l-17 15.8m0-7.9h17"/><path d="M464.8 592.3v18m-8.5-17.1l17 15.8m0-15.8l-17 15.8m0-7.9h17"/><path d="M467.7 574.7v18m-8.5-17.1l17 15.8m0-15.8l-17 15.8m0-7.9h17"/><path d="M470.7 541.2v18m-8.5-17.1l17 15.8m0-15.8l-17 15.8m0-7.9h17"/><path d="M473.6 513.6v18m-8.5-17.1l17 15.8m0-15.8l-17 15.8m0-7.9h17"/><path d="M476.6 503.3v18m-8.5-17.1l17 15.8m0-15.8l-17 15.8m0-7.9h17"/><path d="M479.5 463.2v18m-8.5-17.1l17 15.8m0-15.8l-17 15.8m0-7.9h17"/><path d="M482.5 430.9v18m-8.5-17.1l17 15.8m0-15.8l-17 15.8m0-7.9h17"/><path d="M485.4 415.5v18m-8.5-17.1l17 15.8m0-15.8l-17 15.8m0-7.9h17"/><path d="M488.4 393v18m-8.5-17.1l17 15.8m0-15.8l-17 15.8m0-7.9h17"/><path d="M491.3 360v18m-8.5-17.1l17 15.8m0-15.8l-17 15.8m0-7.9h17"/><path d="M494.3 336.2v18m-8.5-17.1l17 15.8m0-15.8l-17 15.8m0-7.9h17"/><path d="M497.2 323.2v18m-8.5-17.1l17 15.8m0-15.8l-17 15.8m0-7.9h17"/><path d="M500.2 303.4v18m-8.5-17.1l17 15.8m0-15.8l-17 15.8m0-7.9h17"/><path d="M503.1 285.3v18m-8.5-17.1l17 15.8m0-15.8l-17 15.8m0-7.9h17"/><path d="M506.1 276.1v18m-8.5-17.1l17 15.8m0-15.8l-17 15.8m0-7.9h17"/><path d="M509 265.4v18m-8.5-17.1l17 15.8m0-15.8l-17 15.8m0-7.9h17"/><path d="M512 242.5v18m-8.5-17.1l17 15.8m0-15.8l-17 15.8m0-7.9h17"/><path d="M514.9 224.8v18m-8.5-17.1l17 15.8m0-15.8l-17 15.8m0-7.9h17"/><path d="M517.9 220.9v18m-8.5-17.1l17 15.8m0-15.8l-17 15.8m0-7.9h17"/><path d="M520.8 218.1v18m-8.5-17.1l17 15.8m0-15.8l-17 15.8m0-7.9h17"/><path d="M523.8 212.2v18m-8.5-17.1l17 15.8m0-15.8l-17 15.8m0-7.9h17"/><path d="M526.7 202.5v18m-8.5-17.1l17 15.8m0-15.8l-17 15.8m0-7.9h17"/><path d="M529.7 191.7v18m-8.5-17.1l17 15.8m0-15.8l-17 15.8m0-7.9h17"/><path d="M532.6 180.7v18m-8.5-17.1l17 15.8m0-15.8l-17 15.8m0-7.9h17"/><path d="M535.6 176.2v18m-8.5-17.1l17 15.8m0-15.8l-17 15.8m0-7.9h17"/><path d="M538.5 187.2v18m-8.5-17.1l17 15.8m0-15.8l-17 15.8m0-7.9h17"/><path d="M541.5 215.8v18m-8.5-17.1l17 15.8m0-15.8l-17 15.8m0-7.9h17"/><path d="M544.4 222.2v18m-8.5-17.1l17 15.8m0-15.8l-17 15.8m0-7.9h17"/><path d="M547.4 227.4v18m-8.5-17.1l17 15.8m0-15.8l-17 15.8m0-7.9h17"/><path d="M550.3 246.7v18m-8.5-17.1l17 15.8m0-15.8l-17 15.8m0-7.9h17"/><path d="M553.3 266.1v18m-8.5-17.1l17 15.8m0-15.8l-17 15.8m0-7.9h17"/><path d="M556.2 285.5v18m-8.5-17.1l17 15.8m0-15.8l-17 15.8m0-7.9h17"/><path d="M559.2 302.9v18m-8.5-17.1l17 15.8m0-15.8l-17 15.8m0-7.9h17"/><path d="M562.1 318.6v18m-8.5-17.1l17 15.8m0-15.8l-17 15.8m0-7.9h17"/><path d="M565.1 329.5v18m-8.5-17.1l17 15.8m0-15.8l-17 15.8m0-7.9h17"/><path d="M568 349.4v18m-8.5-17.1l17 15.8m0-15.8l-17 15.8m0-7.9h17"/><path d="M571 379.3v18m-8.5-17.1l17 15.8m0-15.8l-17 15.8m0-7.9h17"/><path d="M573.9 391.8v18m-8.5-17.1l17 15.8m0-15.8l-17 15.8m0-7.9h17"/><path d="M576.9 412.2v18m-8.5-17.1l17 15.8m0-15.8l-17 15.8m0-7.9h17"/><path d="M579.8 430v18m-8.5-17.1l17 15.8m0-15.8l-17 15.8m0-7.9h17"/><path d="M582.8 447.7v18m-8.5-17.1l17 15.8m0-15.8l-17 15.8m0-7.9h17"/><path d="M585.7 459.5v18m-8.5-17.1l17 15.8m0-15.8l-17 15.8m0-7.9h17"/><path d="M588.7 500.4v18m-8.5-17.1l17 15.8m0-15.8l-17 15.8m0-7.9h17"/><path d="M591.6 506.4v18m-8.5-17.1l17 15.8m0-15.8l-17 15.8m0-7.9h17"/><path d="M594.6 522.3v18m-8.5-17.1l17 15.8m0-15.8l-17 15.8m0-7.9h17"/><path d="M597.5 562.1v18m-8.5-17.1l17 15.8m0-15.8l-17 15.8m0-7.9h17"/><path d="M600.5 590.3v18m-8.5-17.1l17 15.8m0-15.8l-17 15.8m0-7.9h17"/><path d="M603.4 603v18m-8.5-17.1l17 15.8m0-15.8l-17 15.8m0-7.9h17"/><path d="M606.4 632.7v18m-8.5-17.1l17 15.8m0-15.8l-17 15.8m0-7.9h17"/><path d="M609.3 653.6v18m-8.5-17.1l17 15.8m0-15.8l-17 15.8m0-7.9h17"/><path d="M612.3 671.8v18m-8.5-17.1l17 15.8m0-15.8l-17 15.8m0-7.9h17"/><path d="M615.2 691v18m-8.5-17.1l17 15.8m0-15.8l-17 15.8m0-7.9h17"/><path d="M618.2 708.8v18m-8.5-17.1l17 15.8m0-15.8l-17 15.8m0-7.9h17"/><path d="M621.1 732.9v18m-8.5-17.1l17 15.8m0-15.8l-17 15.8m0-7.9h17"/><path d="M624.1 752.1v18m-8.5-17.1l17 15.8m0-15.8l-17 15.8m0-7.9h17"/><path d="M627 769.5v18m-8.5-17.1l17 15.8m0-15.8l-17 15.8m0-7.9h17"/><path d="M630 789.8v18m-8.5-17.1l17 15.8m0-15.8l-17 15.8m0-7.9h17"/><path d="M632.9 801.2v18m-8.5-17.1l17 15.8m0-15.8l-17 15.8m0-7.9h17"/><path d="M635.9 810.2v18m-8.5-17.1l17 15.8m0-15.8l-17 15.8m0-7.9h17"/><path d="M638.8 842.7v18m-8.5-17.1l17 15.8m0-15.8l-17 15.8m0-7.9h17"/><path d="M641.8 864.7v18m-8.5-17.1l17 15.8m0-15.8l-17 15.8m0-7.9h17"/><path d="M644.7 877.4v18m-8.5-17.1l17 15.8m0-15.8l-17 15.8m0-7.9h17"/><path d="M647.7 888.7v18m-8.5-17.1l17 15.8m0-15.8l-17 15.8m0-7.9h17"/><path d="M650.6 904.1v18m-8.5-17.1l17 15.8m0-15.8l-17 15.8m0-7.9h17"/><path d="M653.6 924.9v18m-8.5-17.1l17 15.8m0-15.8l-17 15.8m0-7.9h17"/><path d="M656.5 937.8v18m-8.5-17.1l17 15.8m0-15.8l-17 15.8m0-7.9h17"/><path d="M659.5 948.7v18m-8.5-17.1l17 15.8m0-15.8l-17 15.8m0-7.9h17"/><path d="M662.4 962.1v18m-8.5-17.1l17 15.8m0-15.8l-17 15.8m0-7.9h17"/><path d="M665.4 976.3v18m-8.5-17.1l17 15.8m0-15.8l-17 15.8m0-7.9h17"/><path d="M668.3 989.2v18m-8.5-17.1l17 15.8m0-15.8l-17 15.8m0-7.9h17"/><path d="M671.3 1002v18m-8.5-17.1l17 15.8m0-15.8l-17 15.8m0-7.9h17"/><path d="M674.2 1017.1v18m-8.5-17.1l17 15.8m0-15.8l-17 15.8m0-7.9h17"/><path d="M677.2 1028.8v18m-8.5-17.1l17 15.8m0-15.8l-17 15.8m0-7.9h17"/><path d="M680.1 1039v18m-8.5-17.1l17 15.8m0-15.8l-17 15.8m0-7.9h17"/><path d="M683.1 1052.6v18m-8.5-17.1l17 15.8m0-15.8l-17 15.8m0-7.9h17"/><path d="M686 1057.7v18m-8.5-17.1l17 15.8m0-15.8l-17 15.8m0-7.9h17"/><path d="M689 1073.2v18m-8.5-17.1l17 15.8m0-15.8l-17 15.8m0-7.9h17"/><path d="M691.9 1075.2v18m-8.5-17.1l17 15.8m0-15.8l-17 15.8m0-7.9h17"/><path d="M694.9 1083.3v18m-8.5-17.1l17 15.8m0-15.8l-17 15.8m0-7.9h17"/><path d="M697.8 1099.2v18m-8.5-17.1l17 15.8m0-15.8l-17 15.8m0-7.9h17"/><path d="M700.8 1108.4v18m-8.5-17.1l17 15.8m0-15.8l-17 15.8m0-7.9h17"/><path d="M703.7 1110v18m-8.5-17.1l17 15.8m0-15.8l-17 15.8m0-7.9h17"/><path d="M706.7 1119.6v18m-8.5-17.1l17 15.8m0-15.8l-17 15.8m0-7.9h17"/><path d="M709.6 1128.6v18m-8.5-17.1l17 15.8m0-15.8l-17 15.8m0-7.9h17"/><path d="M712.6 1137.8v18m-8.5-17.1l17 15.8m0-15.8l-17 15.8m0-7.9h17"/><path d="M715.5 1138.7v18m-8.5-17.1l17 15.8m0-15.8l-17 15.8m0-7.9h17"/><path d="M718.5 1146.6v18m-8.5-17.1l17 15.8m0-15.8l-17 15.8m0-7.9h17"/><path d="M721.4 1157.3v18m-8.5-17.1l17 15.8m0-15.8l-17 15.8m0-7.9h17"/><path d="M724.4 1160.6v18m-8.5-17.1l17 15.8m0-15.8l-17 15.8m0-7.9h17"/><path d="M727.3 1168.5v18m-8.5-17.1l17 15.8m0-15.8l-17 15.8m0-7.9h17"/><path d="M730.3 1173.7v18m-8.5-17.1l17 15.8m0-15.8l-17 15.8m0-7.9h17"/><path d="M733.2 1173.1v18m-8.5-17.1l17 15.8m0-15.8l-17 15.8m0-7.9h17"/><path d="M736.2 1179.1v18m-8.5-17.1l17 15.8m0-15.8l-17 15.8m0-7.9h17"/><path d="M739.1 1177.8v18m-8.5-17.1l17 15.8m0-15.8l-17 15.8m0-7.9h17"/><path d="M742.1 1190.5v18m-8.5-17.1l17 15.8m0-15.8l-17 15.8m0-7.9h17"/><path d="M745 1200.5v18m-8.5-17.1l17 15.8m0-15.8l-17 15.8m0-7.9h17"/><path d="M748 1196.6v18m-8.5-17.1l17 15.8m0-15.8l-17 15.8m0-7.9h17"/><path d="M750.9 1208.7v18m-8.5-17.1l17 15.8m0-15.8l-17 15.8m0-7.9h17"/><path d="M753.9 1211.6v18m-8.5-17.1l17 15.8m0-15.8l-17 15.8m0-7.9h17"/><path d="M756.8 1211.2v18m-8.5-17.1l17 15.8m0-15.8l-17 15.8m0-7.9h17"/><path d="M759.8 1214v18m-8.5-17.1l17 15.8m0-15.8l-17 15.8m0-7.9h17"/><path d="M762.7 1216.7v18m-8.5-17.1l17 15.8m0-15.8l-17 15.8m0-7.9h17"/><path d="M765.7 1215.7v18m-8.5-17.1l17 15.8m0-15.8l-17 15.8m0-7.9h17"/><path d="M768.6 1219.9v18m-8.5-17.1l17 15.8m0-15.8l-17 15.8m0-7.9h17"/><path d="M771.6 1223.1v18m-8.5-17.1l17 15.8m0-15.8l-17 15.8m0-7.9h17"/><path d="M774.5 1228v18m-8.5-17.1l17 15.8m0-15.8l-17 15.8m0-7.9h17"/><path d="M777.5 1231.9v18m-8.5-17.1l17 15.8m0-15.8l-17 15.8m0-7.9h17"/><path d="M780.4 1230.3v18m-8.5-17.1l17 15.8m0-15.8l-17 15.8m0-7.9h17"/><path d="M783.4 1239.4v18m-8.5-17.1l17 15.8m0-15.8l-17 15.8m0-7.9h17"/><path d="M786.3 1237.7v18m-8.5-17.1l17 15.8m0-15.8l-17 15.8m0-7.9h17"/><path d="M789.3 1243.3v18m-8.5-17.1l17 15.8m0-15.8l-17 15.8m0-7.9h17"/><path d="M792.2 1248.1v18m-8.5-17.1l17 15.8m0-15.8l-17 15.8m0-7.9h17"/><path d="M795.2 1249.2v18m-8.5-17.1l17 15.8m0-15.8l-17 15.8m0-7.9h17"/><path d="M798.1 1251v18m-8.5-17.1l17 15.8m0-15.8l-17 15.8m0-7.9h17"/><path d="M801.1 1254.3v18m-8.5-17.1l17 15.8m0-15.8l-17 15.8m0-7.9h17"/><path d="M804 1253.4v18m-8.5-17.1l17 15.8m0-15.8l-17 15.8m0-7.9h17"/><path d="M807 1254.8v18m-8.5-17.1l17 15.8m0-15.8l-17 15.8m0-7.9h17"/><path d="M809.9 1258.1v18m-8.5-17.1l17 15.8m0-15.8l-17 15.8m0-7.9h17"/><path d="M812.9 1263.7v18m-8.5-17.1l17 15.8m0-15.8l-17 15.8m0-7.9h17"/><path d="M815.8 1261.7v18m-8.5-17.1l17 15.8m0-15.8l-17 15.8m0-7.9h17"/><path d="M818.8 1270.1v18m-8.5-17.1l17 15.8m0-15.8l-17 15.8m0-7.9h17"/><path d="M821.7 1265.8v18m-8.5-17.1l17 15.8m0-15.8l-17 15.8m0-7.9h17"/><path d="M824.7 1256.4v18m-8.5-17.1l17 15.8m0-15.8l-17 15.8m0-7.9h17"/><path d="M827.6 1266.4v18m-8.5-17.1l17 15.8m0-15.8l-17 15.8m0-7.9h17"/><path d="M830.6 1275v18m-8.5-17.1l17 15.8m0-15.8l-17 15.8m0-7.9h17"/><path d="M833.5 1270.8v18m-8.5-17.1l17 15.8m0-15.8l-17 15.8m0-7.9h17"/><path d="M836.5 1270.8v18m-8.5-17.1l17 15.8m0-15.8l-17 15.8m0-7.9h17"/><path d="M839.4 1270.8v18m-8.5-17.1l17 15.8m0-15.8l-17 15.8m0-7.9h17"/><path d="M842.4 1279.7v18m-8.5-17.1l17 15.8m0-15.8l-17 15.8m0-7.9h17"/><path d="M845.3 1280.1v18m-8.5-17.1l17 15.8m0-15.8l-17 15.8m0-7.9h17"/><path d="M848.3 1280.4v18m-8.5-17.1l17 15.8m0-15.8l-17 15.8m0-7.9h17"/><path d="M851.2 1281v18m-8.5-17.1l17 15.8m0-15.8l-17 15.8m0-7.9h17"/><path d="M854.2 1286v18m-8.5-17.1l17 15.8m0-15.8l-17 15.8m0-7.9h17"/><path d="M857.1 1285.3v18m-8.5-17.1l17 15.8m0-15.8l-17 15.8m0-7.9h17"/><path d="M860.1 1279.8v18m-8.5-17.1l17 15.8m0-15.8l-17 15.8m0-7.9h17"/><path d="M863 1288.2v18m-8.5-17.1l17 15.8m0-15.8l-17 15.8m0-7.9h17"/><path d="M866 1287.8v18m-8.5-17.1l17 15.8m0-15.8l-17 15.8m0-7.9h17"/><path d="M868.9 1288.6v18m-8.5-17.1l17 15.8m0-15.8l-17 15.8m0-7.9h17"/><path d="M871.9 1293.2v18m-8.5-17.1l17 15.8m0-15.8l-17 15.8m0-7.9h17"/><path d="M874.8 1292.2v18m-8.5-17.1l17 15.8m0-15.8l-17 15.8m0-7.9h17"/><path d="M877.8 1283.3v18m-8.5-17.1l17 15.8m0-15.8l-17 15.8m0-7.9h17"/><path d="M880.7 1299.5v18m-8.5-17.1l17 15.8m0-15.8l-17 15.8m0-7.9h17"/><path d="M883.7 1298.4v18m-8.5-17.1l17 15.8m0-15.8l-17 15.8m0-7.9h17"/><path d="M886.6 1295v18m-8.5-17.1l17 15.8m0-15.8l-17 15.8m0-7.9h17"/><path d="M889.6 1294.7v18m-8.5-17.1l17 15.8m0-15.8l-17 15.8m0-7.9h17"/><path d="M892.5 1297.1v18m-8.5-17.1l17 15.8m0-15.8l-17 15.8m0-7.9h17"/><path d="M895.5 1292.4v18m-8.5-17.1l17 15.8m0-15.8l-17 15.8m0-7.9h17"/><path d="M898.4 1298.2v18m-8.5-17.1l17 15.8m0-15.8l-17 15.8m0-7.9h17"/><path d="M901.4 1296.8v18m-8.5-17.1l17 15.8m0-15.8l-17 15.8m0-7.9h17"/><path d="M904.3 1296.8v18m-8.5-17.1l17 15.8m0-15.8l-17 15.8m0-7.9h17"/><path d="M907.3 1295.4v18m-8.5-17.1l17 15.8m0-15.8l-17 15.8m0-7.9h17"/><path d="M910.2 1296.8v18m-8.5-17.1l17 15.8m0-15.8l-17 15.8m0-7.9h17"/><path d="M913.2 1303.6v18m-8.5-17.1l17 15.8m0-15.8l-17 15.8m0-7.9h17"/><path d="M916.1 1305.2v18m-8.5-17.1l17 15.8m0-15.8l-17 15.8m0-7.9h17"/><path d="M919.1 1303.2v18m-8.5-17.1l17 15.8m0-15.8l-17 15.8m0-7.9h17"/><path d="M922 1302v18m-8.5-17.1l17 15.8m0-15.8l-17 15.8m0-7.9h17"/><path d="M925 1299.6v18m-8.5-17.1l17 15.8m0-15.8l-17 15.8m0-7.9h17"/><path d="M927.9 1305.4v18m-8.5-17.1l17 15.8m0-15.8l-17 15.8m0-7.9h17"/><path d="M930.9 1308.8v18m-8.5-17.1l17 15.8m0-15.8l-17 15.8m0-7.9h17"/><path d="M933.8 1298.2v18m-8.5-17.1l17 15.8m0-15.8l-17 15.8m0-7.9h17"/><path d="M936.8 1307.9v18m-8.5-17.1l17 15.8m0-15.8l-17 15.8m0-7.9h17"/><path d="M939.7 1296.8v18m-8.5-17.1l17 15.8m0-15.8l-17 15.8m0-7.9h17"/><path d="M942.7 1303.3v18m-8.5-17.1l17 15.8m0-15.8l-17 15.8m0-7.9h17"/><path d="M945.6 1306v18m-8.5-17.1l17 15.8m0-15.8l-17 15.8m0-7.9h17"/><path d="M948.6 1300.3v18m-8.5-17.1l17 15.8m0-15.8l-17 15.8m0-7.9h17"/><path d="M951.5 1300v18m-8.5-17.1l17 15.8m0-15.8l-17 15.8m0-7.9h17"/><path d="M954.5 1306.1v18m-8.5-17.1l17 15.8m0-15.8l-17 15.8m0-7.9h17"/><path d="M957.4 1308.7v18m-8.5-17.1l17 15.8m0-15.8l-17 15.8m0-7.9h17"/><path d="M960.4 1304.4v18m-8.5-17.1l17 15.8m0-15.8l-17 15.8m0-7.9h17"/><path d="M963.3 1310.9v18m-8.5-17.1l17 15.8m0-15.8l-17 15.8m0-7.9h17"/><path d="M966.3 1304.1v18m-8.5-17.1l17 15.8m0-15.8l-17 15.8m0-7.9h17"/><path d="M969.2 1313.1v18m-8.5-17.1l17 15.8m0-15.8l-17 15.8m0-7.9h17"/><path d="M972.2 1308v18m-8.5-17.1l17 15.8m0-15.8l-17 15.8m0-7.9h17"/><path d="M975.1 1308.8v18m-8.5-17.1l17 15.8m0-15.8l-17 15.8m0-7.9h17"/><path d="M978.1 1310.6v18m-8.5-17.1l17 15.8m0-15.8l-17 15.8m0-7.9h17"/><path d="M981 1310.1v18m-8.5-17.1l17 15.8m0-15.8l-17 15.8m0-7.9h17"/><path d="M984 1315.8v18m-8.5-17.1l17 15.8m0-15.8l-17 15.8m0-7.9h17"/><path d="M986.9 1317.6v18m-8.5-17.1l17 15.8m0-15.8l-17 15.8m0-7.9h17"/><path d="M989.9 1312.5v18m-8.5-17.1l17 15.8m0-15.8l-17 15.8m0-7.9h17"/><path d="M992.8 1310.6v18m-8.5-17.1l17 15.8m0-15.8l-17 15.8m0-7.9h17"/><path d="M995.8 1307.7v18m-8.5-17.1l17 15.8m0-15.8l-17 15.8m0-7.9h17"/><path d="M998.7 1309.6v18m-8.5-17.1l17 15.8m0-15.8l-17 15.8m0-7.9h17"/><path d="M1001.7 1312.7v18m-8.5-17.1l17 15.8m0-15.8l-17 15.8m0-7.9h17"/><path d="M1004.6 1312.8v18m-8.5-17.1l17 15.8m0-15.8l-17 15.8m0-7.9h17"/><path d="M1007.6 1313.4v18m-8.5-17.1l17 15.8m0-15.8l-17 15.8m0-7.9h17"/><path d="M1010.5 1314v18m-8.5-17.1l17 15.8m0-15.8l-17 15.8m0-7.9h17"/><path d="M1013.5 1316.2v18m-8.5-17.1l17 15.8m0-15.8l-17 15.8m0-7.9h17"/><path d="M1016.4 1310.3v18m-8.5-17.1l17 15.8m0-15.8l-17 15.8m0-7.9h17"/><path d="M1019.4 1311.9v18m-8.5-17.1l17 15.8m0-15.8l-17 15.8m0-7.9h17"/><path d="M1022.3 1319.6v18m-8.5-17.1l17 15.8m0-15.8l-17 15.8m0-7.9h17"/><path d="M1025.3 1319.1v18m-8.5-17.1l17 15.8m0-15.8l-17 15.8m0-7.9h17"/><path d="M1028.2 1314.9v18m-8.5-17.1l17 15.8m0-15.8l-17 15.8m0-7.9h17"/><path d="M1031.2 1321.5v18m-8.5-17.1l17 15.8m0-15.8l-17 15.8m0-7.9h17"/><path d="M1034.1 1315.2v18m-8.5-17.1l17 15.8m0-15.8l-17 15.8m0-7.9h17"/><path d="M1037.1 1317v18m-8.5-17.1l17 15.8m0-15.8l-17 15.8m0-7.9h17"/><path d="M1040 1312v18m-8.5-17.1l17 15.8m0-15.8l-17 15.8m0-7.9h17"/><path d="M1043 1321.5v18m-8.5-17.1l17 15.8m0-15.8l-17 15.8m0-7.9h17"/><path d="M1045.9 1318.9v18m-8.5-17.1l17 15.8m0-15.8l-17 15.8m0-7.9h17"/><path d="M1048.9 1322.8v18m-8.5-17.1l17 15.8m0-15.8l-17 15.8m0-7.9h17"/><path d="M1051.8 1321.8v18m-8.5-17.1l17 15.8m0-15.8l-17 15.8m0-7.9h17"/><path d="M1054.8 1320v18m-8.5-17.1l17 15.8m0-15.8l-17 15.8m0-7.9h17"/><path d="M1057.7 1320.4v18m-8.5-17.1l17 15.8m0-15.8l-17 15.8m0-7.9h17"/><path d="M1060.7 1324.2v18m-8.5-17.1l17 15.8m0-15.8l-17 15.8m0-7.9h17"/><path d="M1063.6 1319.8v18m-8.5-17.1l17 15.8m0-15.8l-17 15.8m0-7.9h17"/><path d="M1066.6 1320v18m-8.5-17.1l17 15.8m0-15.8l-17 15.8m0-7.9h17"/><path d="M1069.5 1320.9v18m-8.5-17.1l17 15.8m0-15.8l-17 15.8m0-7.9h17"/><path d="M1072.5 1323.6v18m-8.5-17.1l17 15.8m0-15.8l-17 15.8m0-7.9h17"/><path d="M1075.4 1324.2v18m-8.5-17.1l17 15.8m0-15.8l-17 15.8m0-7.9h17"/><path d="M1078.4 1327.8v18m-8.5-17.1l17 15.8m0-15.8l-17 15.8m0-7.9h17"/><path d="M1081.3 1321.2v18m-8.5-17.1l17 15.8m0-15.8l-17 15.8m0-7.9h17"/><path d="M1084.3 1325.9v18m-8.5-17.1l17 15.8m0-15.8l-17 15.8m0-7.9h17"/><path d="M1087.2 1319.6v18m-8.5-17.1l17 15.8m0-15.8l-17 15.8m0-7.9h17"/><path d="M1090.2 1324.1v18m-8.5-17.1l17 15.8m0-15.8l-17 15.8m0-7.9h17"/><path d="M1093.1 1322.6v18m-8.5-17.1l17 15.8m0-15.8l-17 15.8m0-7.9h17"/><path d="M1096.1 1328.3v18m-8.5-17.1l17 15.8m0-15.8l-17 15.8m0-7.9h17"/><path d="M1099 1324.7v18m-8.5-17.1l17 15.8m0-15.8l-17 15.8m0-7.9h17"/><path d="M1102 1321.3v18m-8.5-17.1l17 15.8m0-15.8l-17 15.8m0-7.9h17"/><path d="M1104.9 1325v18m-8.5-17.1l17 15.8m0-15.8l-17 15.8m0-7.9h17"/><path d="M1107.9 1324.5v18m-8.5-17.1l17 15.8m0-15.8l-17 15.8m0-7.9h17"/><path d="M1110.8 1322.4v18m-8.5-17.1l17 15.8m0-15.8l-17 15.8m0-7.9h17"/><path d="M1113.8 1322.7v18m-8.5-17.1l17 15.8m0-15.8l-17 15.8m0-7.9h17"/><path d="M1116.7 1320.7v18m-8.5-17.1l17 15.8m0-15.8l-17 15.8m0-7.9h17"/><path d="M1119.7 1333.5v18m-8.5-17.1l17 15.8m0-15.8l-17 15.8m0-7.9h17"/><path d="M1122.6 1324.8v18m-8.5-17.1l17 15.8m0-15.8l-17 15.8m0-7.9h17"/><path d="M1125.6 1327.8v18m-8.5-17.1l17 15.8m0-15.8l-17 15.8m0-7.9h17"/><path d="M1128.5 1320.7v18m-8.5-17.1l17 15.8m0-15.8l-17 15.8m0-7.9h17"/><path d="M1131.5 1321.2v18m-8.5-17.1l17 15.8m0-15.8l-17 15.8m0-7.9h17"/><path d="M1134.4 1324.5v18m-8.5-17.1l17 15.8m0-15.8l-17 15.8m0-7.9h17"/><path d="M1137.4 1324.6v18m-8.5-17.1l17 15.8m0-15.8l-17 15.8m0-7.9h17"/><path d="M1140.3 1328v18m-8.5-17.1l17 15.8m0-15.8l-17 15.8m0-7.9h17"/><path d="M1143.3 1321.9v18m-8.5-17.1l17 15.8m0-15.8l-17 15.8m0-7.9h17"/><path d="M1146.2 1327.3v18m-8.5-17.1l17 15.8m0-15.8l-17 15.8m0-7.9h17"/><path d="M1149.2 1330.7v18m-8.5-17.1l17 15.8m0-15.8l-17 15.8m0-7.9h17"/><path d="M1152.1 1322.5v18m-8.5-17.1l17 15.8m0-15.8l-17 15.8m0-7.9h17"/><path d="M1155.1 1328.8v18m-8.5-17.1l17 15.8m0-15.8l-17 15.8m0-7.9h17"/><path d="M1158 1322.5v18m-8.5-17.1l17 15.8m0-15.8l-17 15.8m0-7.9h17"/><path d="M1161 1327v18m-8.5-17.1l17 15.8m0-15.8l-17 15.8m0-7.9h17"/><path d="M1163.9 1327.2v18m-8.5-17.1l17 15.8m0-15.8l-17 15.8m0-7.9h17"/><path d="M1166.9 1331.9v18m-8.5-17.1l17 15.8m0-15.8l-17 15.8m0-7.9h17"/><path d="M1169.8 1323.8v18m-8.5-17.1l17 15.8m0-15.8l-17 15.8m0-7.9h17"/><path d="M1172.8 1326.8v18m-8.5-17.1l17 15.8m0-15.8l-17 15.8m0-7.9h17"/><path d="M1175.7 1329.9v18m-8.5-17.1l17 15.8m0-15.8l-17 15.8m0-7.9h17"/><path d="M1178.7 1322.5v18m-8.5-17.1l17 15.8m0-15.8l-17 15.8m0-7.9h17"/><path d="M1181.6 1326.6v18m-8.5-17.1l17 15.8m0-15.8l-17 15.8m0-7.9h17"/><path d="M1184.6 1323.9v18m-8.5-17.1l17 15.8m0-15.8l-17 15.8m0-7.9h17"/><path d="M1187.5 1324.6v18m-8.5-17.1l17 15.8m0-15.8l-17 15.8m0-7.9h17"/><path d="M1190.5 1329.5v18m-8.5-17.1l17 15.8m0-15.8l-17 15.8m0-7.9h17"/><path d="M1193.4 1329.8v18m-8.5-17.1l17 15.8m0-15.8l-17 15.8m0-7.9h17"/><path d="M1196.4 1336.4v18m-8.5-17.1l17 15.8m0-15.8l-17 15.8m0-7.9h17"/><path d="M1199.3 1332.5v18m-8.5-17.1l17 15.8m0-15.8l-17 15.8m0-7.9h17"/><path d="M1202.3 1332.4v18m-8.5-17.1l17 15.8m0-15.8l-17 15.8m0-7.9h17"/><path d="M1205.2 1327.6v18m-8.5-17.1l17 15.8m0-15.8l-17 15.8m0-7.9h17"/><path d="M1208.2 1327.3v18m-8.5-17.1l17 15.8m0-15.8l-17 15.8m0-7.9h17"/><path d="M1211.1 1328.9v18m-8.5-17.1l17 15.8m0-15.8l-17 15.8m0-7.9h17"/><path d="M1214.1 1320.8v18m-8.5-17.1l17 15.8m0-15.8l-17 15.8m0-7.9h17"/><path d="M1217 1334.2v18m-8.5-17.1l17 15.8m0-15.8l-17 15.8m0-7.9h17"/><path d="M1220 1326.3v18m-8.5-17.1l17 15.8m0-15.8l-17 15.8m0-7.9h17"/><path d="M1222.9 1324.9v18m-8.5-17.1l17 15.8m0-15.8l-17 15.8m0-7.9h17"/><path d="M1225.9 1326.9v18m-8.5-17.1l17 15.8m0-15.8l-17 15.8m0-7.9h17"/><path d="M1228.8 1331.4v18m-8.5-17.1l17 15.8m0-15.8l-17 15.8m0-7.9h17"/><path d="M1231.8 1332.5v18m-8.5-17.1l17 15.8m0-15.8l-17 15.8m0-7.9h17"/><path d="M1234.7 1326.9v18m-8.5-17.1l17 15.8m0-15.8l-17 15.8m0-7.9h17"/><path d="M1237.7 1329.6v18m-8.5-17.1l17 15.8m0-15.8l-17 15.8m0-7.9h17"/><path d="M1240.6 1327.8v18m-8.5-17.1l17 15.8m0-15.8l-17 15.8m0-7.9h17"/><path d="M1243.6 1324.4v18m-8.5-17.1l17 15.8m0-15.8l-17 15.8m0-7.9h17"/><path d="M1246.5 1328.2v18m-8.5-17.1l17 15.8m0-15.8l-17 15.8m0-7.9h17"/><path d="M1249.5 1327.6v18m-8.5-17.1l17 15.8m0-15.8l-17 15.8m0-7.9h17"/><path d="M1252.4 1322.1v18m-8.5-17.1l17 15.8m0-15.8l-17 15.8m0-7.9h17"/><path d="M1255.4 1331v18m-8.5-17.1l17 15.8m0-15.8l-17 15.8m0-7.9h17"/><path d="M1258.3 1321.7v18m-8.5-17.1l17 15.8m0-15.8l-17 15.8m0-7.9h17"/><path d="M1261.3 1327.7v18m-8.5-17.1l17 15.8m0-15.8l-17 15.8m0-7.9h17"/><path d="M1264.2 1323.2v18m-8.5-17.1l17 15.8m0-15.8l-17 15.8m0-7.9h17"/><path d="M1267.2 1323.9v18m-8.5-17.1l17 15.8m0-15.8l-17 15.8m0-7.9h17"/><path d="M1270.1 1324.1v18m-8.5-17.1l17 15.8m0-15.8l-17 15.8m0-7.9h17"/><path d="M1273.1 1328.8v18m-8.5-17.1l17 15.8m0-15.8l-17 15.8m0-7.9h17"/><path d="M1276 1322.1v18m-8.5-17.1l17 15.8m0-15.8l-17 15.8m0-7.9h17"/><path d="M1279 1325.6v18m-8.5-17.1l17 15.8m0-15.8l-17 15.8m0-7.9h17"/><path d="M1281.9 1331.5v18m-8.5-17.1l17 15.8m0-15.8l-17 15.8m0-7.9h17"/><path d="M1284.9 1323.8v18m-8.5-17.1l17 15.8m0-15.8l-17 15.8m0-7.9h17"/><path d="M1287.8 1326.1v18m-8.5-17.1l17 15.8m0-15.8l-17 15.8m0-7.9h17"/><path d="M1290.8 1328.4v18m-8.5-17.1l17 15.8m0-15.8l-17 15.8m0-7.9h17"/><path d="M1293.7 1324.2v18m-8.5-17.1l17 15.8m0-15.8l-17 15.8m0-7.9h17"/><path d="M1296.7 1327.8v18m-8.5-17.1l17 15.8m0-15.8l-17 15.8m0-7.9h17"/><path d="M1299.6 1323.9v18m-8.5-17.1l17 15.8m0-15.8l-17 15.8m0-7.9h17"/><path d="M1302.6 1328.5v18m-8.5-17.1l17 15.8m0-15.8l-17 15.8m0-7.9h17"/><path d="M1305.5 1326.4v18m-8.5-17.1l17 15.8m0-15.8l-17 15.8m0-7.9h17"/><path d="M1308.5 1323v18m-8.5-17.1l17 15.8m0-15.8l-17 15.8m0-7.9h17"/><path d="M1311.4 1330.9v18m-8.5-17.1l17 15.8m0-15.8l-17 15.8m0-7.9h17"/><path d="M1314.4 1325.8v18m-8.5-17.1l17 15.8m0-15.8l-17 15.8m0-7.9h17"/><path d="M1317.3 1325.2v18m-8.5-17.1l17 15.8m0-15.8l-17 15.8m0-7.9h17"/><path d="M1320.3 1323v18m-8.5-17.1l17 15.8m0-15.8l-17 15.8m0-7.9h17"/><path d="M1323.2 1324.6v18m-8.5-17.1l17 15.8m0-15.8l-17 15.8m0-7.9h17"/><path d="M1326.2 1325.8v18m-8.5-17.1l17 15.8m0-15.8l-17 15.8m0-7.9h17"/><path d="M1329.1 1326.7v18m-8.5-17.1l17 15.8m0-15.8l-17 15.8m0-7.9h17"/><path d="M1332.1 1329.9v18m-8.5-17.1l17 15.8m0-15.8l-17 15.8m0-7.9h17"/><path d="M1335 1321.7v18m-8.5-17.1l17 15.8m0-15.8l-17 15.8m0-7.9h17"/><path d="M1338 1325v18m-8.5-17.1l17 15.8m0-15.8l-17 15.8m0-7.9h17"/><path d="M1340.9 1330.2v18m-8.5-17.1l17 15.8m0-15.8l-17 15.8m0-7.9h17"/><path d="M1343.9 1326.8v18m-8.5-17.1l17 15.8m0-15.8l-17 15.8m0-7.9h17"/><path d="M1346.8 1327.5v18m-8.5-17.1l17 15.8m0-15.8l-17 15.8m0-7.9h17"/><path d="M1349.8 1331.6v18m-8.5-17.1l17 15.8m0-15.8l-17 15.8m0-7.9h17"/><path d="M1352.7 1327.3v18m-8.5-17.1l17 15.8m0-15.8l-17 15.8m0-7.9h17"/><path d="M1355.7 1327.7v18m-8.5-17.1l17 15.8m0-15.8l-17 15.8m0-7.9h17"/><path d="M1358.6 1326v18m-8.5-17.1l17 15.8m0-15.8l-17 15.8m0-7.9h17"/><path d="M1361.6 1332.2v18m-8.5-17.1l17 15.8m0-15.8l-17 15.8m0-7.9h17"/><path d="M1364.5 1329.8v18m-8.5-17.1l17 15.8m0-15.8l-17 15.8m0-7.9h17"/><path d="M1367.5 1323.9v18m-8.5-17.1l17 15.8m0-15.8l-17 15.8m0-7.9h17"/><path d="M1370.4 1328.3v18m-8.5-17.1l17 15.8m0-15.8l-17 15.8m0-7.9h17"/><path d="M1373.4 1322.7v18m-8.5-17.1l17 15.8m0-15.8l-17 15.8m0-7.9h17"/><path d="M1376.3 1330.5v18m-8.5-17.1l17 15.8m0-15.8l-17 15.8m0-7.9h17"/><path d="M1379.3 1329.2v18m-8.5-17.1l17 15.8m0-15.8l-17 15.8m0-7.9h17"/><path d="M1382.2 1326.6v18m-8.5-17.1l17 15.8m0-15.8l-17 15.8m0-7.9h17"/><path d="M1385.2 1326v18m-8.5-17.1l17 15.8m0-15.8l-17 15.8m0-7.9h17"/><path d="M1388.1 1321.4v18m-8.5-17.1l17 15.8m0-15.8l-17 15.8m0-7.9h17"/><path d="M1391.1 1330.4v18m-8.5-17.1l17 15.8m0-15.8l-17 15.8m0-7.9h17"/><path d="M1394 1327.6v18m-8.5-17.1l17 15.8m0-15.8l-17 15.8m0-7.9h17"/><path d="M1397 1327.2v18m-8.5-17.1l17 15.8m0-15.8l-17 15.8m0-7.9h17"/><path d="M1399.9 1331v18m-8.5-17.1l17 15.8m0-15.8l-17 15.8m0-7.9h17"/><path d="M1402.9 1326.5v18m-8.5-17.1l17 15.8m0-15.8l-17 15.8m0-7.9h17"/><path d="M1405.8 1327v18m-8.5-17.1l17 15.8m0-15.8l-17 15.8m0-7.9h17"/><path d="M1408.8 1326.9v18m-8.5-17.1l17 15.8m0-15.8l-17 15.8m0-7.9h17"/><path d="M1411.7 1324.9v18m-8.5-17.1l17 15.8m0-15.8l-17 15.8m0-7.9h17"/><path d="M1414.7 1338v18m-8.5-17.1l17 15.8m0-15.8l-17 15.8m0-7.9h17"/><path d="M1417.6 1329.4v18m-8.5-17.1l17 15.8m0-15.8l-17 15.8m0-7.9h17"/><path d="M1420.6 1329.1v18m-8.5-17.1l17 15.8m0-15.8l-17 15.8m0-7.9h17"/><path d="M1423.5 1333.6v18m-8.5-17.1l17 15.8m0-15.8l-17 15.8m0-7.9h17"/><path d="M1426.5 1320.1v18m-8.5-17.1l17 15.8m0-15.8l-17 15.8m0-7.9h17"/><path d="M1429.4 1331v18m-8.5-17.1l17 15.8m0-15.8l-17 15.8m0-7.9h17"/><path d="M1432.4 1331.4v18m-8.5-17.1l17 15.8m0-15.8l-17 15.8m0-7.9h17"/><path d="M1435.3 1328.4v18m-8.5-17.1l17 15.8m0-15.8l-17 15.8m0-7.9h17"/><path d="M1438.3 1333.5v18m-8.5-17.1l17 15.8m0-15.8l-17 15.8m0-7.9h17"/><path d="M1441.2 1325.4v18m-8.5-17.1l17 15.8m0-15.8l-17 15.8m0-7.9h17"/><path d="M1444.2 1332.6v18m-8.5-17.1l17 15.8m0-15.8l-17 15.8m0-7.9h17"/><path d="M1447.1 1335.9v18m-8.5-17.1l17 15.8m0-15.8l-17 15.8m0-7.9h17"/><path d="M1450.1 1325.6v18m-8.5-17.1l17 15.8m0-15.8l-17 15.8m0-7.9h17"/><path d="M1453 1328.6v18m-8.5-17.1l17 15.8m0-15.8l-17 15.8m0-7.9h17"/><path d="M1456 1333.3v18m-8.5-17.1l17 15.8m0-15.8l-17 15.8m0-7.9h17"/><path d="M1458.9 1334.1v18m-8.5-17.1l17 15.8m0-15.8l-17 15.8m0-7.9h17"/><path d="M1461.9 1332.4v18m-8.5-17.1l17 15.8m0-15.8l-17 15.8m0-7.9h17"/><path d="M1464.8 1336.2v18m-8.5-17.1l17 15.8m0-15.8l-17 15.8m0-7.9h17"/><path d="M1467.8 1336.2v18m-8.5-17.1l17 15.8m0-15.8l-17 15.8m0-7.9h17"/><path d="M1470.7 1331.2v18m-8.5-17.1l17 15.8m0-15.8l-17 15.8m0-7.9h17"/><path d="M1473.7 1335.8v18m-8.5-17.1l17 15.8m0-15.8l-17 15.8m0-7.9h17"/><path d="M1476.6 1332.2v18m-8.5-17.1l17 15.8m0-15.8l-17 15.8m0-7.9h17"/><path d="M1479.6 1329.8v18m-8.5-17.1l17 15.8m0-15.8l-17 15.8m0-7.9h17"/><path d="M1482.5 1329v18m-8.5-17.1l17 15.8m0-15.8l-17 15.8m0-7.9h17"/><path d="M1485.5 1341v18m-8.5-17.1l17 15.8m0-15.8l-17 15.8m0-7.9h17"/><path d="M1488.4 1337.3v18m-8.5-17.1l17 15.8m0-15.8l-17 15.8m0-7.9h17"/><path d="M1491.4 1344.7v18m-8.5-17.1l17 15.8m0-15.8l-17 15.8m0-7.9h17"/><path d="M1494.3 1333.2v18m-8.5-17.1l17 15.8m0-15.8l-17 15.8m0-7.9h17"/><path d="M1497.3 1337.1v18m-8.5-17.1l17 15.8m0-15.8l-17 15.8m0-7.9h17"/><path d="M1500.2 1339.6v18m-8.5-17.1l17 15.8m0-15.8l-17 15.8m0-7.9h17"/><path d="M1503.2 1338v18m-8.5-17.1l17 15.8m0-15.8l-17 15.8m0-7.9h17"/><path d="M1506.1 1340.2v18m-8.5-17.1l17 15.8m0-15.8l-17 15.8m0-7.9h17"/><path d="M1509.1 1339.1v18m-8.5-17.1l17 15.8m0-15.8l-17 15.8m0-7.9h17"/><path d="M1512 1336.5v18m-8.5-17.1l17 15.8m0-15.8l-17 15.8m0-7.9h17"/><path d="M1515 1330.8v18m-8.5-17.1l17 15.8m0-15.8l-17 15.8m0-7.9h17"/><path d="M1517.9 1335.5v18m-8.5-17.1l17 15.8m0-15.8l-17 15.8m0-7.9h17"/><path d="M1520.9 1344.6v18m-8.5-17.1l17 15.8m0-15.8l-17 15.8m0-7.9h17"/><path d="M1523.8 1341.4v18m-8.5-17.1l17 15.8m0-15.8l-17 15.8m0-7.9h17"/><path d="M1526.8 1343.6v18m-8.5-17.1l17 15.8m0-15.8l-17 15.8m0-7.9h17"/><path d="M1529.7 1336.9v18m-8.5-17.1l17 15.8m0-15.8l-17 15.8m0-7.9h17"/><path d="M1532.7 1338.3v18m-8.5-17.1l17 15.8m0-15.8l-17 15.8m0-7.9h17"/><path d="M1535.6 1336v18m-8.5-17.1l17 15.8m0-15.8l-17 15.8m0-7.9h17"/><path d="M1538.6 1340.4v18m-8.5-17.1l17 15.8m0-15.8l-17 15.8m0-7.9h17"/><path d="M1541.5 1339.3v18m-8.5-17.1l17 15.8m0-15.8l-17 15.8m0-7.9h17"/><path d="M1544.5 1340.7v18m-8.5-17.1l17 15.8m0-15.8l-17 15.8m0-7.9h17"/><path d="M1547.4 1345.1v18m-8.5-17.1l17 15.8m0-15.8l-17 15.8m0-7.9h17"/><path d="M1550.4 1336.3v18m-8.5-17.1l17 15.8m0-15.8l-17 15.8m0-7.9h17"/><path d="M1553.3 1341.7v18m-8.5-17.1l17 15.8m0-15.8l-17 15.8m0-7.9h17"/><path d="M1556.3 1334.5v18m-8.5-17.1l17 15.8m0-15.8l-17 15.8m0-7.9h17"/><path d="M1559.2 1343v18m-8.5-17.1l17 15.8m0-15.8l-17 15.8m0-7.9h17"/><path d="M1562.2 1337.8v18m-8.5-17.1l17 15.8m0-15.8l-17 15.8m0-7.9h17"/><path d="M1565.1 1339.1v18m-8.5-17.1l17 15.8m0-15.8l-17 15.8m0-7.9h17"/><path d="M1568.1 1339.8v18m-8.5-17.1l17 15.8m0-15.8l-17 15.8m0-7.9h17"/><path d="M1571 1344.9v18m-8.5-17.1l17 15.8m0-15.8l-17 15.8m0-7.9h17"/><path d="M1574 1339.3v18m-8.5-17.1l17 15.8m0-15.8l-17 15.8m0-7.9h17"/><path d="M1576.9 1337.7v18m-8.5-17.1l17 15.8m0-15.8l-17 15.8m0-7.9h17"/><path d="M1579.9 1335.4v18m-8.5-17.1l17 15.8m0-15.8l-17 15.8m0-7.9h17"/><path d="M1582.8 1340.4v18m-8.5-17.1l17 15.8m0-15.8l-17 15.8m0-7.9h17"/><path d="M1585.8 1336.5v18m-8.5-17.1l17 15.8m0-15.8l-17 15.8m0-7.9h17"/><path d="M1588.7 1337.8v18m-8.5-17.1l17 15.8m0-15.8l-17 15.8m0-7.9h17"/><path d="M1591.7 1339.4v18m-8.5-17.1l17 15.8m0-15.8l-17 15.8m0-7.9h17"/><path d="M1594.6 1341.8v18m-8.5-17.1l17 15.8m0-15.8l-17 15.8m0-7.9h17"/><path d="M1597.6 1337.1v18m-8.5-17.1l17 15.8m0-15.8l-17 15.8m0-7.9h17"/><path d="M1600.5 1341.9v18m-8.5-17.1l17 15.8m0-15.8l-17 15.8m0-7.9h17"/><path d="M1603.5 1345.6v18m-8.5-17.1l17 15.8m0-15.8l-17 15.8m0-7.9h17"/><path d="M1606.4 1334.6v18m-8.5-17.1l17 15.8m0-15.8l-17 15.8m0-7.9h17"/><path d="M1609.4 1344.3v18m-8.5-17.1l17 15.8m0-15.8l-17 15.8m0-7.9h17"/><path d="M1612.3 1347.1v18m-8.5-17.1l17 15.8m0-15.8l-17 15.8m0-7.9h17"/><path d="M1615.3 1337.8v18m-8.5-17.1l17 15.8m0-15.8l-17 15.8m0-7.9h17"/><path d="M1618.2 1341.9v18m-8.5-17.1l17 15.8m0-15.8l-17 15.8m0-7.9h17"/><path d="M1621.2 1335.2v18m-8.5-17.1l17 15.8m0-15.8l-17 15.8m0-7.9h17"/><path d="M1624.1 1341v18m-8.5-17.1l17 15.8m0-15.8l-17 15.8m0-7.9h17"/><path d="M1627.1 1338.8v18m-8.5-17.1l17 15.8m0-15.8l-17 15.8m0-7.9h17"/><path d="M1630 1341v18m-8.5-17.1l17 15.8m0-15.8l-17 15.8m0-7.9h17"/><path d="M1633 1336.9v18m-8.5-17.1l17 15.8m0-15.8l-17 15.8m0-7.9h17"/><path d="M1635.9 1337.2v18m-8.5-17.1l17 15.8m0-15.8l-17 15.8m0-7.9h17"/><path d="M1638.9 1338.5v18m-8.5-17.1l17 15.8m0-15.8l-17 15.8m0-7.9h17"/><path d="M1641.8 1337.7v18m-8.5-17.1l17 15.8m0-15.8l-17 15.8m0-7.9h17"/><path d="M1644.8 1338v18m-8.5-17.1l17 15.8m0-15.8l-17 15.8m0-7.9h17"/><path d="M1647.7 1339.5v18m-8.5-17.1l17 15.8m0-15.8l-17 15.8m0-7.9h17"/><path d="M1650.7 1336.4v18m-8.5-17.1l17 15.8m0-15.8l-17 15.8m0-7.9h17"/><path d="M1653.6 1339.7v18m-8.5-17.1l17 15.8m0-15.8l-17 15.8m0-7.9h17"/><path d="M1656.6 1341.9v18m-8.5-17.1l17 15.8m0-15.8l-17 15.8m0-7.9h17"/><path d="M1659.5 1332.4v18m-8.5-17.1l17 15.8m0-15.8l-17 15.8m0-7.9h17"/><path d="M1662.5 1341v18m-8.5-17.1l17 15.8m0-15.8l-17 15.8m0-7.9h17"/><path d="M1665.4 1337.8v18m-8.5-17.1l17 15.8m0-15.8l-17 15.8m0-7.9h17"/><path d="M1668.4 1336.6v18m-8.5-17.1l17 15.8m0-15.8l-17 15.8m0-7.9h17"/><path d="M1671.3 1335.8v18m-8.5-17.1l17 15.8m0-15.8l-17 15.8m0-7.9h17"/><path d="M1674.3 1337.5v18m-8.5-17.1l17 15.8m0-15.8l-17 15.8m0-7.9h17"/><path d="M1677.2 1337.9v18m-8.5-17.1l17 15.8m0-15.8l-17 15.8m0-7.9h17"/><path d="M1680.2 1341.6v18m-8.5-17.1l17 15.8m0-15.8l-17 15.8m0-7.9h17"/><path d="M1683.1 1336.2v18m-8.5-17.1l17 15.8m0-15.8l-17 15.8m0-7.9h17"/><path d="M1686.1 1344.1v18m-8.5-17.1l17 15.8m0-15.8l-17 15.8m0-7.9h17"/><path d="M1689 1337.8v18m-8.5-17.1l17 15.8m0-15.8l-17 15.8m0-7.9h17"/><path d="M1692 1342.9v18m-8.5-17.1l17 15.8m0-15.8l-17 15.8m0-7.9h17"/><path d="M1694.9 1344.3v18m-8.5-17.1l17 15.8m0-15.8l-17 15.8m0-7.9h17"/><path d="M1697.9 1336.5v18m-8.5-17.1l17 15.8m0-15.8l-17 15.8m0-7.9h17"/><path d="M1700.8 1344.4v18m-8.5-17.1l17 15.8m0-15.8l-17 15.8m0-7.9h17"/><path d="M1703.8 1348.2v18m-8.5-17.1l17 15.8m0-15.8l-17 15.8m0-7.9h17"/><path d="M1706.7 1339.4v18m-8.5-17.1l17 15.8m0-15.8l-17 15.8m0-7.9h17"/><path d="M1709.7 1342.9v18m-8.5-17.1l17 15.8m0-15.8l-17 15.8m0-7.9h17"/><path d="M1712.6 1340.6v18m-8.5-17.1l17 15.8m0-15.8l-17 15.8m0-7.9h17"/><path d="M1715.6 1341.3v18m-8.5-17.1l17 15.8m0-15.8l-17 15.8m0-7.9h17"/><path d="M1718.5 1340.5v18m-8.5-17.1l17 15.8m0-15.8l-17 15.8m0-7.9h17"/><path d="M1721.5 1339.5v18m-8.5-17.1l17 15.8m0-15.8l-17 15.8m0-7.9h17"/><path d="M1724.4 1343.7v18m-8.5-17.1l17 15.8m0-15.8l-17 15.8m0-7.9h17"/><path d="M1727.4 1344.3v18m-8.5-17.1l17 15.8m0-15.8l-17 15.8m0-7.9h17"/><path d="M1730.3 1341.3v18m-8.5-17.1l17 15.8m0-15.8l-17 15.8m0-7.9h17"/><path d="M1733.3 1346.5v18m-8.5-17.1l17 15.8m0-15.8l-17 15.8m0-7.9h17"/><path d="M1736.2 1345.1v18m-8.5-17.1l17 15.8m0-15.8l-17 15.8m0-7.9h17"/><path d="M1739.2 1343.8v18m-8.5-17.1l17 15.8m0-15.8l-17 15.8m0-7.9h17"/><path d="M1742.1 1339v18m-8.5-17.1l17 15.8m0-15.8l-17 15.8m0-7.9h17"/><path d="M1745.1 1348v18m-8.5-17.1l17 15.8m0-15.8l-17 15.8m0-7.9h17"/><path d="M1748 1346v18m-8.5-17.1l17 15.8m0-15.8l-17 15.8m0-7.9h17"/><path d="M1751 1334.2v18m-8.5-17.1l17 15.8m0-15.8l-17 15.8m0-7.9h17"/><path d="M1753.9 1337.8v18m-8.5-17.1l17 15.8m0-15.8l-17 15.8m0-7.9h17"/><path d="M1756.9 1340v18m-8.5-17.1l17 15.8m0-15.8l-17 15.8m0-7.9h17"/><path d="M1759.8 1344.8v18m-8.5-17.1l17 15.8m0-15.8l-17 15.8m0-7.9h17"/><path d="M1762.8 1345.9v18m-8.5-17.1l17 15.8m0-15.8l-17 15.8m0-7.9h17"/><path d="M1765.7 1340.7v18m-8.5-17.1l17 15.8m0-15.8l-17 15.8m0-7.9h17"/><path d="M1768.7 1342.5v18m-8.5-17.1l17 15.8m0-15.8l-17 15.8m0-7.9h17"/><path d="M1771.6 1344.1v18m-8.5-17.1l17 15.8m0-15.8l-17 15.8m0-7.9h17"/><path d="M1774.6 1337.4v18m-8.5-17.1l17 15.8m0-15.8l-17 15.8m0-7.9h17"/><path d="M1777.5 1343.8v18m-8.5-17.1l17 15.8m0-15.8l-17 15.8m0-7.9h17"/><path d="M1780.5 1340.7v18m-8.5-17.1l17 15.8m0-15.8l-17 15.8m0-7.9h17"/><path d="M1783.4 1342.4v18m-8.5-17.1l17 15.8m0-15.8l-17 15.8m0-7.9h17"/><path d="M1786.4 1341.6v18m-8.5-17.1l17 15.8m0-15.8l-17 15.8m0-7.9h17"/><path d="M1789.3 1337.8v18m-8.5-17.1l17 15.8m0-15.8l-17 15.8m0-7.9h17"/><path d="M1792.3 1338.5v18m-8.5-17.1l17 15.8m0-15.8l-17 15.8m0-7.9h17"/><path d="M1795.2 1342v18m-8.5-17.1l17 15.8m0-15.8l-17 15.8m0-7.9h17"/><path d="M1798.2 1342.3v18m-8.5-17.1l17 15.8m0-15.8l-17 15.8m0-7.9h17"/><path d="M1801.1 1341v18m-8.5-17.1l17 15.8m0-15.8l-17 15.8m0-7.9h17"/><path d="M1804.1 1345.5v18m-8.5-17.1l17 15.8m0-15.8l-17 15.8m0-7.9h17"/><path d="M1807 1340.7v18m-8.5-17.1l17 15.8m0-15.8l-17 15.8m0-7.9h17"/><path d="M1810 1337.8v18m-8.5-17.1l17 15.8m0-15.8l-17 15.8m0-7.9h17"/><path d="M1812.9 1340.8v18m-8.5-17.1l17 15.8m0-15.8l-17 15.8m0-7.9h17"/><path d="M1815.9 1341.3v18m-8.5-17.1l17 15.8m0-15.8l-17 15.8m0-7.9h17"/><path d="M1818.8 1341.5v18m-8.5-17.1l17 15.8m0-15.8l-17 15.8m0-7.9h17"/><path d="M1821.8 1345.9v18m-8.5-17.1l17 15.8m0-15.8l-17 15.8m0-7.9h17"/><path d="M1824.7 1343.7v18m-8.5-17.1l17 15.8m0-15.8l-17 15.8m0-7.9h17"/><path d="M1827.7 1345.6v18m-8.5-17.1l17 15.8m0-15.8l-17 15.8m0-7.9h17"/><path d="M1830.6 1344.1v18m-8.5-17.1l17 15.8m0-15.8l-17 15.8m0-7.9h17"/><path d="M1833.6 1341.4v18m-8.5-17.1l17 15.8m0-15.8l-17 15.8m0-7.9h17"/><path d="M1836.5 1345.5v18m-8.5-17.1l17 15.8m0-15.8l-17 15.8m0-7.9h17"/><path d="M1839.5 1341.1v18m-8.5-17.1l17 15.8m0-15.8l-17 15.8m0-7.9h17"/><path d="M1842.4 1342.9v18m-8.5-17.1l17 15.8m0-15.8l-17 15.8m0-7.9h17"/><path d="M1845.4 1338.6v18m-8.5-17.1l17 15.8m0-15.8l-17 15.8m0-7.9h17"/><path d="M1848.3 1342.4v18m-8.5-17.1l17 15.8m0-15.8l-17 15.8m0-7.9h17"/><path d="M1851.3 1340.9v18m-8.5-17.1l17 15.8m0-15.8l-17 15.8m0-7.9h17"/><path d="M1854.2 1343.3v18m-8.5-17.1l17 15.8m0-15.8l-17 15.8m0-7.9h17"/><path d="M1857.2 1348.2v18m-8.5-17.1l17 15.8m0-15.8l-17 15.8m0-7.9h17"/><path d="M1860.1 1350.1v18m-8.5-17.1l17 15.8m0-15.8l-17 15.8m0-7.9h17"/><path d="M1863.1 1345.5v18m-8.5-17.1l17 15.8m0-15.8l-17 15.8m0-7.9h17"/><path d="M1866 1341.9v18m-8.5-17.1l17 15.8m0-15.8l-17 15.8m0-7.9h17"/><path d="M1869 1344.8v18m-8.5-17.1l17 15.8m0-15.8l-17 15.8m0-7.9h17"/><path d="M1871.9 1342.8v18m-8.5-17.1l17 15.8m0-15.8l-17 15.8m0-7.9h17"/><path d="M1874.9 1339.9v18m-8.5-17.1l17 15.8m0-15.8l-17 15.8m0-7.9h17"/><path d="M1877.8 1341.7v18m-8.5-17.1l17 15.8m0-15.8l-17 15.8m0-7.9h17"/><path d="M1880.8 1341.1v18m-8.5-17.1l17 15.8m0-15.8l-17 15.8m0-7.9h17"/><path d="M1883.7 1339.9v18m-8.5-17.1l17 15.8m0-15.8l-17 15.8m0-7.9h17"/><path d="M1886.7 1346.6v18m-8.5-17.1l17 15.8m0-15.8l-17 15.8m0-7.9h17"/><path d="M1889.6 1340v18m-8.5-17.1l17 15.8m0-15.8l-17 15.8m0-7.9h17"/><path d="M1892.6 1340.2v18m-8.5-17.1l17 15.8m0-15.8l-17 15.8m0-7.9h17"/><path d="M1895.5 1344.2v18m-8.5-17.1l17 15.8m0-15.8l-17 15.8m0-7.9h17"/><path d="M1898.5 1339.5v18m-8.5-17.1l17 15.8m0-15.8l-17 15.8m0-7.9h17"/><path d="M1901.4 1337.9v18m-8.5-17.1l17 15.8m0-15.8l-17 15.8m0-7.9h17"/><path d="M1904.4 1338.9v18m-8.5-17.1l17 15.8m0-15.8l-17 15.8m0-7.9h17"/><path d="M1907.3 1343.4v18m-8.5-17.1l17 15.8m0-15.8l-17 15.8m0-7.9h17"/><path d="M1910.3 1343v18m-8.5-17.1l17 15.8m0-15.8l-17 15.8m0-7.9h17"/><path d="M1913.2 1342.7v18m-8.5-17.1l17 15.8m0-15.8l-17 15.8m0-7.9h17"/><path d="M1916.2 1340.1v18m-8.5-17.1l17 15.8m0-15.8l-17 15.8m0-7.9h17"/><path d="M1919.1 1338.5v18m-8.5-17.1l17 15.8m0-15.8l-17 15.8m0-7.9h17"/><path d="M1922.1 1344.7v18m-8.5-17.1l17 15.8m0-15.8l-17 15.8m0-7.9h17"/><path d="M1925 1336.6v18m-8.5-17.1l17 15.8m0-15.8l-17 15.8m0-7.9h17"/><path d="M1928 1340.8v18m-8.5-17.1l17 15.8m0-15.8l-17 15.8m0-7.9h17"/><path d="M1930.9 1337v18m-8.5-17.1l17 15.8m0-15.8l-17 15.8m0-7.9h17"/><path d="M1933.9 1340.1v18m-8.5-17.1l17 15.8m0-15.8l-17 15.8m0-7.9h17"/><path d="M1936.8 1340.9v18m-8.5-17.1l17 15.8m0-15.8l-17 15.8m0-7.9h17"/><path d="M1939.8 1345.5v18m-8.5-17.1l17 15.8m0-15.8l-17 15.8m0-7.9h17"/><path d="M1942.7 1331.6v18m-8.5-17.1l17 15.8m0-15.8l-17 15.8m0-7.9h17"/><path d="M1945.7 1345.9v18m-8.5-17.1l17 15.8m0-15.8l-17 15.8m0-7.9h17"/><path d="M1948.6 1338.2v18m-8.5-17.1l17 15.8m0-15.8l-17 15.8m0-7.9h17"/><path d="M1951.6 1342.2v18m-8.5-17.1l17 15.8m0-15.8l-17 15.8m0-7.9h17"/><path d="M1954.5 1343.9v18m-8.5-17.1l17 15.8m0-15.8l-17 15.8m0-7.9h17"/><path d="M1957.5 1338.5v18m-8.5-17.1l17 15.8m0-15.8l-17 15.8m0-7.9h17"/><path d="M1960.4 1340.8v18m-8.5-17.1l17 15.8m0-15.8l-17 15.8m0-7.9h17"/><path d="M1963.4 1342.7v18m-8.5-17.1l17 15.8m0-15.8l-17 15.8m0-7.9h17"/><path d="M1966.3 1340.5v18m-8.5-17.1l17 15.8m0-15.8l-17 15.8m0-7.9h17"/><path d="M1969.3 1338.4v18m-8.5-17.1l17 15.8m0-15.8l-17 15.8m0-7.9h17"/><path d="M1972.2 1341.4v18m-8.5-17.1l17 15.8m0-15.8l-17 15.8m0-7.9h17"/><path d="M1975.2 1341.1v18m-8.5-17.1l17 15.8m0-15.8l-17 15.8m0-7.9h17"/><path d="M1978.1 1335.5v18m-8.5-17.1l17 15.8m0-15.8l-17 15.8m0-7.9h17"/><path d="M1981.1 1345.1v18m-8.5-17.1l17 15.8m0-15.8l-17 15.8m0-7.9h17"/><path d="M1984 1341.1v18m-8.5-17.1l17 15.8m0-15.8l-17 15.8m0-7.9h17"/><path d="M1987 1332v18m-8.5-17.1l17 15.8m0-15.8l-17 15.8m0-7.9h17"/><path d="M1989.9 1337.3v18m-8.5-17.1l17 15.8m0-15.8l-17 15.8m0-7.9h17"/><path d="M1992.9 1345.8v18m-8.5-17.1l17 15.8m0-15.8l-17 15.8m0-7.9h17"/><path d="M1995.8 1345.2v18m-8.5-17.1l17 15.8m0-15.8l-17 15.8m0-7.9h17"/><path d="M1998.8 1340.6v18m-8.5-17.1l17 15.8m0-15.8l-17 15.8m0-7.9h17"/><path d="M2001.7 1333.8v18m-8.5-17.1l17 15.8m0-15.8l-17 15.8m0-7.9h17"/><path d="M2004.7 1338.6v18m-8.5-17.1l17 15.8m0-15.8l-17 15.8m0-7.9h17"/><path d="M2007.6 1342.9v18m-8.5-17.1l17 15.8m0-15.8l-17 15.8m0-7.9h17"/><path d="M2010.6 1340.6v18m-8.5-17.1l17 15.8m0-15.8l-17 15.8m0-7.9h17"/><path d="M2013.5 1338v18m-8.5-17.1l17 15.8m0-15.8l-17 15.8m0-7.9h17"/><path d="M2016.5 1336.5v18m-8.5-17.1l17 15.8m0-15.8l-17 15.8m0-7.9h17"/><path d="M2019.4 1341.7v18m-8.5-17.1l17 15.8m0-15.8l-17 15.8m0-7.9h17"/><path d="M2022.4 1338.1v18m-8.5-17.1l17 15.8m0-15.8l-17 15.8m0-7.9h17"/><path d="M2025.3 1339.8v18m-8.5-17.1l17 15.8m0-15.8l-17 15.8m0-7.9h17"/><path d="M2028.3 1340.3v18m-8.5-17.1l17 15.8m0-15.8l-17 15.8m0-7.9h17"/><path d="M2031.2 1344.1v18m-8.5-17.1l17 15.8m0-15.8l-17 15.8m0-7.9h17"/><path d="M2034.2 1339v18m-8.5-17.1l17 15.8m0-15.8l-17 15.8m0-7.9h17"/><path d="M2037.1 1339.1v18m-8.5-17.1l17 15.8m0-15.8l-17 15.8m0-7.9h17"/><path d="M2040.1 1332.1v18m-8.5-17.1l17 15.8m0-15.8l-17 15.8m0-7.9h17"/><path d="M2043 1341.8v18m-8.5-17.1l17 15.8m0-15.8l-17 15.8m0-7.9h17"/><path d="M2046 1341v18m-8.5-17.1l17 15.8m0-15.8l-17 15.8m0-7.9h17"/><path d="M2048.9 1337.8v18m-8.5-17.1l17 15.8m0-15.8l-17 15.8m0-7.9h17"/><path d="M2051.9 1330v18m-8.5-17.1l17 15.8m0-15.8l-17 15.8m0-7.9h17"/><path d="M2054.8 1335.7v18m-8.5-17.1l17 15.8m0-15.8l-17 15.8m0-7.9h17"/><path d="M2057.8 1337.8v18m-8.5-17.1l17 15.8m0-15.8l-17 15.8m0-7.9h17"/><path d="M2060.7 1344.6v18m-8.5-17.1l17 15.8m0-15.8l-17 15.8m0-7.9h17"/><path d="M2063.7 1339.4v18m-8.5-17.1l17 15.8m0-15.8l-17 15.8m0-7.9h17"/><path d="M2066.6 1340v18m-8.5-17.1l17 15.8m0-15.8l-17 15.8m0-7.9h17"/><path d="M2069.6 1339.9v18m-8.5-17.1l17 15.8m0-15.8l-17 15.8m0-7.9h17"/></g>
<path d="M326 1379.6L327 1379.6L328 1379.5L329 1379.4L330 1379.2L331 1379L332 1378.9L333 1378.8L334 1378.7L335 1378.6L336 1378.6L337 1378.6L338 1378.5L339 1378.3L340 1378.1L341 1377.8L342 1377.4L343 1376.8L344 1376.2L345 1375.5L346 1374.8L347 1374.1L348 1373.5L349 1373L350 1372.7L351 1372.6L352 1372.6L353 1372.8L354 1373.1L355 1373.5L356 1374L357 1374.4L358 1374.7L359 1375L360 1375.2L361 1375.2L362 1375L363 1374.8L364 1374.4L365 1373.9L366 1373.4L367 1372.9L368 1372.3L369 1371.9L370 1371.6L371 1371.4L372 1371.5L373 1371.7L374 1372L375 1372.3L376 1372.5L377 1372.7L378 1372.7L379 1372.5L380 1372.2L381 1371.8L382 1371.3L383 1370.9L384 1370.5L385 1370.2L386 1370L387 1369.8L388 1369.7L389 1369.7L390 1369.7L391 1369.7L392 1369.8L393 1369.9L394 1370L395 1370.1L396 1370.2L397 1370.2L398 1370.1L399 1369.9L400 1369.6L401 1369.1L402 1368.6L403 1368L404 1367.3L405 1366.7L406 1366.1L407 1365.5L408 1365L409 1364.6L410 1364.2L411 1364L412 1363.9L413 1363.8L414 1363.8L415 1363.9L416 1363.9L417 1363.9L418 1363.8L419 1363.7L420 1363.5L421 1363.3L422 1363L423 1362.7L424 1362.4L425 1362.1L426 1361.8L427 1361.6L428 1361.4L429 1361.4L430 1361.4L431 1361.5L432 1361.7L433 1362L434 1362.3L435 1362.7L436 1363L437 1363.2L438 1363.4L439 1363.5L440 1363.4L441 1363.3L442 1363.1L443 1362.8L444 1362.5L445 1362.3L446 1362L447 1361.8L448 1361.7L449 1361.6L450 1361.5L451 1361.3L452 1361.2L453 1360.9L454 1360.7L455 1360.6L456 1360.6L457 1360.7L458 1360.9L459 1361.2L460 1361.5L461 1361.7L462 1361.7L463 1361.5L464 1361L465 1360.4L466 1359.7L467 1359L468 1358.4L469 1357.9L470 1357.5L471 1357.3L472 1357.3L473 1357.4L474 1357.7L475 1358L476 1358.5L477 1359L478 1359.5L479 1360.1L480 1360.6L481 1361L482 1361.3L483 1361.5L484 1361.4L485 1361.2L486 1360.8L487 1360.3L488 1359.7L489 1359.2L490 1358.7L491 1358.2L492 1357.9L493 1357.8L494 1357.7L495 1357.8L496 1358L497 1358.1L498 1358.3L499 1358.3L500 1358.3L501 1358.2L502 1358.1L503 1357.9L504 1357.8L505 1357.6L506 1357.4L507 1357.2L508 1357L509 1356.8L510 1356.6L511 1356.5L512 1356.3L513 1356.3L514 1356.2L515 1356.2L516 1356.3L517 1356.4L518 1356.4L519 1356.6L520 1356.7L521 1356.8L522 1357L523 1357.2L524 1357.5L525 1357.8L526 1358.1L527 1358.4L528 1358.7L529 1359L530 1359.3L531 1359.4L532 1359.5L533 1359.5L534 1359.4L535 1359.4L536 1359.3L537 1359.3L538 1359.3L539 1359.4L540 1359.6L541 1359.7L542 1359.7L543 1359.7L544 1359.4L545 1359.1L546 1358.6L547 1358.1L548 1357.7L549 1357.2L550 1357L551 1357L552 1357.2L553 1357.6L554 1358.1L555 1358.7L556 1359.4L557 1359.9L558 1360.4L559 1360.7L560 1360.8L561 1360.9L562 1360.9L563 1360.8L564 1360.8L565 1360.8L566 1360.9L567 1361.2L568 1361.5L569 1362L570 1362.6L571 1363.3L572 1364L573 1364.7L574 1365.3L575 1365.9L576 1366.3L577 1366.7L578 1366.9L579 1367L580 1367.1L581 1367.1L582 1367L583 1366.8L584 1366.6L585 1366.3L586 1366L587 1365.7L588 1365.4L589 1365L590 1364.7L591 1364.5L592 1364.2L593 1364L594 1363.8L595 1363.7L596 1363.7L597 1363.7L598 1363.9L599 1364.2L600 1364.6L601 1365.1L602 1365.5L603 1366L604 1366.3L605 1366.6L606 1366.8L607 1366.9L608 1366.9L609 1366.8L610 1366.8L611 1366.7L612 1366.6L613 1366.5L614 1366.4L615 1366.2L616 1366L617 1365.8L618 1365.6L619 1365.4L620 1365.3L621 1365.3L622 1365.4L623 1365.6L624 1365.9L625 1366.2L626 1366.6L627 1367L628 1367.2L629 1367.4L630 1367.4L631 1367.4L632 1367.3L633 1367.2L634 1367.3L635 1367.4L636 1367.7L637 1368L638 1368.4L639 1368.7L640 1369L641 1369.1L642 1369.1L643 1369.2L644 1369.2L645 1369.2L646 1369.2L647 1369.2L648 1369.3L649 1369.2L650 1369.2L651 1369.2L652 1369.3L653 1369.4L654 1369.7L655 1370L656 1370.4L657 1370.8L658 1371.1L659 1371.3L660 1371.5L661 1371.4L662 1371.3L663 1371.1L664 1370.7L665 1370.2L666 1369.7L667 1369.2L668 1368.6L669 1368.2L670 1367.9L671 1367.9L672 1367.9L673 1368.2L674 1368.5L675 1368.9L676 1369.3L677 1369.7L678 1370L679 1370.4L680 1370.7L681 1370.9L682 1371.1L683 1371.1L684 1371L685 1370.9L686 1370.7L687 1370.5L688 1370.4L689 1370.3L690 1370.3L691 1370.3L692 1370.5L693 1370.6L694 1370.8L695 1371.1L696 1371.4L697 1371.6L698 1371.9L699 1372.1L700 1372.3L701 1372.5L702 1372.6L703 1372.6L704 1372.6L705 1372.6L706 1372.4L707 1372.2L708 1372L709 1371.7L710 1371.5L711 1371.3L712 1371.1L713 1371.1L714 1371L715 1371.1L716 1371.2L717 1371.5L718 1371.8L719 1372.1L720 1372.5L721 1372.9L722 1373.2L723 1373.4L724 1373.5L725 1373.5L726 1373.4L727 1373.3L728 1373.2L729 1373.1L730 1373.2L731 1373.4L732 1373.7L733 1374L734 1374.4L735 1374.7L736 1375L737 1375.1L738 1375L739 1374.8L740 1374.4L741 1373.9L742 1373.3L743 1372.7L744 1372.1L745 1371.6L746 1371.2L747 1370.9L748 1370.9L749 1370.9L750 1371.2L751 1371.5L752 1372L753 1372.5L754 1372.9L755 1373.2L756 1373.4L757 1373.5L758 1373.4L759 1373.3L760 1373.1L761 1372.9L762 1372.7L763 1372.5L764 1372.4L765 1372.3L766 1372.3L767 1372.5L768 1372.7L769 1373L770 1373.3L771 1373.7L772 1374.1L773 1374.4L774 1374.7L775 1374.9L776 1375.1L777 1375.2L778 1375.3L779 1375.4L780 1375.3L781 1375.2L782 1375.1L783 1374.9L784 1374.8L785 1374.7L786 1374.7L787 1374.7L788 1374.7L789 1374.7L790 1374.8L791 1374.8L792 1374.9L793 1375.1L794 1375.2L795 1375.4L796 1375.5L797 1375.6L798 1375.6L799 1375.6L800 1375.4L801 1375.2L802 1374.9L803 1374.6L804 1374.2L805 1373.8L806 1373.4L807 1373.1L808 1372.9L809 1372.7L810 1372.7L811 1372.8L812 1373L813 1373.2L814 1373.5L815 1373.9L816 1374.2L817 1374.4L818 1374.7L819 1374.8L820 1374.9L821 1374.9L822 1374.9L823 1374.8L824 1374.6L825 1374.5L826 1374.3L827 1374.3L828 1374.3L829 1374.5L830 1374.8L831 1375.2L832 1375.5L833 1375.9L834 1376.2L835 1376.4L836 1376.6L837 1376.6L838 1376.5L839 1376.4L840 1376.3L841 1376.1L842 1376L843 1375.9L844 1375.9L845 1375.9L846 1375.9L847 1375.9L848 1375.9L849 1375.8L850 1375.6L851 1375.5L852 1375.3L853 1375.2L854 1375.1L855 1375L856 1375L857 1375L858 1375L859 1375.1L860 1375.1L861 1375.2L862 1375.3L863 1375.3L864 1375.4L865 1375.5L866 1375.5L867 1375.7L868 1375.9L869 1376.1L870 1376.5L871 1376.9L872 1377.2L873 1377.5L874 1377.7L875 1377.8L876 1377.8L877 1377.7L878 1377.6L879 1377.4L880 1377.1L881 1376.9L882 1376.5L883 1376.1L884 1375.7L885 1375.2L886 1374.6L887 1374.1L888 1373.6L889 1373.2L890 1373L891 1373L892 1373.2L893 1373.6L894 1374.1L895 1374.7L896 1375.3L897 1375.7L898 1376L899 1376.2L900 1376.2L901 1376.2L902 1376.1L903 1376L904 1376L905 1376L906 1376L907 1376L908 1376L909 1375.8L910 1375.6L911 1375.2L912 1374.8L913 1374.4L914 1374.1L915 1374L916 1374L917 1374.2L918 1374.6L919 1375.1L920 1375.7L921 1376.3L922 1376.8L923 1377.2L924 1377.6L925 1377.8L926 1378L927 1378.1L928 1378.3L929 1378.5L930 1378.7L931 1378.9L932 1379.2L933 1379.4L934 1379.5L935 1379.7L936 1379.7L937 1379.6L938 1379.4L939 1379.1L940 1378.7L941 1378.2L942 1377.5L943 1376.9L944 1376.3L945 1375.7L946 1375.4L947 1375.1L948 1375L949 1375L950 1375.1L951 1375.2L952 1375.4L953 1375.5L954 1375.7L955 1375.9L956 1376L957 1376.1L958 1376.2L959 1376.4L960 1376.5L961 1376.6L962 1376.7L963 1376.8L964 1376.9L965 1377L966 1377.1L967 1377.2L968 1377.2L969 1377.1L970 1376.8L971 1376.6L972 1376.3L973 1376.1L974 1375.9L975 1375.8L976 1375.7L977 1375.7L978 1375.6L979 1375.4L980 1375.2L981 1375L982 1374.9L983 1374.9L984 1375.1L985 1375.3L986 1375.5L987 1375.8L988 1375.9L989 1376.1L990 1376.1L991 1376L992 1375.9L993 1375.8L994 1375.6L995 1375.5L996 1375.2L997 1375L998 1374.9L999 1374.7L1000 1374.7L1001 1374.8L1002 1375L1003 1375.3L1004 1375.7L1005 1376.1L1006 1376.5L1007 1376.8L1008 1377L1009 1377.2L1010 1377.3L1011 1377.3L1012 1377.3L1013 1377.4L1014 1377.5L1015 1377.7L1016 1377.9L1017 1378.1L1018 1378.4L1019 1378.7L1020 1378.9L1021 1379.2L1022 1379.4L1023 1379.5L1024 1379.5L1025 1379.4L1026 1379.2L1027 1378.9L1028 1378.4L1029 1377.9L1030 1377.3L1031 1376.8L1032 1376.3L1033 1375.9L1034 1375.7L1035 1375.6L1036 1375.7L1037 1375.9L1038 1376.3L1039 1376.7L1040 1377.1L1041 1377.5L1042 1377.9L1043 1378.2L1044 1378.4L1045 1378.6L1046 1378.7L1047 1378.8L1048 1378.9L1049 1379L1050 1379.1L1051 1379.1L1052 1379.1L1053 1379L1054 1378.9L1055 1378.7L1056 1378.4L1057 1378L1058 1377.6L1059 1377.2L1060 1376.8L1061 1376.3L1062 1375.9L1063 1375.4L1064 1375.1L1065 1374.8L1066 1374.6L1067 1374.5L1068 1374.5L1069 1374.6L1070 1374.7L1071 1374.9L1072 1375.1L1073 1375.3L1074 1375.5L1075 1375.6L1076 1375.8L1077 1375.9L1078 1375.9L1079 1376L1080 1376L1081 1376L1082 1376L1083 1376L1084 1376.1L1085 1376.1L1086 1376.1L1087 1376.1L1088 1376.1L1089 1376.1L1090 1376.1L1091 1376L1092 1376L1093 1375.9L1094 1375.9L1095 1375.7L1096 1375.5L1097 1375.2L1098 1374.8L1099 1374.4L1100 1373.8L1101 1373.3L1102 1372.8L1103 1372.5L1104 1372.3L1105 1372.3L1106 1372.5L1107 1372.9L1108 1373.3L1109 1373.8L1110 1374.3L1111 1374.6L1112 1374.8L1113 1374.9L1114 1374.9L1115 1374.9L1116 1374.9L1117 1374.8L1118 1374.9L1119 1374.9L1120 1375.1L1121 1375.4L1122 1375.6L1123 1376L1124 1376.3L1125 1376.5L1126 1376.6L1127 1376.4L1128 1376.1L1129 1375.7L1130 1375.1L1131 1374.5L1132 1373.9L1133 1373.6L1134 1373.4L1135 1373.3L1136 1373.5L1137 1373.6L1138 1373.8L1139 1373.9L1140 1373.9L1141 1373.9L1142 1373.8L1143 1373.7L1144 1373.7L1145 1373.7L1146 1373.8L1147 1373.9L1148 1374L1149 1374L1150 1373.1L1151 1372.9L1152 1372.7L1153 1372.5L1154 1372.3L1155 1372.1L1156 1371.8L1157 1371.6L1158 1371.3L1159 1371.1L1160 1370.8L1161 1370.5L1162 1370.1L1163 1369.7L1164 1369.2L1165 1368.7L1166 1368.2L1167 1367.6L1168 1367L1169 1366.3L1170 1365.7L1171 1365L1172 1364.3L1173 1363.6L1174 1362.8L1175 1362.1L1176 1361.3L1177 1360.6L1178 1359.8L1179 1359L1180 1358.2L1181 1357.3L1182 1356.4L1183 1355.4L1184 1354.4L1185 1353.4L1186 1352.4L1187 1351.3L1188 1350.2L1189 1349.1L1190 1348L1191 1346.8L1192 1345.6L1193 1344.4L1194 1343.1L1195 1341.8L1196 1340.5L1197 1339.1L1198 1337.7L1199 1336.2L1200 1334.7L1201 1333.2L1202 1331.6L1203 1329.9L1204 1328.3L1205 1326.5L1206 1324.7L1207 1322.8L1208 1320.8L1209 1318.8L1210 1316.7L1211 1314.5L1212 1312.3L1213 1310.1L1214 1307.8L1215 1305.5L1216 1303.1L1217 1300.6L1218 1298L1219 1295.3L1220 1292.5L1221 1289.7L1222 1286.7L1223 1283.7L1224 1280.5L1225 1277.2L1226 1273.9L1227 1270.4L1228 1266.7L1229 1262.9L1230 1259L1231 1254.8L1232 1250.2L1233 1245.3L1234 1240.2L1235 1235L1236 1229.7L1237 1224.6L1238 1219.6L1239 1214.6L1240 1209.6L1241 1204.5L1242 1199.5L1243 1194.4L1244 1189.4L1245 1184.5L1246 1179.7L1247 1175.1L1248 1170.4L1249 1165.5L1250 1160.3L1251 1154.5L1252 1147.9L1253 1140.1L1254 1132L1255 1124.9L1256 1118.6L1257 1111.5L1258 1103.8L1259 1095.7L1260 1087.4L1261 1079L1262 1070.6L1263 1062.1L1264 1053.4L1265 1044.6L1266 1035.7L1267 1026.6L1268 1017.4L1269 1008.3L1270 999.5L1271 990.8L1272 982.2L1273 974L1274 966.2L1275 959.1L1276 952.5L1277 946.1L1278 939.9L1279 933.4L1280 926.5L1281 919L1282 910.6L1283 900.9L1284 888.6L1285 874.5L1286 859.8L1287 845.9L1288 833.6L1289 822L1290 810.9L1291 800L1292 789L1293 777.8L1294 766.2L1295 754.3L1296 742.4L1297 730.6L1298 719.1L1299 708.2L1300 697.8L1301 687.7L1302 677.8L1303 668L1304 658.2L1305 648.3L1306 638.5L1307 628.9L1308 619.4L1309 609.7L1310 599.6L1311 588.8L1312 577L1313 564.3L1314 550.7L1315 536.6L1316 522.2L1317 507.5L1318 491.6L1319 475.3L1320 460.2L1321 447.3L1322 436.4L1323 426.5L1324 417.1L1325 407.8L1326 398.1L1327 387.7L1328 377.1L1329 366.5L1330 356.5L1331 347.3L1332 339L1333 331.2L1334 323.9L1335 316.8L1336 309.8L1337 302.9L1338 296L1339 289.3L1340 282.9L1341 277L1342 271.4L1343 266.2L1344 261.3L1345 256.5L1346 252L1347 247.5L1348 243.2L1349 238.9L1350 234.7L1351 230.7L1352 226.7L1353 222.9L1354 219.2L1355 215.5L1356 211.8L1357 208.1L1358 204.5L1359 201.1L1360 197.8L1361 194.8L1362 192.1L1363 189.5L1364 187L1365 184.6L1366 182.4L1367 180.3L1368 178.6L1369 177.2L1370 176.2L1371 175.5L1372 174.8L1373 174.1L1374 173.5L1375 172.9L1376 172.5L1377 172.1L1378 171.8L1379 171.6L1380 171.5L1381 171.6L1382 172L1383 172.7L1384 173.7L1385 174.8L1386 176.1L1387 177.5L1388 178.9L1389 180.7L1390 183L1391 185.7L1392 188.7L1393 191.8L1394 194.8L1395 197.6L1396 200L1397 202.2L1398 204.1L1399 206L1400 207.8L1401 209.6L1402 211.6L1403 213.7L1404 216.1L1405 218.5L1406 220.9L1407 223.6L1408 226.4L1409 229.6L1410 233.1L1411 237.1L1412 242.2L1413 249.2L1414 256.9L1415 263.7L1416 270.1L1417 276.2L1418 282.2L1419 288L1420 293.6L1421 298.8L1422 303.6L1423 308.5L1424 313.6L1425 319.4L1426 326.2L1427 334.1L1428 342.4L1429 350.5L1430 357.7L1431 364.3L1432 370.8L1433 377L1434 383.1L1435 389L1436 394.8L1437 400.4L1438 406.1L1439 411.7L1440 417.1L1441 422.5L1442 427.7L1443 432.9L1444 437.9L1445 443L1446 448.1L1447 453.1L1448 458.3L1449 463.5L1450 468.8L1451 474.2L1452 479.5L1453 484.9L1454 490.2L1455 495.3L1456 500.3L1457 505.1L1458 509.6L1459 513.9L1460 518L1461 522L1462 525.9L1463 529.7L1464 533.4L1465 537.3L1466 541.1L1467 545.1L1468 549.3L1469 553.7L1470 558.2L1471 562.8L1472 567.6L1473 572.4L1474 577.3L1475 582.3L1476 587.3L1477 592.3L1478 597.3L1479 602.5L1480 607.8L1481 613.2L1482 618.7L1483 624.1L1484 629.4L1485 634.5L1486 639.4L1487 644L1488 648.2L1489 652.4L1490 656.4L1491 660.3L1492 664.1L1493 667.8L1494 671.3L1495 674.8L1496 678.2L1497 681.4L1498 684.6L1499 687.6L1500 690.5L1501 693.2L1502 695.8L1503 698.3L1504 700.8L1505 703.3L1506 705.8L1507 708.4L1508 711.1L1509 713.9L1510 716.9L1511 720L1512 723.2L1513 726.6L1514 729.9L1515 733.4L1516 736.8L1517 740.3L1518 743.7L1519 747.2L1520 750.6L1521 753.9L1522 757.3L1523 760.7L1524 764.2L1525 767.7L1526 771.1L1527 774.5L1528 777.8L1529 781.1L1530 784.3L1531 787.4L1532 790.4L1533 793.2L1534 796L1535 798.7L1536 801.4L1537 804L1538 806.6L1539 809.2L1540 811.7L1541 814.3L1542 816.9L1543 819.6L1544 822.2L1545 824.9L1546 827.6L1547 830.3L1548 833L1549 835.7L1550 838.3L1551 840.9L1552 843.5L1553 846L1554 848.5L1555 850.9L1556 853.3L1557 855.7L1558 858L1559 860.2L1560 862.5L1561 864.7L1562 866.9L1563 869.1L1564 871.3L1565 873.4L1566 875.6L1567 877.8L1568 880L1569 882.2L1570 884.5L1571 886.7L1572 889L1573 891.4L1574 893.7L1575 896.1L1576 898.4L1577 900.8L1578 903.2L1579 905.6L1580 908L1581 910.4L1582 912.8L1583 915.3L1584 917.7L1585 920.1L1586 922.5L1587 924.9L1588 927.4L1589 929.8L1590 932.3L1591 934.7L1592 937.2L1593 939.6L1594 942L1595 944.3L1596 946.7L1597 948.9L1598 951.2L1599 953.4L1600 955.6L1601 957.7L1602 959.9L1603 962L1604 964.1L1605 966.2L1606 968.3L1607 970.4L1608 972.4L1609 974.5L1610 976.5L1611 978.6L1612 980.6L1613 982.6L1614 984.6L1615 986.5L1616 988.5L1617 990.4L1618 992.3L1619 994.2L1620 996.1L1621 998L1622 999.9L1623 1001.8L1624 1003.7L1625 1005.7L1626 1007.7L1627 1009.7L1628 1011.7L1629 1013.8L1630 1015.9L1631 1018L1632 1020.2L1633 1022.3L1634 1024.5L1635 1026.7L1636 1028.8L1637 1031L1638 1033.2L1639 1035.3L1640 1037.5L1641 1039.6L1642 1041.7L1643 1043.9L1644 1046L1645 1048.1L1646 1050.2L1647 1052.4L1648 1054.5L1649 1056.6L1650 1058.8L1651 1060.9L1652 1063L1653 1065.1L1654 1067.3L1655 1069.5L1656 1071.6L1657 1073.8L1658 1076L1659 1078.2L1660 1080.4L1661 1082.5L1662 1084.7L1663 1086.8L1664 1088.9L1665 1091L1666 1093.1L1667 1095.1L1668 1097.1L1669 1099L1670 1101L1671 1102.8L1672 1104.7L1673 1106.6L1674 1108.4L1675 1110.2L1676 1112L1677 1113.8L1678 1115.6L1679 1117.4L1680 1119.2L1681 1121L1682 1122.8L1683 1124.6L1684 1126.5L1685 1128.4L1686 1130.3L1687 1132.2L1688 1134.1L1689 1136L1690 1137.9L1691 1139.7L1692 1141.6L1693 1143.4L1694 1145.2L1695 1147L1696 1148.7L1697 1150.4L1698 1152L1699 1153.5L1700 1155.1L1701 1156.6L1702 1158.1L1703 1159.5L1704 1161L1705 1162.4L1706 1163.8L1707 1165.2L1708 1166.6L1709 1168L1710 1169.3L1711 1170.7L1712 1172L1713 1173.4L1714 1174.8L1715 1176.1L1716 1177.5L1717 1178.8L1718 1180.1L1719 1181.4L1720 1182.7L1721 1184L1722 1185.3L1723 1186.6L1724 1187.9L1725 1189.2L1726 1190.4L1727 1191.7L1728 1193L1729 1194.2L1730 1195.5L1731 1196.8L1732 1198L1733 1199.3L1734 1200.6L1735 1201.8L1736 1203.1L1737 1204.4L1738 1205.7L1739 1206.9L1740 1208.2L1741 1209.5L1742 1210.7L1743 1212L1744 1213.3L1745 1214.5L1746 1215.7L1747 1217L1748 1218.2L1749 1219.4L1750 1220.6L1751 1221.8L1752 1223L1753 1224.1L1754 1225.3L1755 1226.4L1756 1227.5L1757 1228.7L1758 1229.8L1759 1230.9L1760 1232L1761 1233.1L1762 1234.2L1763 1235.3L1764 1236.3L1765 1237.4L1766 1238.5L1767 1239.6L1768 1240.7L1769 1241.7L1770 1242.8L1771 1243.9L1772 1245L1773 1246.1L1774 1247.2L1775 1248.3L1776 1249.5L1777 1250.6L1778 1251.7L1779 1252.9L1780 1254L1781 1255.1L1782 1256.2L1783 1257.3L1784 1258.4L1785 1259.5L1786 1260.5L1787 1261.5L1788 1262.5L1789 1263.5L1790 1264.4L1791 1265.3L1792 1266.2L1793 1267.1L1794 1268L1795 1268.8L1796 1269.6L1797 1270.5L1798 1271.3L1799 1272.1L1800 1272.8L1801 1273.6L1802 1274.4L1803 1275.1L1804 1275.9L1805 1276.6L1806 1277.3L1807 1278L1808 1278.8L1809 1279.5L1810 1280.2L1811 1280.9L1812 1281.5L1813 1282.2L1814 1282.9L1815 1283.6L1816 1284.3L1817 1284.9L1818 1285.6L1819 1286.2L1820 1286.9L1821 1287.5L1822 1288.1L1823 1288.8L1824 1289.4L1825 1290L1826 1290.6L1827 1291.2L1828 1291.8L1829 1292.4L1830 1293L1831 1293.6L1832 1294.1L1833 1294.7L1834 1295.3L1835 1295.8L1836 1296.4L1837 1296.9L1838 1297.4L1839 1298L1840 1298.5L1841 1299L1842 1299.5L1843 1300L1844 1300.5L1845 1301L1846 1301.5L1847 1302L1848 1302.5L1849 1303L1850 1303.4L1851 1303.9L1852 1304.4L1853 1304.9L1854 1305.4L1855 1305.8L1856 1306.3L1857 1306.8L1858 1307.3L1859 1307.8L1860 1308.3L1861 1308.8L1862 1309.2L1863 1309.7L1864 1310.2L1865 1310.7L1866 1311.2L1867 1311.7L1868 1312.2L1869 1312.7L1870 1313.2L1871 1313.7L1872 1314.1L1873 1314.6L1874 1315.1L1875 1315.5L1876 1316L1877 1316.4L1878 1316.9L1879 1317.3L1880 1317.7L1881 1318.1L1882 1318.5L1883 1318.9L1884 1319.3L1885 1319.7L1886 1320L1887 1320.4L1888 1320.8L1889 1321.1L1890 1321.4L1891 1321.8L1892 1322.1L1893 1322.4L1894 1322.8L1895 1323.1L1896 1323.4L1897 1323.7L1898 1324L1899 1324.4L1900 1324.7L1901 1325L1902 1325.3L1903 1325.6L1904 1325.9L1905 1326.3L1906 1326.6L1907 1326.9L1908 1327.2L1909 1327.6L1910 1327.9L1911 1328.2L1912 1328.6L1913 1328.9L1914 1329.3L1915 1329.6L1916 1329.9L1917 1330.3L1918 1330.6L1919 1331L1920 1331.3L1921 1331.7L1922 1332L1923 1332.3L1924 1332.7L1925 1333L1926 1333.3L1927 1333.7L1928 1334L1929 1334.3L1930 1334.7L1931 1335L1932 1335.3L1933 1335.6L1934 1335.9L1935 1336.2L1936 1336.5L1937 1336.8L1938 1337.1L1939 1337.4L1940 1337.6L1941 1337.9L1942 1338.2L1943 1338.5L1944 1338.7L1945 1339L1946 1339.3L1947 1339.5L1948 1339.8L1949 1340L1950 1340.3L1951 1340.6L1952 1340.8L1953 1341.1L1954 1341.3L1955 1341.6L1956 1341.9L1957 1342.1L1958 1342.4L1959 1342.6L1960 1342.9L1961 1343.2L1962 1343.4L1963 1343.7L1964 1344L1965 1344.2L1966 1344.5L1967 1344.8L1968 1345L1969 1345.3L1970 1345.6L1971 1345.8L1972 1346.1L1973 1346.3L1974 1346.6L1975 1346.9L1976 1347.1L1977 1347.4L1978 1347.7L1979 1347.9L1980 1348.2L1981 1348.5L1982 1348.7L1983 1349L1984 1349.2L1985 1349.5L1986 1349.8L1987 1350L1988 1350.3L1989 1350.6L1990 1350.9L1991 1351.1L1992 1351.4L1993 1351.7L1994 1352L1995 1352.2L1996 1352.5L1997 1352.8L1998 1353.1L1999 1353.4L2000 1353.7L2001 1353.9L2002 1354.2L2003 1354.5L2004 1354.8L2005 1355L2006 1355.3L2007 1355.6L2008 1355.8L2009 1356.1L2010 1356.3L2011 1356.6L2012 1356.8L2013 1357L2014 1357.3L2015 1357.5L2016 1357.7L2017 1357.9L2018 1358.2L2019 1358.4L2020 1358.6L2021 1358.8L2022 1359L2023 1359.2L2024 1359.4L2025 1359.6L2026 1359.8L2027 1360L2028 1360.2L2029 1360.4L2030 1360.6L2031 1360.8L2032 1361L2033 1361.2L2034 1361.4L2035 1361.6L2036 1361.7L2037 1361.9L2038 1362.1L2039 1362.2L2040 1362.4L2041 1362.6L2042 1362.7L2043 1362.9L2044 1363L2045 1363.2L2046 1363.3L2047 1363.5L2048 1363.7L2049 1363.8L2050 1364L2051 1364.1L2052 1364.2L2053 1364.4L2054 1364.5L2055 1364.7L2056 1364.8L2057 1364.9L2058 1365.1L2059 1365.2L2060 1365.3L2061 1365.5L2062 1365.6L2063 1365.7L2064 1365.8L2065 1365.9L2066 1366.1L2067 1366.2L2068 1366.3L2069 1366.4L2070 1366.5" fill="none" stroke="#000" stroke-width="8" stroke-linecap="round" stroke-linejoin="round"/>
<path d="M326 1379.8L327 1379.9L328 1379.8L329 1379.6L330 1379.3L331 1378.9L332 1378.6L333 1378.3L334 1378.1L335 1378.1L336 1378.1L337 1378.3L338 1378.6L339 1378.9L340 1379.3L341 1379.5L342 1379.7L343 1379.7L344 1379.6L345 1379.3L346 1378.9L347 1378.4L348 1377.9L349 1377.4L350 1376.9L351 1376.6L352 1376.3L353 1376.1L354 1376L355 1375.9L356 1375.9L357 1375.9L358 1376.1L359 1376.3L360 1376.6L361 1377L362 1377.4L363 1377.9L364 1378.2L365 1378.5L366 1378.7L367 1378.6L368 1378.5L369 1378.3L370 1378L371 1377.7L372 1377.5L373 1377.5L374 1377.6L375 1378L376 1378.5L377 1379.1L378 1379.7L379 1380.4L380 1380.9L381 1381.3L382 1381.5L383 1381.3L384 1380.9L385 1380.3L386 1379.4L387 1378.4L388 1377.3L389 1376.3L390 1375.4L391 1374.8L392 1374.3L393 1374L394 1374L395 1374.2L396 1374.5L397 1374.9L398 1375.3L399 1375.7L400 1376L401 1376.2L402 1376.3L403 1376.4L404 1376.4L405 1376.4L406 1376.3L407 1376.2L408 1376L409 1375.8L410 1375.5L411 1375.1L412 1374.8L413 1374.5L414 1374.3L415 1374.1L416 1373.9L417 1373.7L418 1373.5L419 1373.2L420 1372.9L421 1372.5L422 1372L423 1371.5L424 1371.1L425 1370.7L426 1370.5L427 1370.4L428 1370.5L429 1370.8L430 1371.1L431 1371.6L432 1372L433 1372.5L434 1372.8L435 1373.1L436 1373.3L437 1373.4L438 1373.4L439 1373.3L440 1373.2L441 1373L442 1372.8L443 1372.6L444 1372.3L445 1372L446 1371.7L447 1371.5L448 1371.2L449 1371L450 1370.9L451 1370.7L452 1370.6L453 1370.4L454 1370.1L455 1370L456 1369.8L457 1369.7L458 1369.7L459 1369.8L460 1369.9L461 1370L462 1370.1L463 1370.1L464 1370.1L465 1369.9L466 1369.6L467 1369.3L468 1368.9L469 1368.7L470 1368.5L471 1368.5L472 1368.7L473 1369L474 1369.4L475 1369.9L476 1370.3L477 1370.6L478 1370.7L479 1370.7L480 1370.5L481 1370.2L482 1369.9L483 1369.5L484 1369.1L485 1368.8L486 1368.6L487 1368.5L488 1368.5L489 1368.6L490 1368.8L491 1369.1L492 1369.5L493 1369.9L494 1370.2L495 1370.4L496 1370.4L497 1370.2L498 1369.8L499 1369.2L500 1368.5L501 1367.7L502 1367.1L503 1366.6L504 1366.3L505 1366.2L506 1366.4L507 1366.7L508 1367.2L509 1367.8L510 1368.4L511 1369L512 1369.5L513 1369.9L514 1370.2L515 1370.4L516 1370.5L517 1370.4L518 1370.2L519 1369.8L520 1369.4L521 1369L522 1368.5L523 1368.1L524 1367.7L525 1367.4L526 1367.3L527 1367.3L528 1367.4L529 1367.6L530 1367.9L531 1368.2L532 1368.5L533 1368.7L534 1369L535 1369.3L536 1369.5L537 1369.8L538 1370.2L539 1370.5L540 1370.8L541 1371L542 1371.2L543 1371.4L544 1371.5L545 1371.4L546 1371.4L547 1371.3L548 1371.2L549 1371.1L550 1371.1L551 1371.1L552 1371.2L553 1371.4L554 1371.5L555 1371.6L556 1371.7L557 1371.6L558 1371.5L559 1371.2L560 1370.8L561 1370.3L562 1369.7L563 1369.1L564 1368.6L565 1368.2L566 1367.9L567 1367.7L568 1367.7L569 1367.9L570 1368.2L571 1368.5L572 1368.9L573 1369.4L574 1369.8L575 1370.4L576 1370.9L577 1371.5L578 1372.1L579 1372.6L580 1372.9L581 1373.1L582 1373.1L583 1373L584 1372.8L585 1372.5L586 1372.3L587 1372.1L588 1372L589 1371.9L590 1371.8L591 1371.6L592 1371.4L593 1371.1L594 1370.8L595 1370.5L596 1370.1L597 1369.9L598 1369.8L599 1369.8L600 1370L601 1370.3L602 1370.7L603 1371.1L604 1371.6L605 1372L606 1372.3L607 1372.5L608 1372.7L609 1372.7L610 1372.6L611 1372.6L612 1372.5L613 1372.4L614 1372.4L615 1372.3L616 1372.3L617 1372.4L618 1372.5L619 1372.6L620 1372.8L621 1373L622 1373.2L623 1373.4L624 1373.5L625 1373.6L626 1373.6L627 1373.7L628 1373.9L629 1374.1L630 1374.3L631 1374.5L632 1374.7L633 1374.7L634 1374.6L635 1374.2L636 1373.8L637 1373.2L638 1372.7L639 1372.2L640 1371.9L641 1371.9L642 1372L643 1372.2L644 1372.6L645 1373L646 1373.3L647 1373.4L648 1373.5L649 1373.5L650 1373.5L651 1373.5L652 1373.5L653 1373.5L654 1373.5L655 1373.5L656 1373.4L657 1373.2L658 1372.9L659 1372.6L660 1372.1L661 1371.7L662 1371.3L663 1371.1L664 1371L665 1371.2L666 1371.4L667 1371.7L668 1372.1L669 1372.4L670 1372.7L671 1372.8L672 1372.9L673 1373L674 1373L675 1373.1L676 1373.2L677 1373.4L678 1373.6L679 1373.8L680 1374L681 1374.2L682 1374.2L683 1374.2L684 1373.9L685 1373.6L686 1373.2L687 1372.9L688 1372.6L689 1372.6L690 1372.7L691 1373L692 1373.6L693 1374.2L694 1375L695 1375.6L696 1376.2L697 1376.6L698 1376.8L699 1376.8L700 1376.6L701 1376.2L702 1375.8L703 1375.3L704 1374.9L705 1374.6L706 1374.4L707 1374.3L708 1374.3L709 1374.3L710 1374.4L711 1374.4L712 1374.4L713 1374.4L714 1374.4L715 1374.5L716 1374.7L717 1375L718 1375.4L719 1375.8L720 1376.4L721 1376.9L722 1377.4L723 1377.9L724 1378.2L725 1378.5L726 1378.7L727 1378.7L728 1378.5L729 1378.2L730 1377.7L731 1377L732 1376.4L733 1375.8L734 1375.3L735 1375L736 1374.8L737 1374.9L738 1375L739 1375.2L740 1375.5L741 1375.7L742 1375.9L743 1376L744 1376L745 1375.9L746 1375.7L747 1375.5L748 1375.3L749 1375.1L750 1375L751 1375L752 1375.1L753 1375.3L754 1375.6L755 1375.8L756 1376.1L757 1376.3L758 1376.5L759 1376.6L760 1376.6L761 1376.5L762 1376.4L763 1376.2L764 1376L765 1375.7L766 1375.3L767 1374.8L768 1374.3L769 1373.7L770 1373.1L771 1372.6L772 1372.2L773 1372.1L774 1372.1L775 1372.4L776 1372.9L777 1373.4L778 1374.1L779 1374.7L780 1375.2L781 1375.7L782 1376L783 1376.2L784 1376.3L785 1376.3L786 1376.2L787 1376.1L788 1375.9L789 1375.8L790 1375.7L791 1375.7L792 1375.8L793 1375.9L794 1376L795 1376.2L796 1376.5L797 1376.7L798 1377L799 1377.3L800 1377.5L801 1377.8L802 1377.9L803 1378L804 1377.9L805 1377.8L806 1377.7L807 1377.5L808 1377.3L809 1377.2L810 1377L811 1376.9L812 1376.9L813 1376.9L814 1376.9L815 1376.9L816 1376.9L817 1376.9L818 1377L819 1377L820 1377.1L821 1377.2L822 1377.3L823 1377.5L824 1377.6L825 1377.8L826 1378L827 1378.2L828 1378.4L829 1378.5L830 1378.6L831 1378.7L832 1378.8L833 1378.8L834 1378.7L835 1378.6L836 1378.5L837 1378.4L838 1378.2L839 1378.1L840 1378.1L841 1378.1L842 1378.1L843 1378.2L844 1378.3L845 1378.5L846 1378.7L847 1378.9L848 1379L849 1379L850 1379L851 1378.8L852 1378.5L853 1378.2L854 1377.9L855 1377.6L856 1377.2L857 1376.9L858 1376.6L859 1376.2L860 1375.9L861 1375.7L862 1375.5L863 1375.4L864 1375.5L865 1375.8L866 1376.3L867 1376.9L868 1377.8L869 1378.7L870 1379.6L871 1380.4L872 1380.9L873 1381.3L874 1381.3L875 1381.1L876 1380.8L877 1380.3L878 1379.9L879 1379.5L880 1379.1L881 1378.9L882 1378.6L883 1378.4L884 1378.3L885 1378.1L886 1377.8L887 1377.6L888 1377.3L889 1376.9L890 1376.6L891 1376.3L892 1376L893 1375.9L894 1375.7L895 1375.7L896 1375.6L897 1375.6L898 1375.6L899 1375.6L900 1375.6L901 1375.6L902 1375.6L903 1375.5L904 1375.4L905 1375.3L906 1375.1L907 1374.9L908 1374.7L909 1374.4L910 1374.1L911 1373.9L912 1373.8L913 1373.7L914 1373.8L915 1374L916 1374.3L917 1374.6L918 1375L919 1375.4L920 1375.7L921 1376L922 1376.2L923 1376.4L924 1376.6L925 1376.8L926 1377L927 1377.2L928 1377.4L929 1377.6L930 1377.7L931 1377.7L932 1377.7L933 1377.6L934 1377.5L935 1377.5L936 1377.5L937 1377.6L938 1377.7L939 1377.9L940 1378L941 1378.1L942 1378.1L943 1378L944 1377.8L945 1377.5L946 1377.1L947 1376.6L948 1376.1L949 1375.5L950 1375L951 1374.6L952 1374.3L953 1374.1L954 1374L955 1374.1L956 1374.3L957 1374.6L958 1375.1L959 1375.6L960 1376.2L961 1376.8L962 1377.4L963 1378L964 1378.6L965 1379.1L966 1379.6L967 1379.9L968 1380.1L969 1380.1L970 1379.9L971 1379.4L972 1378.8L973 1378.2L974 1377.6L975 1377.1L976 1376.8L977 1376.7L978 1376.7L979 1376.8L980 1377L981 1377.1L982 1377.2L983 1377.3L984 1377.3L985 1377.2L986 1377L987 1376.7L988 1376.3L989 1375.9L990 1375.4L991 1375L992 1374.7L993 1374.5L994 1374.5L995 1374.6L996 1374.9L997 1375.1L998 1375.3L999 1375.4L1000 1375.5L1001 1375.5L1002 1375.4L1003 1375.4L1004 1375.4L1005 1375.4L1006 1375.6L1007 1375.8L1008 1376L1009 1376.3L1010 1376.5L1011 1376.7L1012 1377L1013 1377.2L1014 1377.5L1015 1377.8L1016 1378.1L1017 1378.4L1018 1378.6L1019 1378.7L1020 1378.6L1021 1378.5L1022 1378.3L1023 1378.1L1024 1377.9L1025 1377.9L1026 1377.9L1027 1378.2L1028 1378.5L1029 1378.8L1030 1379.1L1031 1379.2L1032 1379.2L1033 1379L1034 1378.7L1035 1378.3L1036 1378L1037 1377.6L1038 1377.4L1039 1377.3L1040 1377.4L1041 1377.5L1042 1377.7L1043 1377.9L1044 1378.2L1045 1378.5L1046 1378.7L1047 1378.9L1048 1378.9L1049 1378.8L1050 1378.6L1051 1378.3L1052 1377.8L1053 1377.4L1054 1376.9L1055 1376.6L1056 1376.4L1057 1376.4L1058 1376.5L1059 1376.7L1060 1377L1061 1377.3L1062 1377.6L1063 1377.8L1064 1378L1065 1378L1066 1377.8L1067 1377.5L1068 1377L1069 1376.5L1070 1376L1071 1375.5L1072 1375.2L1073 1375L1074 1375L1075 1375.2L1076 1375.4L1077 1375.7L1078 1376L1079 1376.2L1080 1376.4L1081 1376.4L1082 1376.3L1083 1376.2L1084 1376.1L1085 1376.1L1086 1376L1087 1376L1088 1376L1089 1376.1L1090 1376.1L1091 1376.2L1092 1376.2L1093 1376.3L1094 1376.3L1095 1376.3L1096 1376.2L1097 1376L1098 1375.8L1099 1375.6L1100 1375.4L1101 1375.1L1102 1374.9L1103 1374.8L1104 1374.7L1105 1374.6L1106 1374.6L1107 1374.6L1108 1374.7L1109 1374.9L1110 1375.1L1111 1375.4L1112 1375.7L1113 1376L1114 1376.3L1115 1376.5L1116 1376.6L1117 1376.6L1118 1376.5L1119 1376.4L1120 1376.3L1121 1376.2L1122 1376L1123 1375.9L1124 1375.7L1125 1375.5L1126 1375.4L1127 1375.2L1128 1375.1L1129 1375L1130 1375L1131 1375L1132 1375L1133 1375L1134 1375.1L1135 1375L1136 1374.9L1137 1374.8L1138 1374.6L1139 1374.2L1140 1373.8L1141 1373.3L1142 1372.8L1143 1372.3L1144 1371.8L1145 1371.3L1146 1370.9L1147 1370.5L1148 1370.1L1149 1369.7L1150 1371.6L1151 1371.3L1152 1371.1L1153 1370.8L1154 1370.5L1155 1370.1L1156 1369.7L1157 1369.2L1158 1368.7L1159 1368.2L1160 1367.6L1161 1367L1162 1366.3L1163 1365.7L1164 1365L1165 1364.3L1166 1363.6L1167 1362.8L1168 1362.1L1169 1361.3L1170 1360.6L1171 1359.8L1172 1359L1173 1358.2L1174 1357.3L1175 1356.4L1176 1355.4L1177 1354.4L1178 1353.4L1179 1352.4L1180 1351.3L1181 1350.2L1182 1349.1L1183 1348L1184 1346.8L1185 1345.6L1186 1344.4L1187 1343.1L1188 1341.8L1189 1340.5L1190 1339.1L1191 1337.7L1192 1336.2L1193 1334.7L1194 1333.2L1195 1331.6L1196 1329.9L1197 1328.3L1198 1326.5L1199 1324.7L1200 1322.8L1201 1320.8L1202 1318.8L1203 1316.7L1204 1314.5L1205 1312.3L1206 1310.1L1207 1307.8L1208 1305.5L1209 1303.1L1210 1300.6L1211 1298L1212 1295.3L1213 1292.5L1214 1289.7L1215 1286.7L1216 1283.7L1217 1280.5L1218 1277.2L1219 1273.9L1220 1270.4L1221 1266.7L1222 1262.9L1223 1259L1224 1254.8L1225 1250.2L1226 1245.3L1227 1240.2L1228 1235L1229 1229.7L1230 1224.6L1231 1219.6L1232 1214.6L1233 1209.6L1234 1204.5L1235 1199.5L1236 1194.4L1237 1189.4L1238 1184.5L1239 1179.7L1240 1175.1L1241 1170.4L1242 1165.5L1243 1160.3L1244 1154.5L1245 1147.9L1246 1140.1L1247 1132L1248 1124.9L1249 1118.6L1250 1111.5L1251 1103.8L1252 1095.7L1253 1087.4L1254 1079L1255 1070.6L1256 1062.1L1257 1053.4L1258 1044.6L1259 1035.7L1260 1026.6L1261 1017.4L1262 1008.3L1263 999.5L1264 990.8L1265 982.2L1266 974L1267 966.2L1268 959.1L1269 952.5L1270 946.1L1271 939.9L1272 933.4L1273 926.5L1274 919L1275 910.6L1276 900.9L1277 888.6L1278 874.5L1279 859.8L1280 845.9L1281 833.6L1282 822L1283 810.9L1284 800L1285 789L1286 777.8L1287 766L1288 753.7L1289 741.3L1290 729.4L1291 718.4L1292 708.8L1293 700.3L1294 692.6L1295 685.3L1296 678.3L1297 671.4L1298 664.2L1299 656.6L1300 648.3L1301 639.4L1302 630.2L1303 620.5L1304 610.4L1305 599.9L1306 588.8L1307 577L1308 564.3L1309 550.7L1310 536.6L1311 522.2L1312 507.5L1313 491.6L1314 475.3L1315 460.2L1316 447.3L1317 436.4L1318 426.5L1319 417.1L1320 407.8L1321 398.1L1322 387.7L1323 377.1L1324 366.5L1325 356.5L1326 347.3L1327 339L1328 331.2L1329 323.9L1330 316.8L1331 309.8L1332 302.9L1333 296L1334 289.3L1335 282.9L1336 277L1337 271.4L1338 266.2L1339 261.3L1340 256.5L1341 252L1342 247.5L1343 243.2L1344 238.9L1345 234.8L1346 230.7L1347 226.8L1348 223L1349 219.2L1350 215.4L1351 211.6L1352 207.8L1353 204L1354 200.4L1355 197.1L1356 194.1L1357 191.6L1358 189.2L1359 186.8L1360 184.4L1361 182.2L1362 180.1L1363 178.2L1364 176.6L1365 175.3L1366 174.4L1367 174L1368 174L1369 174L1370 174L1371 174.1L1372 174.1L1373 174.2L1374 174.2L1375 174.3L1376 174.4L1377 174.4L1378 174.5L1379 175L1380 175.9L1381 177.1L1382 178.7L1383 180.5L1384 182.6L1385 184.8L1386 187.1L1387 189.4L1388 191.8L1389 194.5L1390 197.7L1391 201.4L1392 205.2L1393 209.6L1394 214.5L1395 219.4L1396 223.7L1397 227.6L1398 231.3L1399 234.8L1400 238.2L1401 241.6L1402 245.1L1403 248.7L1404 252.1L1405 255.5L1406 258.9L1407 262.4L1408 266.2L1409 270.4L1410 275L1411 280.1L1412 285.4L1413 290.7L1414 295.9L1415 301L1416 306.2L1417 311.3L1418 316.2L1419 320.9L1420 325L1421 328.8L1422 332.4L1423 336.2L1424 340.6L1425 346.1L1426 352.9L1427 360.1L1428 366.8L1429 372.5L1430 377.8L1431 382.9L1432 387.7L1433 392.4L1434 397.1L1435 401.8L1436 406.6L1437 411.6L1438 416.7L1439 421.8L1440 427L1441 432.2L1442 437.4L1443 442.6L1444 447.9L1445 453.1L1446 458.3L1447 463.5L1448 468.8L1449 474.2L1450 479.5L1451 484.9L1452 490.2L1453 495.3L1454 500.3L1455 505.1L1456 509.6L1457 513.9L1458 518L1459 522L1460 525.9L1461 529.7L1462 533.4L1463 537.3L1464 541.1L1465 545.1L1466 549.3L1467 553.7L1468 558.2L1469 562.8L1470 567.6L1471 572.4L1472 577.3L1473 582.3L1474 587.3L1475 592.3L1476 597.3L1477 602.5L1478 607.8L1479 613.2L1480 618.7L1481 624.1L1482 629.4L1483 634.5L1484 639.4L1485 644L1486 648.2L1487 652.4L1488 656.4L1489 660.3L1490 664.1L1491 667.8L1492 671.3L1493 674.8L1494 678.2L1495 681.4L1496 684.6L1497 687.6L1498 690.5L1499 693.2L1500 695.8L1501 698.3L1502 700.8L1503 703.3L1504 705.8L1505 708.4L1506 711.1L1507 713.9L1508 716.9L1509 720L1510 723.2L1511 726.6L1512 729.9L1513 733.4L1514 736.8L1515 740.3L1516 743.7L1517 747.2L1518 750.6L1519 753.9L1520 757.3L1521 760.7L1522 764.2L1523 767.7L1524 771.1L1525 774.5L1526 777.8L1527 781.1L1528 784.3L1529 787.4L1530 790.4L1531 793.2L1532 796L1533 798.7L1534 801.4L1535 804L1536 806.6L1537 809.2L1538 811.7L1539 814.3L1540 816.9L1541 819.6L1542 822.2L1543 824.9L1544 827.6L1545 830.3L1546 833L1547 835.7L1548 838.3L1549 840.9L1550 843.5L1551 846L1552 848.5L1553 850.9L1554 853.3L1555 855.7L1556 858L1557 860.2L1558 862.5L1559 864.7L1560 866.9L1561 869.1L1562 871.3L1563 873.4L1564 875.6L1565 877.8L1566 880L1567 882.2L1568 884.5L1569 886.7L1570 889L1571 891.4L1572 893.7L1573 896.1L1574 898.4L1575 900.8L1576 903.2L1577 905.6L1578 908L1579 910.4L1580 912.8L1581 915.3L1582 917.7L1583 920.1L1584 922.5L1585 924.9L1586 927.4L1587 929.8L1588 932.3L1589 934.7L1590 937.2L1591 939.6L1592 942L1593 944.3L1594 946.7L1595 948.9L1596 951.2L1597 953.4L1598 955.6L1599 957.7L1600 959.9L1601 962L1602 964.1L1603 966.2L1604 968.3L1605 970.4L1606 972.4L1607 974.5L1608 976.5L1609 978.6L1610 980.6L1611 982.6L1612 984.6L1613 986.5L1614 988.5L1615 990.4L1616 992.3L1617 994.2L1618 996.1L1619 998L1620 999.9L1621 1001.8L1622 1003.7L1623 1005.7L1624 1007.7L1625 1009.7L1626 1011.7L1627 1013.8L1628 1015.9L1629 1018L1630 1020.2L1631 1022.3L1632 1024.5L1633 1026.7L1634 1028.8L1635 1031L1636 1033.2L1637 1035.3L1638 1037.5L1639 1039.6L1640 1041.7L1641 1043.9L1642 1046L1643 1048.1L1644 1050.2L1645 1052.4L1646 1054.5L1647 1056.6L1648 1058.8L1649 1060.9L1650 1063L1651 1065.1L1652 1067.3L1653 1069.5L1654 1071.6L1655 1073.8L1656 1076L1657 1078.2L1658 1080.4L1659 1082.5L1660 1084.7L1661 1086.8L1662 1088.9L1663 1091L1664 1093.1L1665 1095.1L1666 1097.1L1667 1099L1668 1101L1669 1102.8L1670 1104.7L1671 1106.6L1672 1108.4L1673 1110.2L1674 1112L1675 1113.8L1676 1115.6L1677 1117.4L1678 1119.2L1679 1121L1680 1122.8L1681 1124.6L1682 1126.5L1683 1128.4L1684 1130.3L1685 1132.2L1686 1134.1L1687 1136L1688 1137.9L1689 1139.7L1690 1141.6L1691 1143.4L1692 1145.2L1693 1147L1694 1148.7L1695 1150.4L1696 1152L1697 1153.5L1698 1155.1L1699 1156.6L1700 1158.1L1701 1159.5L1702 1161L1703 1162.4L1704 1163.8L1705 1165.2L1706 1166.6L1707 1168L1708 1169.3L1709 1170.7L1710 1172L1711 1173.4L1712 1174.8L1713 1176.1L1714 1177.5L1715 1178.8L1716 1180.1L1717 1181.4L1718 1182.7L1719 1184L1720 1185.3L1721 1186.6L1722 1187.9L1723 1189.2L1724 1190.4L1725 1191.7L1726 1193L1727 1194.2L1728 1195.5L1729 1196.8L1730 1198L1731 1199.3L1732 1200.6L1733 1201.8L1734 1203.1L1735 1204.4L1736 1205.7L1737 1206.9L1738 1208.2L1739 1209.5L1740 1210.7L1741 1212L1742 1213.3L1743 1214.5L1744 1215.7L1745 1217L1746 1218.2L1747 1219.4L1748 1220.6L1749 1221.8L1750 1223L1751 1224.1L1752 1225.3L1753 1226.4L1754 1227.5L1755 1228.7L1756 1229.8L1757 1230.9L1758 1232L1759 1233.1L1760 1234.2L1761 1235.3L1762 1236.3L1763 1237.4L1764 1238.5L1765 1239.6L1766 1240.7L1767 1241.7L1768 1242.8L1769 1243.9L1770 1245L1771 1246.1L1772 1247.2L1773 1248.3L1774 1249.5L1775 1250.6L1776 1251.7L1777 1252.9L1778 1254L1779 1255.1L1780 1256.2L1781 1257.3L1782 1258.4L1783 1259.5L1784 1260.5L1785 1261.5L1786 1262.5L1787 1263.5L1788 1264.4L1789 1265.3L1790 1266.2L1791 1267.1L1792 1268L1793 1268.8L1794 1269.6L1795 1270.5L1796 1271.3L1797 1272.1L1798 1272.8L1799 1273.6L1800 1274.4L1801 1275.1L1802 1275.9L1803 1276.6L1804 1277.3L1805 1278L1806 1278.8L1807 1279.5L1808 1280.2L1809 1280.9L1810 1281.5L1811 1282.2L1812 1282.9L1813 1283.6L1814 1284.3L1815 1284.9L1816 1285.6L1817 1286.2L1818 1286.9L1819 1287.5L1820 1288.1L1821 1288.8L1822 1289.4L1823 1290L1824 1290.6L1825 1291.2L1826 1291.8L1827 1292.4L1828 1293L1829 1293.6L1830 1294.1L1831 1294.7L1832 1295.3L1833 1295.8L1834 1296.4L1835 1296.9L1836 1297.5L1837 1298L1838 1298.5L1839 1299.1L1840 1299.6L1841 1300.1L1842 1300.7L1843 1301.2L1844 1301.7L1845 1302.2L1846 1302.7L1847 1303.2L1848 1303.7L1849 1304.1L1850 1304.6L1851 1305L1852 1305.5L1853 1305.9L1854 1306.4L1855 1306.8L1856 1307.2L1857 1307.6L1858 1308L1859 1308.4L1860 1308.7L1861 1309.1L1862 1309.5L1863 1309.9L1864 1310.2L1865 1310.6L1866 1311L1867 1311.3L1868 1311.7L1869 1312L1870 1312.4L1871 1312.7L1872 1313L1873 1313.4L1874 1313.7L1875 1314L1876 1314.4L1877 1314.7L1878 1315L1879 1315.3L1880 1315.7L1881 1316L1882 1316.3L1883 1316.6L1884 1316.9L1885 1317.2L1886 1317.6L1887 1317.9L1888 1318.2L1889 1318.5L1890 1318.8L1891 1319.1L1892 1319.4L1893 1319.8L1894 1320.1L1895 1320.4L1896 1320.7L1897 1321L1898 1321.4L1899 1321.7L1900 1322L1901 1322.3L1902 1322.7L1903 1323L1904 1323.3L1905 1323.6L1906 1324L1907 1324.3L1908 1324.6L1909 1324.9L1910 1325.3L1911 1325.6L1912 1325.9L1913 1326.2L1914 1326.5L1915 1326.9L1916 1327.2L1917 1327.5L1918 1327.8L1919 1328.1L1920 1328.5L1921 1328.8L1922 1329.1L1923 1329.4L1924 1329.7L1925 1330L1926 1330.3L1927 1330.6L1928 1330.9L1929 1331.2L1930 1331.5L1931 1331.8L1932 1332.1L1933 1332.4L1934 1332.7L1935 1333L1936 1333.3L1937 1333.6L1938 1333.9L1939 1334.2L1940 1334.4L1941 1334.7L1942 1335L1943 1335.3L1944 1335.6L1945 1335.8L1946 1336.1L1947 1336.4L1948 1336.7L1949 1336.9L1950 1337.2L1951 1337.5L1952 1337.8L1953 1338L1954 1338.3L1955 1338.5L1956 1338.8L1957 1339L1958 1339.3L1959 1339.5L1960 1339.8L1961 1340L1962 1340.2L1963 1340.5L1964 1340.7L1965 1340.9L1966 1341.1L1967 1341.4L1968 1341.6L1969 1341.8L1970 1342L1971 1342.2L1972 1342.4L1973 1342.6L1974 1342.8L1975 1343L1976 1343.2L1977 1343.4L1978 1343.6L1979 1343.8L1980 1344L1981 1344.2L1982 1344.4L1983 1344.6L1984 1344.8L1985 1345L1986 1345.2L1987 1345.4L1988 1345.6L1989 1345.8L1990 1346L1991 1346.2L1992 1346.4L1993 1346.6L1994 1346.8L1995 1347L1996 1347.2L1997 1347.4L1998 1347.6L1999 1347.8L2000 1347.9L2001 1348.1L2002 1348.3L2003 1348.5L2004 1348.7L2005 1348.9L2006 1349.1L2007 1349.3L2008 1349.5L2009 1349.7L2010 1349.8L2011 1350L2012 1350.2L2013 1350.4L2014 1350.6L2015 1350.7L2016 1350.9L2017 1351.1L2018 1351.2L2019 1351.4L2020 1351.6L2021 1351.7L2022 1351.9L2023 1352.1L2024 1352.2L2025 1352.4L2026 1352.5L2027 1352.7L2028 1352.8L2029 1353L2030 1353.2L2031 1353.3L2032 1353.5L2033 1353.6L2034 1353.8L2035 1353.9L2036 1354.1L2037 1354.2L2038 1354.4L2039 1354.5L2040 1354.6L2041 1354.8L2042 1354.9L2043 1355.1L2044 1355.2L2045 1355.4L2046 1355.5L2047 1355.6L2048 1355.8L2049 1355.9L2050 1356L2051 1356.2L2052 1356.3L2053 1356.4L2054 1356.6L2055 1356.7L2056 1356.8L2057 1357L2058 1357.1L2059 1357.2L2060 1357.3L2061 1357.5L2062 1357.6L2063 1357.7L2064 1357.8L2065 1357.9L2066 1358.1L2067 1358.2L2068 1358.3L2069 1358.4L2070 1358.5" fill="none" stroke="#f00" stroke-width="8" stroke-linecap="round" stroke-linejoin="round" stroke-dasharray="11 19"/>
<path d="M326 1378.1L327 1378.2L328 1378.4L329 1378.5L330 1378.7L331 1378.7L332 1378.7L333 1378.6L334 1378.4L335 1378.2L336 1377.9L337 1377.7L338 1377.5L339 1377.4L340 1377.3L341 1377.4L342 1377.5L343 1377.7L344 1378.1L345 1378.4L346 1378.7L347 1378.9L348 1379L349 1379L350 1378.8L351 1378.5L352 1378.1L353 1377.7L354 1377.3L355 1376.9L356 1376.6L357 1376.3L358 1376.1L359 1375.9L360 1375.7L361 1375.5L362 1375.3L363 1375.1L364 1374.9L365 1374.8L366 1374.8L367 1374.8L368 1375L369 1375.2L370 1375.5L371 1375.8L372 1376L373 1376.3L374 1376.5L375 1376.8L376 1376.9L377 1377L378 1377.1L379 1377.1L380 1377L381 1376.8L382 1376.6L383 1376.3L384 1375.9L385 1375.6L386 1375.2L387 1374.8L388 1374.5L389 1374.2L390 1373.8L391 1373.5L392 1373.2L393 1373L394 1372.9L395 1372.9L396 1373L397 1373.2L398 1373.4L399 1373.6L400 1373.8L401 1373.8L402 1373.8L403 1373.7L404 1373.6L405 1373.4L406 1373.3L407 1373.2L408 1373.2L409 1373.2L410 1373.3L411 1373.4L412 1373.6L413 1373.9L414 1374.2L415 1374.5L416 1374.7L417 1375L418 1375.1L419 1375.2L420 1375.2L421 1375.1L422 1375L423 1374.8L424 1374.7L425 1374.5L426 1374.4L427 1374.2L428 1374.1L429 1374L430 1373.9L431 1373.9L432 1374L433 1374.1L434 1374.2L435 1374.3L436 1374.3L437 1374.3L438 1374.3L439 1374.2L440 1374.1L441 1374.1L442 1374L443 1374.1L444 1374.2L445 1374.3L446 1374.5L447 1374.7L448 1374.8L449 1374.8L450 1374.8L451 1374.7L452 1374.6L453 1374.4L454 1374.4L455 1374.3L456 1374.4L457 1374.4L458 1374.5L459 1374.6L460 1374.6L461 1374.7L462 1374.8L463 1374.9L464 1375L465 1375.2L466 1375.3L467 1375.5L468 1375.6L469 1375.7L470 1375.7L471 1375.6L472 1375.5L473 1375.3L474 1375.2L475 1375L476 1375L477 1375L478 1375.1L479 1375.2L480 1375.4L481 1375.4L482 1375.3L483 1375.1L484 1374.7L485 1374.1L486 1373.6L487 1373L488 1372.6L489 1372.3L490 1372.3L491 1372.4L492 1372.6L493 1372.9L494 1373.2L495 1373.6L496 1374L497 1374.4L498 1374.8L499 1375.2L500 1375.7L501 1376.1L502 1376.5L503 1376.7L504 1376.8L505 1376.8L506 1376.6L507 1376.3L508 1375.9L509 1375.6L510 1375.3L511 1375.1L512 1375L513 1374.9L514 1374.8L515 1374.6L516 1374.3L517 1373.8L518 1373.3L519 1372.7L520 1372.1L521 1371.6L522 1371.2L523 1371L524 1370.9L525 1371L526 1371.2L527 1371.4L528 1371.6L529 1371.9L530 1372.1L531 1372.3L532 1372.4L533 1372.6L534 1372.8L535 1373L536 1373.2L537 1373.5L538 1373.7L539 1374L540 1374.3L541 1374.6L542 1374.8L543 1375L544 1375.2L545 1375.4L546 1375.5L547 1375.5L548 1375.4L549 1375.3L550 1375.1L551 1374.9L552 1374.8L553 1374.7L554 1374.6L555 1374.6L556 1374.6L557 1374.6L558 1374.5L559 1374.4L560 1374.2L561 1374L562 1373.8L563 1373.7L564 1373.5L565 1373.5L566 1373.5L567 1373.6L568 1373.7L569 1373.9L570 1374L571 1374L572 1374L573 1373.9L574 1373.7L575 1373.5L576 1373.2L577 1372.9L578 1372.6L579 1372.4L580 1372.2L581 1372.2L582 1372.2L583 1372.3L584 1372.5L585 1372.7L586 1372.9L587 1373.2L588 1373.4L589 1373.5L590 1373.6L591 1373.6L592 1373.6L593 1373.5L594 1373.4L595 1373.2L596 1373L597 1372.9L598 1372.8L599 1372.7L600 1372.6L601 1372.6L602 1372.5L603 1372.5L604 1372.5L605 1372.5L606 1372.5L607 1372.5L608 1372.5L609 1372.5L610 1372.6L611 1372.7L612 1373L613 1373.2L614 1373.6L615 1374L616 1374.4L617 1374.8L618 1375.1L619 1375.2L620 1375.2L621 1375.1L622 1374.8L623 1374.4L624 1374L625 1373.7L626 1373.4L627 1373.1L628 1372.9L629 1372.8L630 1372.8L631 1372.8L632 1372.9L633 1373.1L634 1373.3L635 1373.5L636 1373.6L637 1373.7L638 1373.8L639 1373.7L640 1373.6L641 1373.5L642 1373.3L643 1373.2L644 1373.2L645 1373.2L646 1373.2L647 1373.3L648 1373.3L649 1373.3L650 1373.2L651 1373.1L652 1373L653 1372.8L654 1372.7L655 1372.5L656 1372.4L657 1372.4L658 1372.4L659 1372.5L660 1372.7L661 1373L662 1373.2L663 1373.5L664 1373.7L665 1374L666 1374.3L667 1374.5L668 1374.8L669 1375.1L670 1375.4L671 1375.5L672 1375.6L673 1375.6L674 1375.6L675 1375.5L676 1375.5L677 1375.5L678 1375.5L679 1375.6L680 1375.7L681 1375.8L682 1375.9L683 1376L684 1376L685 1376L686 1376L687 1376L688 1375.9L689 1375.8L690 1375.6L691 1375.4L692 1375.1L693 1374.8L694 1374.5L695 1374.2L696 1373.9L697 1373.7L698 1373.4L699 1373.3L700 1373.2L701 1373.1L702 1373.2L703 1373.4L704 1373.7L705 1374L706 1374.4L707 1374.7L708 1375L709 1375.2L710 1375.3L711 1375.4L712 1375.3L713 1375.2L714 1375.1L715 1374.9L716 1374.7L717 1374.6L718 1374.4L719 1374.4L720 1374.4L721 1374.6L722 1374.7L723 1375L724 1375.2L725 1375.4L726 1375.6L727 1375.7L728 1375.6L729 1375.5L730 1375.3L731 1375L732 1374.7L733 1374.4L734 1374.1L735 1373.9L736 1373.8L737 1373.7L738 1373.7L739 1373.7L740 1373.7L741 1373.6L742 1373.6L743 1373.6L744 1373.6L745 1373.7L746 1373.9L747 1374.2L748 1374.6L749 1375L750 1375.4L751 1375.9L752 1376.3L753 1376.6L754 1376.8L755 1376.9L756 1376.9L757 1376.8L758 1376.6L759 1376.5L760 1376.3L761 1376.2L762 1376.2L763 1376.1L764 1376.1L765 1376.1L766 1376L767 1375.9L768 1375.7L769 1375.5L770 1375.2L771 1375L772 1374.9L773 1374.9L774 1374.9L775 1375L776 1375.1L777 1375.2L778 1375.2L779 1375.2L780 1375L781 1374.8L782 1374.5L783 1374.2L784 1373.9L785 1373.6L786 1373.4L787 1373.4L788 1373.4L789 1373.6L790 1374L791 1374.5L792 1375L793 1375.7L794 1376.3L795 1376.8L796 1377.1L797 1377.3L798 1377.3L799 1377.2L800 1376.9L801 1376.5L802 1376.2L803 1375.8L804 1375.6L805 1375.4L806 1375.4L807 1375.4L808 1375.5L809 1375.5L810 1375.6L811 1375.5L812 1375.3L813 1375L814 1374.6L815 1374.3L816 1374L817 1373.9L818 1373.9L819 1374.1L820 1374.4L821 1374.8L822 1375.3L823 1375.8L824 1376.3L825 1376.8L826 1377.2L827 1377.5L828 1377.7L829 1377.8L830 1377.8L831 1377.7L832 1377.5L833 1377.2L834 1377L835 1376.7L836 1376.4L837 1376.1L838 1375.8L839 1375.5L840 1375.2L841 1374.9L842 1374.6L843 1374.4L844 1374.2L845 1374L846 1374L847 1374L848 1374L849 1374.2L850 1374.4L851 1374.6L852 1374.8L853 1375L854 1375.2L855 1375.3L856 1375.3L857 1375.3L858 1375.3L859 1375.2L860 1375.2L861 1375.1L862 1375.1L863 1375L864 1375L865 1375.1L866 1375.1L867 1375.2L868 1375.2L869 1375.3L870 1375.3L871 1375.2L872 1375L873 1374.9L874 1374.7L875 1374.5L876 1374.4L877 1374.5L878 1374.7L879 1375L880 1375.4L881 1375.7L882 1376.1L883 1376.3L884 1376.5L885 1376.5L886 1376.5L887 1376.5L888 1376.5L889 1376.4L890 1376.4L891 1376.3L892 1376.2L893 1376.1L894 1375.9L895 1375.7L896 1375.5L897 1375.3L898 1375.1L899 1374.9L900 1374.9L901 1374.9L902 1375.1L903 1375.3L904 1375.7L905 1376L906 1376.4L907 1376.8L908 1377L909 1377.1L910 1377.1L911 1377L912 1376.8L913 1376.6L914 1376.5L915 1376.4L916 1376.5L917 1376.6L918 1376.7L919 1376.9L920 1376.9L921 1376.9L922 1376.9L923 1376.8L924 1376.6L925 1376.5L926 1376.3L927 1376.1L928 1376L929 1375.7L930 1375.5L931 1375.2L932 1374.9L933 1374.6L934 1374.4L935 1374.2L936 1374.1L937 1374.1L938 1374.3L939 1374.7L940 1375.1L941 1375.6L942 1376.1L943 1376.6L944 1376.9L945 1377.1L946 1377.1L947 1376.9L948 1376.7L949 1376.4L950 1376.2L951 1376L952 1375.9L953 1375.9L954 1376L955 1376.1L956 1376.2L957 1376.3L958 1376.4L959 1376.4L960 1376.5L961 1376.4L962 1376.3L963 1376.2L964 1376.1L965 1376.1L966 1376L967 1376L968 1376.1L969 1376.1L970 1376.2L971 1376.3L972 1376.3L973 1376.3L974 1376.2L975 1376L976 1375.7L977 1375.4L978 1375L979 1374.6L980 1374.3L981 1373.9L982 1373.7L983 1373.5L984 1373.5L985 1373.6L986 1373.7L987 1373.9L988 1374.2L989 1374.4L990 1374.5L991 1374.7L992 1374.7L993 1374.8L994 1374.9L995 1375L996 1375.1L997 1375.3L998 1375.4L999 1375.6L1000 1375.6L1001 1375.7L1002 1375.7L1003 1375.8L1004 1375.8L1005 1375.7L1006 1375.7L1007 1375.6L1008 1375.4L1009 1375.3L1010 1375.1L1011 1375L1012 1375L1013 1375.1L1014 1375.3L1015 1375.6L1016 1375.9L1017 1376.1L1018 1376.3L1019 1376.4L1020 1376.5L1021 1376.4L1022 1376.2L1023 1375.9L1024 1375.6L1025 1375.2L1026 1374.8L1027 1374.4L1028 1374.1L1029 1373.8L1030 1373.6L1031 1373.5L1032 1373.5L1033 1373.6L1034 1373.8L1035 1374.1L1036 1374.4L1037 1374.6L1038 1374.9L1039 1375L1040 1375.1L1041 1375.1L1042 1375L1043 1374.8L1044 1374.7L1045 1374.6L1046 1374.5L1047 1374.5L1048 1374.6L1049 1374.8L1050 1375.1L1051 1375.4L1052 1375.7L1053 1376L1054 1376.2L1055 1376.4L1056 1376.5L1057 1376.5L1058 1376.4L1059 1376.3L1060 1376.2L1061 1376.2L1062 1376.2L1063 1376.3L1064 1376.5L1065 1376.6L1066 1376.7L1067 1376.8L1068 1376.9L1069 1377L1070 1377L1071 1377.1L1072 1377.3L1073 1377.4L1074 1377.5L1075 1377.6L1076 1377.6L1077 1377.6L1078 1377.4L1079 1377.2L1080 1377L1081 1376.7L1082 1376.5L1083 1376.2L1084 1376L1085 1375.8L1086 1375.6L1087 1375.5L1088 1375.5L1089 1375.5L1090 1375.6L1091 1375.8L1092 1376L1093 1376.2L1094 1376.3L1095 1376.4L1096 1376.5L1097 1376.4L1098 1376.3L1099 1376.2L1100 1376.2L1101 1376.2L1102 1376.3L1103 1376.5L1104 1376.9L1105 1377.4L1106 1378L1107 1378.5L1108 1378.9L1109 1379.1L1110 1379.1L1111 1378.9L1112 1378.5L1113 1378L1114 1377.5L1115 1377.1L1116 1376.6L1117 1376.3L1118 1375.9L1119 1375.7L1120 1375.4L1121 1375.2L1122 1375L1123 1374.9L1124 1374.8L1125 1374.9L1126 1374.9L1127 1375L1128 1375.1L1129 1375.2L1130 1375.2L1131 1375.2L1132 1375L1133 1374.8L1134 1374.5L1135 1374.2L1136 1373.9L1137 1373.5L1138 1373.3L1139 1373.1L1140 1373.1L1141 1373L1142 1373L1143 1372.8L1144 1372.6L1145 1372.3L1146 1371.9L1147 1371.5L1148 1371.1L1149 1370.7L1150 1371.7L1151 1371.4L1152 1371.2L1153 1370.9L1154 1370.6L1155 1370.3L1156 1369.9L1157 1369.4L1158 1369L1159 1368.4L1160 1367.9L1161 1367.3L1162 1366.7L1163 1366L1164 1365.3L1165 1364.6L1166 1363.9L1167 1363.2L1168 1362.5L1169 1361.7L1170 1361L1171 1360.2L1172 1359.4L1173 1358.6L1174 1357.7L1175 1356.8L1176 1355.9L1177 1354.9L1178 1353.9L1179 1352.9L1180 1351.9L1181 1350.8L1182 1349.7L1183 1348.5L1184 1347.4L1185 1346.2L1186 1345L1187 1343.8L1188 1342.5L1189 1341.2L1190 1339.8L1191 1338.4L1192 1336.9L1193 1335.5L1194 1333.9L1195 1332.4L1196 1330.8L1197 1329.1L1198 1327.4L1199 1325.6L1200 1323.7L1201 1321.8L1202 1319.8L1203 1317.7L1204 1315.6L1205 1313.4L1206 1311.2L1207 1309L1208 1306.7L1209 1304.3L1210 1301.9L1211 1299.3L1212 1296.7L1213 1294L1214 1291.1L1215 1288.2L1216 1285.2L1217 1282.1L1218 1278.9L1219 1275.6L1220 1272.1L1221 1268.6L1222 1264.8L1223 1261L1224 1257L1225 1252.6L1226 1247.8L1227 1242.8L1228 1237.6L1229 1232.3L1230 1227.2L1231 1222.1L1232 1217.1L1233 1212.1L1234 1207L1235 1202L1236 1197L1237 1191.9L1238 1186.9L1239 1182.1L1240 1177.4L1241 1172.7L1242 1168L1243 1162.9L1244 1157.5L1245 1151.4L1246 1144.1L1247 1136L1248 1128.3L1249 1121.8L1250 1115.2L1251 1107.7L1252 1099.8L1253 1091.5L1254 1083.2L1255 1074.9L1256 1066.4L1257 1057.7L1258 1049L1259 1040.2L1260 1031.1L1261 1022L1262 1012.9L1263 1003.9L1264 995.1L1265 986.5L1266 978.1L1267 970L1268 962.6L1269 955.7L1270 949.3L1271 943L1272 936.7L1273 930L1274 922.8L1275 914.9L1276 906L1277 895L1278 881.7L1279 867.1L1280 852.7L1281 839.6L1282 827.7L1283 816.4L1284 805.5L1285 794.5L1286 783.5L1287 772.1L1288 760.3L1289 748.3L1290 736.4L1291 724.8L1292 713.6L1293 703.1L1294 693.3L1295 683.8L1296 674.3L1297 664.5L1298 653.9L1299 642.4L1300 629.5L1301 615.7L1302 601.2L1303 586.4L1304 571.4L1305 556.8L1306 542.6L1307 529.4L1308 517.3L1309 506.8L1310 496.9L1311 486.4L1312 474L1313 458.7L1314 444.2L1315 433.5L1316 424.7L1317 416.4L1318 407.7L1319 398L1320 387.8L1321 377.7L1322 368L1323 359.1L1324 350.6L1325 342.2L1326 333.4L1327 323.6L1328 313.4L1329 303.8L1330 295.8L1331 289.1L1332 283.2L1333 277.7L1334 272.3L1335 266.6L1336 260.5L1337 253.5L1338 245.6L1339 237.5L1340 229.7L1341 222.7L1342 216.9L1343 211.5L1344 206.4L1345 201.7L1346 197.4L1347 193.5L1348 190.2L1349 187.2L1350 184.4L1351 181.9L1352 179.6L1353 177.6L1354 176L1355 174.5L1356 173.1L1357 171.8L1358 170.6L1359 169.7L1360 169.1L1361 169L1362 169.1L1363 169.5L1364 169.9L1365 170.5L1366 171.2L1367 172L1368 173.2L1369 174.9L1370 177.2L1371 179.9L1372 182.7L1373 185.6L1374 188.5L1375 191.5L1376 194.7L1377 198.2L1378 201.8L1379 205.6L1380 209.4L1381 213.3L1382 217.2L1383 221.1L1384 224.9L1385 228.8L1386 232.8L1387 236.8L1388 241L1389 245.3L1390 249.9L1391 254.6L1392 259.8L1393 265.2L1394 270.9L1395 276.7L1396 282.6L1397 288.4L1398 294.3L1399 300.5L1400 306.7L1401 312.8L1402 318.4L1403 323.4L1404 327.8L1405 331.9L1406 335.9L1407 340.3L1408 345.2L1409 351.1L1410 359.3L1411 368.2L1412 375.7L1413 382.7L1414 389.4L1415 395.9L1416 402.3L1417 408.7L1418 415.2L1419 421.5L1420 427.8L1421 433.8L1422 439.6L1423 445L1424 450.1L1425 455.2L1426 460.3L1427 465.7L1428 471.6L1429 478.3L1430 485.6L1431 493.1L1432 500.5L1433 507.4L1434 513.5L1435 519.2L1436 524.7L1437 530L1438 535.5L1439 541.3L1440 547.5L1441 554L1442 560.6L1443 567.1L1444 573.5L1445 579.5L1446 585.3L1447 590.9L1448 596.5L1449 601.9L1450 607.4L1451 612.8L1452 618.1L1453 623.3L1454 628.6L1455 633.8L1456 639.2L1457 644.6L1458 650.2L1459 655.7L1460 661.1L1461 666.2L1462 671.1L1463 675.8L1464 680.4L1465 684.9L1466 689.3L1467 693.6L1468 697.9L1469 702.1L1470 706.2L1471 710.1L1472 714L1473 717.9L1474 721.8L1475 725.8L1476 730L1477 734.6L1478 739.5L1479 744.1L1480 748.1L1481 751.5L1482 754.6L1483 757.5L1484 760.3L1485 762.9L1486 765.4L1487 767.9L1488 770.4L1489 773L1490 775.8L1491 778.7L1492 781.7L1493 784.9L1494 788.1L1495 791.3L1496 794.6L1497 797.8L1498 801.1L1499 804.3L1500 807.4L1501 810.5L1502 813.7L1503 817L1504 820.2L1505 823.4L1506 826.6L1507 829.7L1508 832.6L1509 835.4L1510 838L1511 840.5L1512 842.7L1513 844.8L1514 846.7L1515 848.6L1516 850.3L1517 852.1L1518 853.7L1519 855.4L1520 857L1521 858.7L1522 860.4L1523 862.2L1524 864L1525 866L1526 868.1L1527 870.3L1528 872.5L1529 874.8L1530 877.2L1531 879.6L1532 882L1533 884.3L1534 886.7L1535 888.9L1536 891.1L1537 893.2L1538 895.2L1539 897.2L1540 899.1L1541 900.9L1542 902.8L1543 904.6L1544 906.3L1545 908.1L1546 909.9L1547 911.6L1548 913.4L1549 915.2L1550 917L1551 918.8L1552 920.7L1553 922.5L1554 924.4L1555 926.2L1556 928L1557 929.9L1558 931.7L1559 933.6L1560 935.4L1561 937.4L1562 939.3L1563 941.3L1564 943.3L1565 945.4L1566 947.5L1567 949.8L1568 952.2L1569 954.7L1570 957.1L1571 959.5L1572 961.8L1573 963.9L1574 965.9L1575 967.7L1576 969.5L1577 971.2L1578 972.9L1579 974.5L1580 976.1L1581 977.7L1582 979.3L1583 981L1584 982.7L1585 984.4L1586 986.3L1587 988.2L1588 990.2L1589 992.4L1590 994.8L1591 997.2L1592 999.7L1593 1002.3L1594 1004.9L1595 1007.4L1596 1010L1597 1012.5L1598 1014.9L1599 1017.2L1600 1019.4L1601 1021.6L1602 1023.7L1603 1025.8L1604 1027.9L1605 1029.9L1606 1032L1607 1034L1608 1036.1L1609 1038.2L1610 1040.3L1611 1042.4L1612 1044.6L1613 1046.7L1614 1048.9L1615 1051.1L1616 1053.3L1617 1055.6L1618 1057.8L1619 1060L1620 1062.2L1621 1064.4L1622 1066.6L1623 1068.7L1624 1070.9L1625 1073L1626 1075.2L1627 1077.3L1628 1079.4L1629 1081.5L1630 1083.7L1631 1085.8L1632 1087.8L1633 1089.9L1634 1092L1635 1094.1L1636 1096.1L1637 1098.2L1638 1100.2L1639 1102.3L1640 1104.4L1641 1106.4L1642 1108.5L1643 1110.5L1644 1112.5L1645 1114.5L1646 1116.4L1647 1118.4L1648 1120.2L1649 1122.1L1650 1123.8L1651 1125.5L1652 1127.2L1653 1128.8L1654 1130.3L1655 1131.8L1656 1133.3L1657 1134.8L1658 1136.4L1659 1137.9L1660 1139.4L1661 1141L1662 1142.6L1663 1144.3L1664 1146.1L1665 1147.9L1666 1149.9L1667 1152L1668 1154.3L1669 1156.8L1670 1159.3L1671 1161.8L1672 1164.3L1673 1166.8L1674 1169.3L1675 1171.6L1676 1173.8L1677 1175.8L1678 1177.6L1679 1179.3L1680 1180.9L1681 1182.5L1682 1184L1683 1185.5L1684 1186.9L1685 1188.2L1686 1189.6L1687 1190.9L1688 1192.2L1689 1193.5L1690 1194.7L1691 1196L1692 1197.3L1693 1198.5L1694 1199.8L1695 1201L1696 1202.2L1697 1203.4L1698 1204.6L1699 1205.8L1700 1207L1701 1208.1L1702 1209.2L1703 1210.4L1704 1211.5L1705 1212.6L1706 1213.7L1707 1214.8L1708 1215.9L1709 1217L1710 1218.1L1711 1219.2L1712 1220.3L1713 1221.4L1714 1222.5L1715 1223.5L1716 1224.6L1717 1225.6L1718 1226.7L1719 1227.7L1720 1228.7L1721 1229.8L1722 1230.8L1723 1231.8L1724 1232.9L1725 1233.9L1726 1235L1727 1236L1728 1237.1L1729 1238.2L1730 1239.2L1731 1240.3L1732 1241.5L1733 1242.6L1734 1243.7L1735 1244.9L1736 1246L1737 1247.2L1738 1248.3L1739 1249.4L1740 1250.6L1741 1251.7L1742 1252.8L1743 1253.9L1744 1254.9L1745 1255.9L1746 1256.9L1747 1257.9L1748 1258.8L1749 1259.8L1750 1260.7L1751 1261.6L1752 1262.5L1753 1263.4L1754 1264.3L1755 1265.1L1756 1266L1757 1266.8L1758 1267.6L1759 1268.4L1760 1269.2L1761 1270L1762 1270.7L1763 1271.5L1764 1272.2L1765 1272.9L1766 1273.5L1767 1274.2L1768 1274.8L1769 1275.4L1770 1276L1771 1276.6L1772 1277.1L1773 1277.7L1774 1278.2L1775 1278.8L1776 1279.3L1777 1279.8L1778 1280.3L1779 1280.8L1780 1281.3L1781 1281.8L1782 1282.3L1783 1282.8L1784 1283.3L1785 1283.8L1786 1284.3L1787 1284.8L1788 1285.3L1789 1285.8L1790 1286.3L1791 1286.9L1792 1287.4L1793 1287.9L1794 1288.5L1795 1289L1796 1289.5L1797 1290.1L1798 1290.6L1799 1291.1L1800 1291.7L1801 1292.2L1802 1292.7L1803 1293.2L1804 1293.8L1805 1294.3L1806 1294.8L1807 1295.4L1808 1295.9L1809 1296.4L1810 1297L1811 1297.5L1812 1298L1813 1298.6L1814 1299.1L1815 1299.6L1816 1300.2L1817 1300.7L1818 1301.3L1819 1301.8L1820 1302.4L1821 1302.9L1822 1303.5L1823 1304.1L1824 1304.7L1825 1305.2L1826 1305.8L1827 1306.4L1828 1307L1829 1307.5L1830 1308.1L1831 1308.6L1832 1309.2L1833 1309.7L1834 1310.2L1835 1310.7L1836 1311.2L1837 1311.7L1838 1312.2L1839 1312.6L1840 1313L1841 1313.5L1842 1313.9L1843 1314.2L1844 1314.6L1845 1315L1846 1315.4L1847 1315.7L1848 1316.1L1849 1316.4L1850 1316.8L1851 1317.1L1852 1317.4L1853 1317.8L1854 1318.1L1855 1318.4L1856 1318.7L1857 1319.1L1858 1319.4L1859 1319.8L1860 1320.1L1861 1320.5L1862 1320.8L1863 1321.2L1864 1321.6L1865 1321.9L1866 1322.3L1867 1322.7L1868 1323.1L1869 1323.5L1870 1324L1871 1324.4L1872 1324.8L1873 1325.2L1874 1325.6L1875 1326.1L1876 1326.5L1877 1326.9L1878 1327.3L1879 1327.7L1880 1328.1L1881 1328.5L1882 1328.9L1883 1329.3L1884 1329.7L1885 1330L1886 1330.4L1887 1330.7L1888 1331L1889 1331.3L1890 1331.6L1891 1331.9L1892 1332.2L1893 1332.4L1894 1332.7L1895 1332.9L1896 1333.2L1897 1333.4L1898 1333.7L1899 1333.9L1900 1334.1L1901 1334.4L1902 1334.6L1903 1334.8L1904 1335.1L1905 1335.3L1906 1335.5L1907 1335.8L1908 1336L1909 1336.3L1910 1336.5L1911 1336.8L1912 1337L1913 1337.3L1914 1337.6L1915 1337.8L1916 1338.1L1917 1338.4L1918 1338.7L1919 1339L1920 1339.3L1921 1339.6L1922 1339.9L1923 1340.3L1924 1340.6L1925 1340.9L1926 1341.2L1927 1341.5L1928 1341.8L1929 1342.1L1930 1342.4L1931 1342.8L1932 1343.1L1933 1343.4L1934 1343.7L1935 1344L1936 1344.3L1937 1344.5L1938 1344.8L1939 1345.1L1940 1345.4L1941 1345.6L1942 1345.9L1943 1346.1L1944 1346.3L1945 1346.6L1946 1346.8L1947 1347L1948 1347.2L1949 1347.4L1950 1347.5L1951 1347.7L1952 1347.9L1953 1348.1L1954 1348.2L1955 1348.4L1956 1348.5L1957 1348.7L1958 1348.9L1959 1349L1960 1349.1L1961 1349.3L1962 1349.4L1963 1349.6L1964 1349.7L1965 1349.8L1966 1350L1967 1350.1L1968 1350.2L1969 1350.4L1970 1350.5L1971 1350.6L1972 1350.7L1973 1350.9L1974 1351L1975 1351.1L1976 1351.2L1977 1351.4L1978 1351.5L1979 1351.6L1980 1351.8L1981 1351.9L1982 1352L1983 1352.2L1984 1352.3L1985 1352.4L1986 1352.6L1987 1352.7L1988 1352.9L1989 1353L1990 1353.2L1991 1353.4L1992 1353.5L1993 1353.7L1994 1353.9L1995 1354.1L1996 1354.3L1997 1354.4L1998 1354.6L1999 1354.8L2000 1355L2001 1355.3L2002 1355.5L2003 1355.7L2004 1355.9L2005 1356.1L2006 1356.3L2007 1356.5L2008 1356.7L2009 1356.9L2010 1357.1L2011 1357.3L2012 1357.5L2013 1357.7L2014 1357.8L2015 1358L2016 1358.2L2017 1358.3L2018 1358.5L2019 1358.6L2020 1358.8L2021 1358.9L2022 1359.1L2023 1359.2L2024 1359.3L2025 1359.5L2026 1359.6L2027 1359.7L2028 1359.9L2029 1360L2030 1360.1L2031 1360.3L2032 1360.4L2033 1360.5L2034 1360.6L2035 1360.8L2036 1360.9L2037 1361L2038 1361.2L2039 1361.3L2040 1361.4L2041 1361.6L2042 1361.7L2043 1361.8L2044 1362L2045 1362.1L2046 1362.3L2047 1362.4L2048 1362.6L2049 1362.7L2050 1362.8L2051 1363L2052 1363.2L2053 1363.3L2054 1363.5L2055 1363.6L2056 1363.8L2057 1363.9L2058 1364.1L2059 1364.2L2060 1364.4L2061 1364.5L2062 1364.7L2063 1364.9L2064 1365L2065 1365.2L2066 1365.3L2067 1365.5L2068 1365.7L2069 1365.8L2070 1366" fill="none" stroke="#008080" stroke-width="8" stroke-linecap="round" stroke-linejoin="round" stroke-dasharray="5 34"/>
<path d="M326 1376.6L327 1376.4L328 1376.5L329 1376.7L330 1377.2L331 1377.8L332 1378.6L333 1379.3L334 1379.9L335 1380.4L336 1380.7L337 1380.8L338 1380.7L339 1380.4L340 1380L341 1379.5L342 1379.1L343 1378.7L344 1378.5L345 1378.3L346 1378.3L347 1378.3L348 1378.3L349 1378.3L350 1378.2L351 1378.1L352 1377.8L353 1377.6L354 1377.4L355 1377.3L356 1377.2L357 1377.2L358 1377.2L359 1377.3L360 1377.5L361 1377.8L362 1378.1L363 1378.3L364 1378.6L365 1378.7L366 1378.8L367 1378.9L368 1378.9L369 1378.9L370 1378.8L371 1378.8L372 1378.8L373 1378.7L374 1378.6L375 1378.4L376 1378.1L377 1377.7L378 1377.3L379 1376.8L380 1376.2L381 1375.7L382 1375.1L383 1374.7L384 1374.3L385 1374L386 1373.9L387 1373.8L388 1373.8L389 1373.9L390 1374L391 1374L392 1374L393 1374L394 1374L395 1373.9L396 1373.8L397 1373.7L398 1373.6L399 1373.4L400 1373.3L401 1373.2L402 1373.1L403 1373L404 1372.7L405 1372.4L406 1371.9L407 1371.4L408 1370.8L409 1370.2L410 1369.6L411 1369.2L412 1368.9L413 1368.7L414 1368.5L415 1368.3L416 1368.2L417 1368.2L418 1368.2L419 1368.3L420 1368.4L421 1368.7L422 1369.1L423 1369.4L424 1369.7L425 1370L426 1370.2L427 1370.3L428 1370.2L429 1370.1L430 1369.7L431 1369.2L432 1368.6L433 1367.9L434 1367.3L435 1366.7L436 1366.2L437 1365.8L438 1365.7L439 1365.6L440 1365.7L441 1365.9L442 1366.2L443 1366.4L444 1366.6L445 1366.7L446 1366.8L447 1366.7L448 1366.5L449 1366.3L450 1365.9L451 1365.4L452 1365L453 1364.5L454 1364L455 1363.5L456 1363L457 1362.5L458 1362L459 1361.6L460 1361.2L461 1360.8L462 1360.6L463 1360.5L464 1360.4L465 1360.3L466 1360.3L467 1360.2L468 1360.1L469 1359.9L470 1359.7L471 1359.4L472 1359.1L473 1358.8L474 1358.6L475 1358.3L476 1358.1L477 1358L478 1357.8L479 1357.6L480 1357.4L481 1357.3L482 1357.1L483 1357L484 1357L485 1356.9L486 1357L487 1357L488 1357L489 1357L490 1357L491 1356.9L492 1356.9L493 1356.8L494 1356.7L495 1356.5L496 1356.3L497 1356L498 1355.6L499 1355.2L500 1354.7L501 1354.3L502 1353.9L503 1353.7L504 1353.6L505 1353.6L506 1353.7L507 1353.8L508 1353.9L509 1354L510 1354.1L511 1354.2L512 1354.3L513 1354.4L514 1354.7L515 1355.1L516 1355.5L517 1356L518 1356.5L519 1357L520 1357.4L521 1357.7L522 1357.9L523 1358.1L524 1358.2L525 1358.2L526 1358.1L527 1358L528 1357.8L529 1357.7L530 1357.7L531 1357.9L532 1358.2L533 1358.7L534 1359.2L535 1359.8L536 1360.3L537 1360.8L538 1361.1L539 1361.2L540 1361.2L541 1361.1L542 1361L543 1360.7L544 1360.5L545 1360.3L546 1360.2L547 1360.1L548 1360.1L549 1360.1L550 1360.2L551 1360.3L552 1360.5L553 1360.7L554 1361L555 1361.4L556 1361.8L557 1362.1L558 1362.4L559 1362.6L560 1362.6L561 1362.4L562 1362.2L563 1361.9L564 1361.6L565 1361.4L566 1361.3L567 1361.3L568 1361.5L569 1361.7L570 1362L571 1362.3L572 1362.5L573 1362.8L574 1363L575 1363.2L576 1363.4L577 1363.6L578 1363.9L579 1364.1L580 1364.4L581 1364.6L582 1364.7L583 1364.6L584 1364.4L585 1364.1L586 1363.7L587 1363.3L588 1362.9L589 1362.5L590 1362.3L591 1362.1L592 1362.1L593 1362.1L594 1362.4L595 1362.7L596 1363.2L597 1363.8L598 1364.5L599 1365.2L600 1365.9L601 1366.5L602 1367L603 1367.4L604 1367.7L605 1367.7L606 1367.7L607 1367.6L608 1367.6L609 1367.5L610 1367.5L611 1367.6L612 1367.8L613 1368.1L614 1368.3L615 1368.7L616 1368.9L617 1369.2L618 1369.4L619 1369.5L620 1369.6L621 1369.6L622 1369.5L623 1369.3L624 1369L625 1368.7L626 1368.3L627 1367.9L628 1367.5L629 1367.1L630 1366.8L631 1366.5L632 1366.2L633 1366L634 1365.8L635 1365.7L636 1365.6L637 1365.6L638 1365.8L639 1366L640 1366.3L641 1366.6L642 1366.7L643 1366.8L644 1366.8L645 1366.7L646 1366.6L647 1366.4L648 1366.2L649 1366.1L650 1366L651 1366L652 1366.1L653 1366.2L654 1366.3L655 1366.5L656 1366.6L657 1366.8L658 1366.9L659 1367.1L660 1367.3L661 1367.5L662 1367.7L663 1368L664 1368.4L665 1368.9L666 1369.4L667 1369.8L668 1370.2L669 1370.4L670 1370.5L671 1370.4L672 1370.3L673 1370.2L674 1370.1L675 1370.2L676 1370.4L677 1370.6L678 1370.9L679 1371.2L680 1371.4L681 1371.4L682 1371.3L683 1371.1L684 1370.8L685 1370.4L686 1370.2L687 1370L688 1370L689 1370.1L690 1370.4L691 1370.9L692 1371.4L693 1371.9L694 1372.3L695 1372.6L696 1372.7L697 1372.7L698 1372.5L699 1372.2L700 1371.8L701 1371.5L702 1371.3L703 1371.2L704 1371.3L705 1371.5L706 1371.9L707 1372.4L708 1373L709 1373.4L710 1373.8L711 1374.1L712 1374.2L713 1374.1L714 1373.9L715 1373.6L716 1373.2L717 1372.8L718 1372.4L719 1372.1L720 1371.8L721 1371.7L722 1371.6L723 1371.6L724 1371.7L725 1371.8L726 1371.9L727 1371.9L728 1371.8L729 1371.6L730 1371.3L731 1370.9L732 1370.5L733 1370.2L734 1370L735 1370L736 1370.2L737 1370.5L738 1371.1L739 1371.7L740 1372.3L741 1372.9L742 1373.3L743 1373.6L744 1373.7L745 1373.7L746 1373.6L747 1373.4L748 1373L749 1372.7L750 1372.3L751 1371.9L752 1371.6L753 1371.4L754 1371.3L755 1371.5L756 1371.8L757 1372.2L758 1372.8L759 1373.3L760 1373.8L761 1374.2L762 1374.4L763 1374.5L764 1374.4L765 1374.3L766 1374.2L767 1374.1L768 1374L769 1374L770 1374L771 1374.1L772 1374.1L773 1374L774 1373.8L775 1373.5L776 1373.2L777 1372.9L778 1372.5L779 1372.2L780 1372L781 1371.9L782 1371.8L783 1371.8L784 1371.9L785 1372L786 1372.2L787 1372.3L788 1372.3L789 1372.3L790 1372.2L791 1372.1L792 1372L793 1372L794 1372.2L795 1372.5L796 1372.9L797 1373.4L798 1374L799 1374.6L800 1375.1L801 1375.5L802 1375.8L803 1376L804 1376.1L805 1376.1L806 1376L807 1375.8L808 1375.5L809 1375.2L810 1374.9L811 1374.6L812 1374.3L813 1373.9L814 1373.7L815 1373.5L816 1373.3L817 1373.3L818 1373.4L819 1373.6L820 1373.9L821 1374.3L822 1374.7L823 1375L824 1375.2L825 1375.4L826 1375.4L827 1375.3L828 1375.2L829 1375.1L830 1375L831 1374.8L832 1374.7L833 1374.5L834 1374.3L835 1374L836 1373.6L837 1373.3L838 1372.9L839 1372.6L840 1372.5L841 1372.6L842 1372.9L843 1373.4L844 1374.1L845 1374.8L846 1375.5L847 1376.2L848 1376.7L849 1377L850 1377.1L851 1377.2L852 1377.1L853 1376.9L854 1376.7L855 1376.5L856 1376.3L857 1376.1L858 1375.8L859 1375.5L860 1375.2L861 1374.9L862 1374.6L863 1374.3L864 1374.1L865 1374L866 1374L867 1374.1L868 1374.2L869 1374.2L870 1374.2L871 1374.1L872 1373.8L873 1373.4L874 1372.9L875 1372.4L876 1371.9L877 1371.5L878 1371.3L879 1371.2L880 1371.3L881 1371.5L882 1371.9L883 1372.3L884 1372.9L885 1373.4L886 1374L887 1374.6L888 1375.1L889 1375.7L890 1376.1L891 1376.5L892 1376.6L893 1376.6L894 1376.4L895 1376.1L896 1375.7L897 1375.2L898 1374.8L899 1374.5L900 1374.2L901 1374L902 1373.9L903 1373.7L904 1373.5L905 1373.2L906 1372.9L907 1372.7L908 1372.4L909 1372.3L910 1372.1L911 1372.1L912 1372.1L913 1372.1L914 1372.2L915 1372.3L916 1372.5L917 1372.6L918 1372.7L919 1372.9L920 1373L921 1373L922 1373L923 1372.9L924 1372.8L925 1372.7L926 1372.7L927 1372.7L928 1372.9L929 1373.2L930 1373.7L931 1374.3L932 1375.1L933 1375.9L934 1376.7L935 1377.4L936 1378L937 1378.3L938 1378.3L939 1378L940 1377.5L941 1376.7L942 1375.8L943 1374.8L944 1373.9L945 1373.1L946 1372.5L947 1372L948 1371.7L949 1371.6L950 1371.5L951 1371.4L952 1371.4L953 1371.5L954 1371.6L955 1371.8L956 1372.2L957 1372.6L958 1373.1L959 1373.7L960 1374.2L961 1374.6L962 1375.1L963 1375.4L964 1375.7L965 1375.9L966 1376L967 1376.1L968 1376.1L969 1376L970 1376L971 1375.9L972 1375.8L973 1375.7L974 1375.6L975 1375.6L976 1375.7L977 1375.8L978 1376L979 1376.2L980 1376.5L981 1376.7L982 1376.9L983 1377.1L984 1377.2L985 1377.2L986 1377.2L987 1377.1L988 1377.2L989 1377.3L990 1377.5L991 1377.7L992 1378.1L993 1378.4L994 1378.6L995 1378.8L996 1378.7L997 1378.5L998 1378.2L999 1377.7L1000 1377.2L1001 1376.7L1002 1376.1L1003 1375.6L1004 1375.2L1005 1374.8L1006 1374.6L1007 1374.6L1008 1374.7L1009 1375L1010 1375.5L1011 1376L1012 1376.7L1013 1377.2L1014 1377.5L1015 1377.6L1016 1377.5L1017 1377.1L1018 1376.5L1019 1375.9L1020 1375.4L1021 1375L1022 1374.8L1023 1374.8L1024 1375L1025 1375.3L1026 1375.6L1027 1375.9L1028 1376L1029 1376.1L1030 1376L1031 1375.9L1032 1375.8L1033 1375.6L1034 1375.5L1035 1375.3L1036 1375.1L1037 1374.9L1038 1374.7L1039 1374.5L1040 1374.3L1041 1374.1L1042 1374L1043 1374L1044 1373.9L1045 1374L1046 1374.1L1047 1374.2L1048 1374.3L1049 1374.4L1050 1374.5L1051 1374.6L1052 1374.6L1053 1374.7L1054 1374.7L1055 1374.7L1056 1374.8L1057 1375L1058 1375.2L1059 1375.4L1060 1375.7L1061 1376L1062 1376.2L1063 1376.3L1064 1376.3L1065 1376.2L1066 1376L1067 1375.7L1068 1375.4L1069 1375.2L1070 1375L1071 1374.9L1072 1374.9L1073 1374.9L1074 1374.9L1075 1374.9L1076 1374.9L1077 1374.9L1078 1374.9L1079 1374.8L1080 1374.7L1081 1374.6L1082 1374.4L1083 1374.1L1084 1373.8L1085 1373.5L1086 1373.3L1087 1373.2L1088 1373.2L1089 1373.5L1090 1373.8L1091 1374.4L1092 1375L1093 1375.6L1094 1376.1L1095 1376.5L1096 1376.8L1097 1376.8L1098 1376.6L1099 1376.3L1100 1375.9L1101 1375.4L1102 1375.1L1103 1374.8L1104 1374.7L1105 1374.6L1106 1374.6L1107 1374.7L1108 1374.7L1109 1374.7L1110 1374.7L1111 1374.6L1112 1374.5L1113 1374.4L1114 1374.3L1115 1374.1L1116 1373.8L1117 1373.4L1118 1372.9L1119 1372.3L1120 1371.7L1121 1371.1L1122 1370.6L1123 1370.3L1124 1370.2L1125 1370.3L1126 1370.6L1127 1371L1128 1371.5L1129 1372L1130 1372.4L1131 1372.8L1132 1373.1L1133 1373.2L1134 1373.3L1135 1373.2L1136 1373.2L1137 1373.2L1138 1373.2L1139 1373.2L1140 1373.2L1141 1373.1L1142 1373L1143 1372.9L1144 1372.8L1145 1372.7L1146 1372.6L1147 1372.7L1148 1372.8L1149 1373L1150 1375.8L1151 1375.9L1152 1376L1153 1376.1L1154 1376.2L1155 1376.3L1156 1376.3L1157 1376.4L1158 1376.5L1159 1376.5L1160 1376.5L1161 1376.5L1162 1376.5L1163 1376.5L1164 1376.5L1165 1362.8L1166 1349L1167 1353.9L1168 1363.1L1169 1368L1170 1367.8L1171 1367.3L1172 1366.4L1173 1365.4L1174 1364.2L1175 1363L1176 1361.8L1177 1360.7L1178 1359.7L1179 1358.8L1180 1357.8L1181 1356.9L1182 1356L1183 1355L1184 1354.1L1185 1353.1L1186 1352.1L1187 1351.1L1188 1350.1L1189 1349L1190 1347.9L1191 1346.8L1192 1345.6L1193 1344.4L1194 1343.1L1195 1341.8L1196 1340.5L1197 1339.1L1198 1337.7L1199 1336.2L1200 1334.7L1201 1333.2L1202 1331.6L1203 1329.9L1204 1328.3L1205 1326.5L1206 1324.7L1207 1322.8L1208 1320.8L1209 1318.8L1210 1316.7L1211 1314.5L1212 1312.3L1213 1310.1L1214 1307.8L1215 1305.5L1216 1303.1L1217 1300.6L1218 1298L1219 1295.3L1220 1292.5L1221 1289.7L1222 1286.7L1223 1283.7L1224 1280.5L1225 1277.2L1226 1273.9L1227 1270.4L1228 1266.7L1229 1262.9L1230 1259L1231 1254.8L1232 1250.2L1233 1245.3L1234 1240.2L1235 1235L1236 1229.7L1237 1224.6L1238 1219.6L1239 1214.6L1240 1209.6L1241 1204.5L1242 1199.5L1243 1194.4L1244 1189.4L1245 1184.5L1246 1179.7L1247 1175.1L1248 1170.4L1249 1165.5L1250 1160.3L1251 1154.5L1252 1147.9L1253 1140.1L1254 1132L1255 1124.9L1256 1118.6L1257 1111.5L1258 1103.8L1259 1095.7L1260 1087.4L1261 1079L1262 1070.6L1263 1062.1L1264 1053.4L1265 1044.6L1266 1035.7L1267 1026.6L1268 1017.4L1269 1008.3L1270 999.5L1271 990.8L1272 982.2L1273 974L1274 966.2L1275 959.1L1276 952.5L1277 946.1L1278 939.9L1279 933.4L1280 926.5L1281 919L1282 910.6L1283 900.9L1284 888.6L1285 874.5L1286 859.8L1287 845.9L1288 833.6L1289 822L1290 810.9L1291 800L1292 789L1293 777.8L1294 766.2L1295 754.3L1296 742.4L1297 730.6L1298 719.1L1299 708.2L1300 697.8L1301 687.7L1302 677.8L1303 668L1304 658.2L1305 648.3L1306 638.5L1307 628.9L1308 619.4L1309 609.7L1310 599.6L1311 588.8L1312 577L1313 564.3L1314 550.7L1315 536.6L1316 522.2L1317 507.5L1318 491.6L1319 475.3L1320 460.2L1321 447.3L1322 436.4L1323 426.5L1324 417.1L1325 407.8L1326 398.1L1327 387.7L1328 377.1L1329 366.5L1330 356.5L1331 347.3L1332 339L1333 331.2L1334 323.9L1335 316.8L1336 309.8L1337 302.9L1338 296L1339 289.3L1340 282.9L1341 277L1342 271.4L1343 266.2L1344 261.3L1345 256.5L1346 252L1347 247.5L1348 243.2L1349 238.8L1350 234.4L1351 230.2L1352 226.1L1353 222.3L1354 218.9L1355 215.9L1356 213L1357 210.1L1358 207.3L1359 204.6L1360 202.1L1361 199.6L1362 197.3L1363 195.1L1364 193.1L1365 191.3L1366 189.6L1367 188.2L1368 187L1369 185.9L1370 184.8L1371 183.8L1372 182.9L1373 182.1L1374 181.5L1375 181.1L1376 181L1377 181L1378 181.1L1379 181.3L1380 181.6L1381 181.8L1382 182.2L1383 182.6L1384 183L1385 183.9L1386 185.4L1387 187.4L1388 189.7L1389 191.8L1390 193.7L1391 195L1392 195.8L1393 196.5L1394 197.1L1395 197.6L1396 198.2L1397 198.9L1398 199.8L1399 201.1L1400 202.7L1401 204.5L1402 206.6L1403 208.9L1404 211.2L1405 213.7L1406 216.1L1407 218.5L1408 220.9L1409 223.6L1410 226.4L1411 229.6L1412 233.1L1413 237.1L1414 242.2L1415 249.2L1416 256.9L1417 263.7L1418 270.1L1419 276.2L1420 282.2L1421 288L1422 293.6L1423 298.8L1424 303.6L1425 308.5L1426 313.6L1427 319.4L1428 326.2L1429 334.1L1430 342.4L1431 350.5L1432 357.7L1433 364.3L1434 370.8L1435 377L1436 383.1L1437 389L1438 394.8L1439 400.4L1440 406.1L1441 411.7L1442 417.1L1443 422.5L1444 427.7L1445 432.9L1446 437.9L1447 443L1448 448.1L1449 453.1L1450 458.3L1451 463.5L1452 468.8L1453 474.2L1454 479.5L1455 484.9L1456 490.2L1457 495.3L1458 500.3L1459 505.1L1460 509.6L1461 513.9L1462 518L1463 522L1464 525.9L1465 529.7L1466 533.4L1467 537.3L1468 541.1L1469 545.1L1470 549.3L1471 553.7L1472 558.2L1473 562.8L1474 567.6L1475 572.4L1476 577.3L1477 582.3L1478 587.3L1479 592.3L1480 597.3L1481 602.5L1482 607.8L1483 613.2L1484 618.7L1485 624.1L1486 629.4L1487 634.5L1488 639.4L1489 644L1490 648.2L1491 652.4L1492 656.4L1493 660.3L1494 664.1L1495 667.8L1496 671.3L1497 674.8L1498 678.2L1499 681.4L1500 684.6L1501 687.6L1502 690.5L1503 693.2L1504 695.8L1505 698.3L1506 700.8L1507 703.3L1508 705.8L1509 708.4L1510 711.1L1511 713.9L1512 716.9L1513 720L1514 723.2L1515 726.6L1516 729.9L1517 733.4L1518 736.8L1519 740.3L1520 743.7L1521 747.2L1522 750.6L1523 753.9L1524 757.3L1525 760.7L1526 764.2L1527 767.7L1528 771.1L1529 774.5L1530 777.8L1531 781.1L1532 784.3L1533 787.4L1534 790.4L1535 793.2L1536 796L1537 798.7L1538 801.4L1539 804L1540 806.6L1541 809.2L1542 811.7L1543 814.3L1544 816.9L1545 819.6L1546 822.2L1547 824.9L1548 827.6L1549 830.3L1550 833L1551 835.7L1552 838.3L1553 840.9L1554 843.5L1555 846L1556 848.5L1557 850.9L1558 853.3L1559 855.7L1560 858L1561 860.2L1562 862.5L1563 864.7L1564 866.9L1565 869.1L1566 871.3L1567 873.4L1568 875.6L1569 877.8L1570 880L1571 882.2L1572 884.5L1573 886.7L1574 889L1575 891.4L1576 893.7L1577 896.1L1578 898.4L1579 900.8L1580 903.2L1581 905.6L1582 908L1583 910.4L1584 912.8L1585 915.3L1586 917.7L1587 920.1L1588 922.5L1589 924.9L1590 927.4L1591 929.8L1592 932.3L1593 934.7L1594 937.2L1595 939.6L1596 942L1597 944.3L1598 946.7L1599 948.9L1600 951.2L1601 953.4L1602 955.6L1603 957.7L1604 959.9L1605 962L1606 964.1L1607 966.2L1608 968.3L1609 970.4L1610 972.4L1611 974.5L1612 976.5L1613 978.6L1614 980.6L1615 982.6L1616 984.6L1617 986.5L1618 988.5L1619 990.4L1620 992.3L1621 994.2L1622 996.1L1623 998L1624 999.9L1625 1001.8L1626 1003.7L1627 1005.7L1628 1007.7L1629 1009.7L1630 1011.7L1631 1013.8L1632 1015.9L1633 1018L1634 1020.2L1635 1022.3L1636 1024.5L1637 1026.7L1638 1028.8L1639 1031L1640 1033.2L1641 1035.3L1642 1037.5L1643 1039.6L1644 1041.7L1645 1043.9L1646 1046L1647 1048.1L1648 1050.2L1649 1052.4L1650 1054.5L1651 1056.6L1652 1058.8L1653 1060.9L1654 1063L1655 1065.1L1656 1067.3L1657 1069.5L1658 1071.6L1659 1073.8L1660 1076L1661 1078.2L1662 1080.4L1663 1082.5L1664 1084.7L1665 1086.8L1666 1088.9L1667 1091L1668 1093.1L1669 1095.1L1670 1097.1L1671 1099L1672 1101L1673 1102.8L1674 1104.7L1675 1106.6L1676 1108.4L1677 1110.2L1678 1112L1679 1113.8L1680 1115.6L1681 1117.4L1682 1119.2L1683 1121L1684 1122.8L1685 1124.6L1686 1126.5L1687 1128.4L1688 1130.3L1689 1132.2L1690 1134.1L1691 1136L1692 1137.9L1693 1139.7L1694 1141.6L1695 1143.4L1696 1145.2L1697 1147L1698 1148.7L1699 1150.4L1700 1152L1701 1153.5L1702 1155.1L1703 1156.6L1704 1158.1L1705 1159.5L1706 1161L1707 1162.4L1708 1163.8L1709 1165.2L1710 1166.6L1711 1168L1712 1169.3L1713 1170.7L1714 1172L1715 1173.4L1716 1174.8L1717 1176.1L1718 1177.5L1719 1178.8L1720 1180.1L1721 1181.4L1722 1182.7L1723 1184L1724 1185.3L1725 1186.6L1726 1187.9L1727 1189.2L1728 1190.4L1729 1191.7L1730 1193L1731 1194.2L1732 1195.5L1733 1196.8L1734 1198L1735 1199.3L1736 1200.6L1737 1201.8L1738 1203.1L1739 1204.4L1740 1205.7L1741 1206.9L1742 1208.2L1743 1209.5L1744 1210.7L1745 1212L1746 1213.3L1747 1214.5L1748 1215.7L1749 1217L1750 1218.2L1751 1219.4L1752 1220.6L1753 1221.8L1754 1223L1755 1224.1L1756 1225.3L1757 1226.4L1758 1227.5L1759 1228.7L1760 1229.8L1761 1230.9L1762 1232L1763 1233.1L1764 1234.2L1765 1235.3L1766 1236.3L1767 1237.4L1768 1238.5L1769 1239.6L1770 1240.7L1771 1241.7L1772 1242.8L1773 1243.9L1774 1245L1775 1246.1L1776 1247.2L1777 1248.3L1778 1249.5L1779 1250.6L1780 1251.7L1781 1252.9L1782 1254L1783 1255.1L1784 1256.2L1785 1257.3L1786 1258.4L1787 1259.5L1788 1260.5L1789 1261.5L1790 1262.5L1791 1263.5L1792 1264.4L1793 1265.3L1794 1266.2L1795 1267.1L1796 1268L1797 1268.8L1798 1269.6L1799 1270.5L1800 1271.3L1801 1272.1L1802 1272.8L1803 1273.6L1804 1274.4L1805 1275.1L1806 1275.9L1807 1276.6L1808 1277.3L1809 1278L1810 1278.8L1811 1279.5L1812 1280.2L1813 1280.9L1814 1281.5L1815 1282.2L1816 1282.9L1817 1283.6L1818 1284.3L1819 1284.9L1820 1285.6L1821 1286.2L1822 1286.9L1823 1287.5L1824 1288.1L1825 1288.8L1826 1289.4L1827 1290L1828 1290.6L1829 1291.2L1830 1291.8L1831 1292.4L1832 1293L1833 1293.6L1834 1294.1L1835 1294.7L1836 1295.3L1837 1295.8L1838 1296.4L1839 1296.9L1840 1297.4L1841 1297.9L1842 1298.5L1843 1299L1844 1299.4L1845 1299.9L1846 1300.4L1847 1300.9L1848 1301.4L1849 1301.9L1850 1302.3L1851 1302.8L1852 1303.3L1853 1303.8L1854 1304.3L1855 1304.8L1856 1305.3L1857 1305.8L1858 1306.3L1859 1306.8L1860 1307.4L1861 1307.9L1862 1308.5L1863 1309L1864 1309.6L1865 1310.2L1866 1310.8L1867 1311.4L1868 1312L1869 1312.6L1870 1313.2L1871 1313.8L1872 1314.4L1873 1315L1874 1315.6L1875 1316.2L1876 1316.9L1877 1317.5L1878 1318.1L1879 1318.7L1880 1319.3L1881 1319.9L1882 1320.4L1883 1321L1884 1321.6L1885 1322.2L1886 1322.7L1887 1323.2L1888 1323.8L1889 1324.3L1890 1324.8L1891 1325.3L1892 1325.8L1893 1326.3L1894 1326.7L1895 1327.2L1896 1327.7L1897 1328.2L1898 1328.6L1899 1329.1L1900 1329.5L1901 1330L1902 1330.5L1903 1330.9L1904 1331.3L1905 1331.8L1906 1332.2L1907 1332.7L1908 1333.1L1909 1333.5L1910 1334L1911 1334.4L1912 1334.8L1913 1335.2L1914 1335.7L1915 1336.1L1916 1336.5L1917 1336.9L1918 1337.3L1919 1337.7L1920 1338.1L1921 1338.5L1922 1338.9L1923 1339.3L1924 1339.7L1925 1340.1L1926 1340.4L1927 1340.8L1928 1341.2L1929 1341.6L1930 1341.9L1931 1342.3L1932 1342.7L1933 1343L1934 1343.4L1935 1343.8L1936 1344.1L1937 1344.5L1938 1344.8L1939 1345.2L1940 1345.5L1941 1345.8L1942 1346.2L1943 1346.5L1944 1346.8L1945 1347.2L1946 1347.5L1947 1347.8L1948 1348.1L1949 1348.4L1950 1348.7L1951 1349L1952 1349.3L1953 1349.6L1954 1349.9L1955 1350.2L1956 1350.5L1957 1350.7L1958 1351L1959 1351.3L1960 1351.6L1961 1351.8L1962 1352.1L1963 1352.4L1964 1352.7L1965 1352.9L1966 1353.2L1967 1353.5L1968 1353.7L1969 1354L1970 1354.3L1971 1354.5L1972 1354.8L1973 1355.1L1974 1355.3L1975 1355.6L1976 1355.9L1977 1356.2L1978 1356.4L1979 1356.7L1980 1357L1981 1357.3L1982 1357.6L1983 1357.9L1984 1358.2L1985 1358.5L1986 1358.8L1987 1359.1L1988 1359.4L1989 1359.7L1990 1360L1991 1360.3L1992 1360.6L1993 1360.9L1994 1361.2L1995 1361.6L1996 1361.9L1997 1362.2L1998 1362.5L1999 1362.8L2000 1363.1L2001 1363.4L2002 1363.6L2003 1363.9L2004 1364.2L2005 1364.5L2006 1364.8L2007 1365L2008 1365.3L2009 1365.5L2010 1365.8L2011 1366L2012 1366.2L2013 1366.4L2014 1366.6L2015 1366.9L2016 1367.1L2017 1367.2L2018 1367.4L2019 1367.6L2020 1367.8L2021 1368L2022 1368.2L2023 1368.3L2024 1368.5L2025 1368.7L2026 1368.8L2027 1369L2028 1369.2L2029 1369.3L2030 1369.5L2031 1369.6L2032 1369.8L2033 1369.9L2034 1370.1L2035 1370.3L2036 1370.4L2037 1370.6L2038 1370.7L2039 1370.9L2040 1371L2041 1371.1L2042 1371.3L2043 1371.4L2044 1371.6L2045 1371.7L2046 1371.9L2047 1372L2048 1372.2L2049 1372.3L2050 1372.4L2051 1372.6L2052 1372.7L2053 1372.9L2054 1373L2055 1373.1L2056 1373.3L2057 1373.4L2058 1373.5L2059 1373.7L2060 1373.8L2061 1373.9L2062 1374L2063 1374.2L2064 1374.3L2065 1374.4L2066 1374.5L2067 1374.6L2068 1374.8L2069 1374.9L2070 1375" fill="none" stroke="#00f" stroke-width="8" stroke-linecap="round" stroke-linejoin="round" stroke-dasharray="28 38"/>
</g>
<g stroke="#000" stroke-width="6" fill="none" stroke-linecap="butt"><rect x="241" y="31" width="1825" height="1348"/><path d="M241 1382v12M337.1 1382v25M337.1 34v24M433.1 1382v12M433.1 34v10M529.2 1382v25M529.2 34v24M625.2 1382v12M625.2 34v10M721.3 1382v25M721.3 34v24M817.3 1382v12M817.3 34v10M913.4 1382v25M913.4 34v24M1009.4 1382v12M1009.4 34v10M1105.5 1382v25M1105.5 34v24M1201.5 1382v12M1201.5 34v10M1297.6 1382v25M1297.6 34v24M1393.6 1382v12M1393.6 34v10M1489.7 1382v25M1489.7 34v24M1585.7 1382v12M1585.7 34v10M1681.8 1382v25M1681.8 34v24M1777.8 1382v12M1777.8 34v10M1873.9 1382v25M1873.9 34v24M1969.9 1382v12M1969.9 34v10M2066 1382v25M238 1379h-25M238 1256.5h-11M2063 1256.5h-10M238 1133.9h-25M2063 1133.9h-24M238 1011.4h-11M2063 1011.4h-10M238 888.8h-25M2063 888.8h-24M238 766.3h-11M2063 766.3h-10M238 643.7h-25M2063 643.7h-24M238 521.2h-11M2063 521.2h-10M238 398.6h-25M2063 398.6h-24M238 276.1h-11M2063 276.1h-10M238 153.5h-25M2063 153.5h-24M238 31h-11"/></g>
<g font-family="'Liberation Sans', Arial, sans-serif" font-weight="bold" font-size="61.5" fill="#000">
<text transform="translate(336.6 1470.8) scale(0.925 1)" text-anchor="middle">350</text>
<text transform="translate(528.7 1470.8) scale(0.925 1)" text-anchor="middle">400</text>
<text transform="translate(720.8 1470.8) scale(0.925 1)" text-anchor="middle">450</text>
<text transform="translate(912.9 1470.8) scale(0.925 1)" text-anchor="middle">500</text>
<text transform="translate(1105 1470.8) scale(0.925 1)" text-anchor="middle">550</text>
<text transform="translate(1297.1 1470.8) scale(0.925 1)" text-anchor="middle">600</text>
<text transform="translate(1489.2 1470.8) scale(0.925 1)" text-anchor="middle">650</text>
<text transform="translate(1681.3 1470.8) scale(0.925 1)" text-anchor="middle">700</text>
<text transform="translate(1873.4 1470.8) scale(0.925 1)" text-anchor="middle">750</text>
<text transform="translate(2065.5 1470.8) scale(0.925 1)" text-anchor="middle">800</text>
<text transform="translate(194.5 1396.3) scale(0.925 1)" text-anchor="end">0.0</text>
<text transform="translate(194.5 1151.2) scale(0.925 1)" text-anchor="end">0.2</text>
<text transform="translate(194.5 906.1) scale(0.925 1)" text-anchor="end">0.4</text>
<text transform="translate(194.5 661) scale(0.925 1)" text-anchor="end">0.6</text>
<text transform="translate(194.5 415.9) scale(0.925 1)" text-anchor="end">0.8</text>
<text transform="translate(194.5 170.8) scale(0.925 1)" text-anchor="end">1.0</text>
</g>
<g font-family="'Liberation Sans', Arial, sans-serif" font-size="72" fill="#000">
<text x="1154" y="1584.2" text-anchor="middle" font-size="72.3">Wavelength (nm)</text>
<text transform="translate(84 703.5) rotate(-90)" text-anchor="middle">Normalized PL Intensity (a.u.)</text>
</g>
<g font-family="'Liberation Sans', Arial, sans-serif" font-size="53" fill="#000"><text x="757" y="127">CBP</text><text x="757" y="191">mCP</text><text x="757" y="255">TAPC</text><text x="757" y="319">TCTA</text></g><path d="M626 110H743" stroke="#000" stroke-width="4" stroke-linecap="round"/><rect x="678" y="104" width="12" height="12" fill="#fff" stroke="#000" stroke-width="2"/><path d="M626 174H743" stroke="#f00" stroke-width="4" stroke-linecap="round"/><circle cx="684" cy="174" r="6.7" fill="#fff" stroke="#f00" stroke-width="2"/><path d="M626 238H743" stroke="#008080" stroke-width="4" stroke-linecap="round"/><path d="M684 229.1l7.75 13.42h-15.5z" fill="#fff" stroke="#008080" stroke-width="2"/><path d="M626 302H677.5M690.5 302H743" stroke="#00f" stroke-width="4" stroke-linecap="round"/><path d="M684 293v18m-8-16.5l16 15m0-15l-16 15m0-7.5h16" fill="none" stroke="#00f" stroke-width="2"/><g font-family="'Liberation Sans', Arial, sans-serif" font-size="52" fill="#000"><text x="1574" y="123.5">4% Ir(dmpq)<tspan font-size="46" dy="13">2</tspan><tspan dy="-13">(acac)</tspan></text><text x="1706" y="200.5">CBP</text><text x="1706" y="264.8">mCP</text><text x="1706" y="329.1">TAPC</text><text x="1706" y="393.4">TCTA</text></g><path d="M1575.5 183H1691" stroke="#000" stroke-width="8" stroke-linecap="round"/><path d="M1575.5 247.3H1691" stroke="#f00" stroke-width="8" stroke-linecap="round" stroke-dasharray="11 19"/><path d="M1575.5 311.6H1691" stroke="#008080" stroke-width="8" stroke-linecap="round" stroke-dasharray="5 34"/><path d="M1575.5 375.9H1691" stroke="#00f" stroke-width="8" stroke-linecap="round" stroke-dasharray="28 38"/>
</svg></body></html>
